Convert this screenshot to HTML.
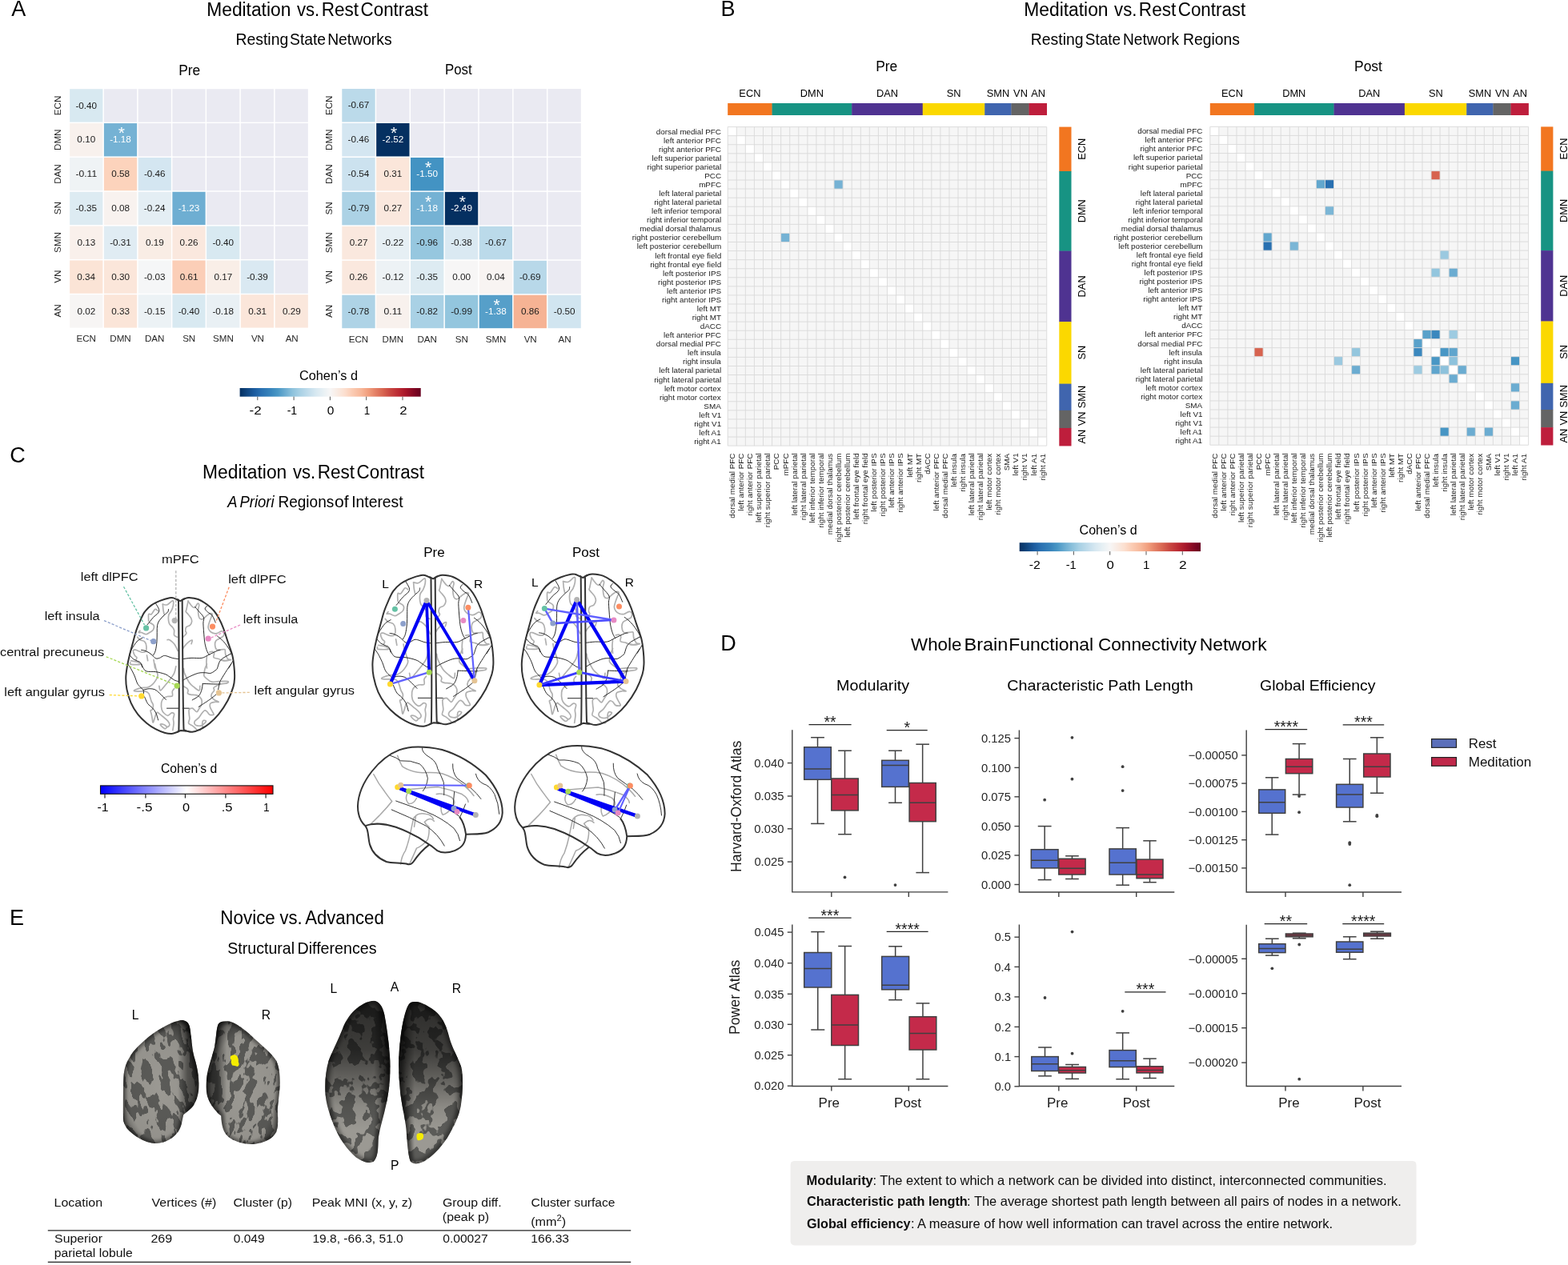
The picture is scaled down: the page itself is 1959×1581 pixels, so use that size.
<!DOCTYPE html>
<html><head><meta charset="utf-8"><title>Figure</title>
<style>html,body{margin:0;padding:0;background:#fff;overflow:hidden;}svg{display:block;}</style>
</head><body>
<svg width="1959" height="1581" viewBox="0 0 1959 1581" font-family="'Liberation Sans', Arial, Helvetica, sans-serif">
<text x="14.25" y="20.3" font-size="27">A</text>
<text x="258.27" y="19.9" font-size="23.5" textLength="105.05" lengthAdjust="spacingAndGlyphs">Meditation</text>
<text x="370.92" y="19.9" font-size="23.5" textLength="28.23" lengthAdjust="spacingAndGlyphs">vs.</text>
<text x="401.67" y="19.9" font-size="23.5" textLength="46.4" lengthAdjust="spacingAndGlyphs">Rest</text>
<text x="450.61" y="19.9" font-size="23.5" textLength="84.37" lengthAdjust="spacingAndGlyphs">Contrast</text>
<text x="294.38" y="55.9" font-size="19.8" textLength="65.9" lengthAdjust="spacingAndGlyphs">Resting</text>
<text x="362.1" y="55.9" font-size="19.8" textLength="44.98" lengthAdjust="spacingAndGlyphs">State</text>
<text x="409.18" y="55.9" font-size="19.8" textLength="80.44" lengthAdjust="spacingAndGlyphs">Networks</text>
<text x="223.16" y="93.9" font-size="17.5" textLength="27.11" lengthAdjust="spacingAndGlyphs">Pre</text>
<text x="556.06" y="93.2" font-size="17.5" textLength="33.56" lengthAdjust="spacingAndGlyphs">Post</text>
<rect x="87.15" y="111.25" width="41.24" height="41.34" fill="#d8e9f1"/>
<text x="94.41" y="135.52" font-size="11.7" textLength="26.67" lengthAdjust="spacingAndGlyphs" fill="#1a1a1a">-0.40</text>
<rect x="129.89" y="111.25" width="41.24" height="41.34" fill="#eaeaf2"/>
<rect x="172.64" y="111.25" width="41.24" height="41.34" fill="#eaeaf2"/>
<rect x="215.38" y="111.25" width="41.24" height="41.34" fill="#eaeaf2"/>
<rect x="258.12" y="111.25" width="41.24" height="41.34" fill="#eaeaf2"/>
<rect x="300.86" y="111.25" width="41.24" height="41.34" fill="#eaeaf2"/>
<rect x="343.61" y="111.25" width="41.24" height="41.34" fill="#eaeaf2"/>
<rect x="87.15" y="154.09" width="41.24" height="41.34" fill="#f8f1ed"/>
<text x="96.39" y="178.35" font-size="11.7" textLength="22.77" lengthAdjust="spacingAndGlyphs" fill="#1a1a1a">0.10</text>
<rect x="129.89" y="154.09" width="41.24" height="41.34" fill="#75b2d4"/>
<text x="137.17" y="178.35" font-size="11.7" textLength="26.67" lengthAdjust="spacingAndGlyphs" fill="#ffffff">-1.18</text>
<text x="147.72" y="173.32" font-size="21" fill="#ffffff">*</text>
<rect x="172.64" y="154.09" width="41.24" height="41.34" fill="#eaeaf2"/>
<rect x="215.38" y="154.09" width="41.24" height="41.34" fill="#eaeaf2"/>
<rect x="258.12" y="154.09" width="41.24" height="41.34" fill="#eaeaf2"/>
<rect x="300.86" y="154.09" width="41.24" height="41.34" fill="#eaeaf2"/>
<rect x="343.61" y="154.09" width="41.24" height="41.34" fill="#eaeaf2"/>
<rect x="87.15" y="196.92" width="41.24" height="41.34" fill="#eff3f5"/>
<text x="94.46" y="221.19" font-size="11.7" textLength="26.67" lengthAdjust="spacingAndGlyphs" fill="#1a1a1a">-0.11</text>
<rect x="129.89" y="196.92" width="41.24" height="41.34" fill="#fcd3bc"/>
<text x="139.15" y="221.19" font-size="11.7" textLength="22.77" lengthAdjust="spacingAndGlyphs" fill="#1a1a1a">0.58</text>
<rect x="172.64" y="196.92" width="41.24" height="41.34" fill="#d4e6f1"/>
<text x="179.92" y="221.19" font-size="11.7" textLength="26.67" lengthAdjust="spacingAndGlyphs" fill="#1a1a1a">-0.46</text>
<rect x="215.38" y="196.92" width="41.24" height="41.34" fill="#eaeaf2"/>
<rect x="258.12" y="196.92" width="41.24" height="41.34" fill="#eaeaf2"/>
<rect x="300.86" y="196.92" width="41.24" height="41.34" fill="#eaeaf2"/>
<rect x="343.61" y="196.92" width="41.24" height="41.34" fill="#eaeaf2"/>
<rect x="87.15" y="239.76" width="41.24" height="41.34" fill="#ddebf2"/>
<text x="94.42" y="264.03" font-size="11.7" textLength="26.67" lengthAdjust="spacingAndGlyphs" fill="#1a1a1a">-0.35</text>
<rect x="129.89" y="239.76" width="41.24" height="41.34" fill="#f8f2ef"/>
<text x="139.15" y="264.03" font-size="11.7" textLength="22.77" lengthAdjust="spacingAndGlyphs" fill="#1a1a1a">0.08</text>
<rect x="172.64" y="239.76" width="41.24" height="41.34" fill="#e4eef4"/>
<text x="179.83" y="264.03" font-size="11.7" textLength="26.67" lengthAdjust="spacingAndGlyphs" fill="#1a1a1a">-0.24</text>
<rect x="215.38" y="239.76" width="41.24" height="41.34" fill="#6eaed2"/>
<text x="222.66" y="264.03" font-size="11.7" textLength="26.67" lengthAdjust="spacingAndGlyphs" fill="#ffffff">-1.23</text>
<rect x="258.12" y="239.76" width="41.24" height="41.34" fill="#eaeaf2"/>
<rect x="300.86" y="239.76" width="41.24" height="41.34" fill="#eaeaf2"/>
<rect x="343.61" y="239.76" width="41.24" height="41.34" fill="#eaeaf2"/>
<rect x="87.15" y="282.59" width="41.24" height="41.34" fill="#f9f0eb"/>
<text x="96.41" y="306.86" font-size="11.7" textLength="22.77" lengthAdjust="spacingAndGlyphs" fill="#1a1a1a">0.13</text>
<rect x="129.89" y="282.59" width="41.24" height="41.34" fill="#e0ecf3"/>
<text x="137.21" y="306.86" font-size="11.7" textLength="26.67" lengthAdjust="spacingAndGlyphs" fill="#1a1a1a">-0.31</text>
<rect x="172.64" y="282.59" width="41.24" height="41.34" fill="#f9ede5"/>
<text x="181.92" y="306.86" font-size="11.7" textLength="22.77" lengthAdjust="spacingAndGlyphs" fill="#1a1a1a">0.19</text>
<rect x="215.38" y="282.59" width="41.24" height="41.34" fill="#fae8de"/>
<text x="224.64" y="306.86" font-size="11.7" textLength="22.77" lengthAdjust="spacingAndGlyphs" fill="#1a1a1a">0.26</text>
<rect x="258.12" y="282.59" width="41.24" height="41.34" fill="#d8e9f1"/>
<text x="265.38" y="306.86" font-size="11.7" textLength="26.67" lengthAdjust="spacingAndGlyphs" fill="#1a1a1a">-0.40</text>
<rect x="300.86" y="282.59" width="41.24" height="41.34" fill="#eaeaf2"/>
<rect x="343.61" y="282.59" width="41.24" height="41.34" fill="#eaeaf2"/>
<rect x="87.15" y="325.43" width="41.24" height="41.34" fill="#fbe4d6"/>
<text x="96.33" y="349.7" font-size="11.7" textLength="22.77" lengthAdjust="spacingAndGlyphs" fill="#1a1a1a">0.34</text>
<rect x="129.89" y="325.43" width="41.24" height="41.34" fill="#fbe6da"/>
<text x="139.13" y="349.7" font-size="11.7" textLength="22.77" lengthAdjust="spacingAndGlyphs" fill="#1a1a1a">0.30</text>
<rect x="172.64" y="325.43" width="41.24" height="41.34" fill="#f5f6f7"/>
<text x="179.92" y="349.7" font-size="11.7" textLength="26.67" lengthAdjust="spacingAndGlyphs" fill="#1a1a1a">-0.03</text>
<rect x="215.38" y="325.43" width="41.24" height="41.34" fill="#fbceb7"/>
<text x="224.67" y="349.7" font-size="11.7" textLength="22.77" lengthAdjust="spacingAndGlyphs" fill="#1a1a1a">0.61</text>
<rect x="258.12" y="325.43" width="41.24" height="41.34" fill="#f9eee7"/>
<text x="267.42" y="349.7" font-size="11.7" textLength="22.77" lengthAdjust="spacingAndGlyphs" fill="#1a1a1a">0.17</text>
<rect x="300.86" y="325.43" width="41.24" height="41.34" fill="#dae9f2"/>
<text x="308.17" y="349.7" font-size="11.7" textLength="26.67" lengthAdjust="spacingAndGlyphs" fill="#1a1a1a">-0.39</text>
<rect x="343.61" y="325.43" width="41.24" height="41.34" fill="#eaeaf2"/>
<rect x="87.15" y="368.26" width="41.24" height="41.34" fill="#f7f5f4"/>
<text x="96.45" y="392.53" font-size="11.7" textLength="22.77" lengthAdjust="spacingAndGlyphs" fill="#1a1a1a">0.02</text>
<rect x="129.89" y="368.26" width="41.24" height="41.34" fill="#fbe5d8"/>
<text x="139.16" y="392.53" font-size="11.7" textLength="22.77" lengthAdjust="spacingAndGlyphs" fill="#1a1a1a">0.33</text>
<rect x="172.64" y="368.26" width="41.24" height="41.34" fill="#ecf2f5"/>
<text x="179.91" y="392.53" font-size="11.7" textLength="26.67" lengthAdjust="spacingAndGlyphs" fill="#1a1a1a">-0.15</text>
<rect x="215.38" y="368.26" width="41.24" height="41.34" fill="#d8e9f1"/>
<text x="222.63" y="392.53" font-size="11.7" textLength="26.67" lengthAdjust="spacingAndGlyphs" fill="#1a1a1a">-0.40</text>
<rect x="258.12" y="368.26" width="41.24" height="41.34" fill="#e9f0f4"/>
<text x="265.4" y="392.53" font-size="11.7" textLength="26.67" lengthAdjust="spacingAndGlyphs" fill="#1a1a1a">-0.18</text>
<rect x="300.86" y="368.26" width="41.24" height="41.34" fill="#fbe6da"/>
<text x="310.16" y="392.53" font-size="11.7" textLength="22.77" lengthAdjust="spacingAndGlyphs" fill="#1a1a1a">0.31</text>
<rect x="343.61" y="368.26" width="41.24" height="41.34" fill="#fae7dc"/>
<text x="352.89" y="392.53" font-size="11.7" textLength="22.77" lengthAdjust="spacingAndGlyphs" fill="#1a1a1a">0.29</text>
<text x="95.52" y="426.8" font-size="11.6" textLength="24.49" lengthAdjust="spacingAndGlyphs" fill="#262626">ECN</text>
<g transform="translate(72.2 131.92) rotate(-90)"><text x="-12.25" y="3.99" font-size="11.6" textLength="24.49" lengthAdjust="spacingAndGlyphs" fill="#262626">ECN</text></g>
<text x="137.3" y="426.8" font-size="11.6" textLength="26.42" lengthAdjust="spacingAndGlyphs" fill="#262626">DMN</text>
<g transform="translate(72.2 174.75) rotate(-90)"><text x="-13.21" y="3.99" font-size="11.6" textLength="26.42" lengthAdjust="spacingAndGlyphs" fill="#262626">DMN</text></g>
<text x="181.01" y="426.8" font-size="11.6" textLength="24.49" lengthAdjust="spacingAndGlyphs" fill="#262626">DAN</text>
<g transform="translate(72.2 217.59) rotate(-90)"><text x="-12.25" y="3.99" font-size="11.6" textLength="24.49" lengthAdjust="spacingAndGlyphs" fill="#262626">DAN</text></g>
<text x="228.15" y="426.8" font-size="11.6" textLength="16.11" lengthAdjust="spacingAndGlyphs" fill="#262626">SN</text>
<g transform="translate(72.2 260.43) rotate(-90)"><text x="-7.85" y="3.99" font-size="11.6" textLength="16.11" lengthAdjust="spacingAndGlyphs" fill="#262626">SN</text></g>
<text x="266.06" y="426.8" font-size="11.6" textLength="25.78" lengthAdjust="spacingAndGlyphs" fill="#262626">SMN</text>
<g transform="translate(72.2 303.26) rotate(-90)"><text x="-12.68" y="3.99" font-size="11.6" textLength="25.78" lengthAdjust="spacingAndGlyphs" fill="#262626">SMN</text></g>
<text x="313.88" y="426.8" font-size="11.6" textLength="16.11" lengthAdjust="spacingAndGlyphs" fill="#262626">VN</text>
<g transform="translate(72.2 346.1) rotate(-90)"><text x="-7.61" y="3.99" font-size="11.6" textLength="16.11" lengthAdjust="spacingAndGlyphs" fill="#262626">VN</text></g>
<text x="356.63" y="426.8" font-size="11.6" textLength="16.11" lengthAdjust="spacingAndGlyphs" fill="#262626">AN</text>
<g transform="translate(72.2 388.93) rotate(-90)"><text x="-7.6" y="3.99" font-size="11.6" textLength="16.11" lengthAdjust="spacingAndGlyphs" fill="#262626">AN</text></g>
<rect x="427.3" y="111.05" width="41.36" height="41.45" fill="#bbdaea"/>
<text x="434.68" y="135.38" font-size="11.7" textLength="26.67" lengthAdjust="spacingAndGlyphs" fill="#1a1a1a">-0.67</text>
<rect x="470.16" y="111.05" width="41.36" height="41.45" fill="#eaeaf2"/>
<rect x="513.01" y="111.05" width="41.36" height="41.45" fill="#eaeaf2"/>
<rect x="555.87" y="111.05" width="41.36" height="41.45" fill="#eaeaf2"/>
<rect x="598.73" y="111.05" width="41.36" height="41.45" fill="#eaeaf2"/>
<rect x="641.59" y="111.05" width="41.36" height="41.45" fill="#eaeaf2"/>
<rect x="684.44" y="111.05" width="41.36" height="41.45" fill="#eaeaf2"/>
<rect x="427.3" y="154" width="41.36" height="41.45" fill="#d4e6f1"/>
<text x="434.64" y="178.32" font-size="11.7" textLength="26.67" lengthAdjust="spacingAndGlyphs" fill="#1a1a1a">-0.46</text>
<rect x="470.16" y="154" width="41.36" height="41.45" fill="#053061"/>
<text x="477.54" y="178.32" font-size="11.7" textLength="26.67" lengthAdjust="spacingAndGlyphs" fill="#ffffff">-2.52</text>
<text x="488.04" y="173.29" font-size="21" fill="#ffffff">*</text>
<rect x="513.01" y="154" width="41.36" height="41.45" fill="#eaeaf2"/>
<rect x="555.87" y="154" width="41.36" height="41.45" fill="#eaeaf2"/>
<rect x="598.73" y="154" width="41.36" height="41.45" fill="#eaeaf2"/>
<rect x="641.59" y="154" width="41.36" height="41.45" fill="#eaeaf2"/>
<rect x="684.44" y="154" width="41.36" height="41.45" fill="#eaeaf2"/>
<rect x="427.3" y="196.95" width="41.36" height="41.45" fill="#cce2ef"/>
<text x="434.56" y="221.27" font-size="11.7" textLength="26.67" lengthAdjust="spacingAndGlyphs" fill="#1a1a1a">-0.54</text>
<rect x="470.16" y="196.95" width="41.36" height="41.45" fill="#fbe6da"/>
<text x="479.51" y="221.27" font-size="11.7" textLength="22.77" lengthAdjust="spacingAndGlyphs" fill="#1a1a1a">0.31</text>
<rect x="513.01" y="196.95" width="41.36" height="41.45" fill="#4393c3"/>
<text x="520.33" y="221.27" font-size="11.7" textLength="26.67" lengthAdjust="spacingAndGlyphs" fill="#ffffff">-1.50</text>
<text x="530.9" y="216.24" font-size="21" fill="#ffffff">*</text>
<rect x="555.87" y="196.95" width="41.36" height="41.45" fill="#eaeaf2"/>
<rect x="598.73" y="196.95" width="41.36" height="41.45" fill="#eaeaf2"/>
<rect x="641.59" y="196.95" width="41.36" height="41.45" fill="#eaeaf2"/>
<rect x="684.44" y="196.95" width="41.36" height="41.45" fill="#eaeaf2"/>
<rect x="427.3" y="239.9" width="41.36" height="41.45" fill="#acd2e5"/>
<text x="434.66" y="264.23" font-size="11.7" textLength="26.67" lengthAdjust="spacingAndGlyphs" fill="#1a1a1a">-0.79</text>
<rect x="470.16" y="239.9" width="41.36" height="41.45" fill="#fae8de"/>
<text x="479.52" y="264.23" font-size="11.7" textLength="22.77" lengthAdjust="spacingAndGlyphs" fill="#1a1a1a">0.27</text>
<rect x="513.01" y="239.9" width="41.36" height="41.45" fill="#75b2d4"/>
<text x="520.35" y="264.23" font-size="11.7" textLength="26.67" lengthAdjust="spacingAndGlyphs" fill="#ffffff">-1.18</text>
<text x="530.9" y="259.19" font-size="21" fill="#ffffff">*</text>
<rect x="555.87" y="239.9" width="41.36" height="41.45" fill="#053061"/>
<text x="563.23" y="264.23" font-size="11.7" textLength="26.67" lengthAdjust="spacingAndGlyphs" fill="#ffffff">-2.49</text>
<text x="573.75" y="259.19" font-size="21" fill="#ffffff">*</text>
<rect x="598.73" y="239.9" width="41.36" height="41.45" fill="#eaeaf2"/>
<rect x="641.59" y="239.9" width="41.36" height="41.45" fill="#eaeaf2"/>
<rect x="684.44" y="239.9" width="41.36" height="41.45" fill="#eaeaf2"/>
<rect x="427.3" y="282.85" width="41.36" height="41.45" fill="#fae8de"/>
<text x="436.66" y="307.18" font-size="11.7" textLength="22.77" lengthAdjust="spacingAndGlyphs" fill="#1a1a1a">0.27</text>
<rect x="470.16" y="282.85" width="41.36" height="41.45" fill="#e6eff4"/>
<text x="477.54" y="307.18" font-size="11.7" textLength="26.67" lengthAdjust="spacingAndGlyphs" fill="#1a1a1a">-0.22</text>
<rect x="513.01" y="282.85" width="41.36" height="41.45" fill="#96c7df"/>
<text x="520.36" y="307.18" font-size="11.7" textLength="26.67" lengthAdjust="spacingAndGlyphs" fill="#1a1a1a">-0.96</text>
<rect x="555.87" y="282.85" width="41.36" height="41.45" fill="#dae9f2"/>
<text x="563.21" y="307.18" font-size="11.7" textLength="26.67" lengthAdjust="spacingAndGlyphs" fill="#1a1a1a">-0.38</text>
<rect x="598.73" y="282.85" width="41.36" height="41.45" fill="#bbdaea"/>
<text x="606.11" y="307.18" font-size="11.7" textLength="26.67" lengthAdjust="spacingAndGlyphs" fill="#1a1a1a">-0.67</text>
<rect x="641.59" y="282.85" width="41.36" height="41.45" fill="#eaeaf2"/>
<rect x="684.44" y="282.85" width="41.36" height="41.45" fill="#eaeaf2"/>
<rect x="427.3" y="325.8" width="41.36" height="41.45" fill="#fae8de"/>
<text x="436.62" y="350.12" font-size="11.7" textLength="22.77" lengthAdjust="spacingAndGlyphs" fill="#1a1a1a">0.26</text>
<rect x="470.16" y="325.8" width="41.36" height="41.45" fill="#edf2f5"/>
<text x="477.54" y="350.12" font-size="11.7" textLength="26.67" lengthAdjust="spacingAndGlyphs" fill="#1a1a1a">-0.12</text>
<rect x="513.01" y="325.8" width="41.36" height="41.45" fill="#ddebf2"/>
<text x="520.34" y="350.12" font-size="11.7" textLength="26.67" lengthAdjust="spacingAndGlyphs" fill="#1a1a1a">-0.35</text>
<rect x="555.87" y="325.8" width="41.36" height="41.45" fill="#f7f6f6"/>
<text x="565.16" y="350.12" font-size="11.7" textLength="22.77" lengthAdjust="spacingAndGlyphs" fill="#1a1a1a">0.00</text>
<rect x="598.73" y="325.8" width="41.36" height="41.45" fill="#f8f4f2"/>
<text x="607.96" y="350.12" font-size="11.7" textLength="22.77" lengthAdjust="spacingAndGlyphs" fill="#1a1a1a">0.04</text>
<rect x="641.59" y="325.8" width="41.36" height="41.45" fill="#b8d8e9"/>
<text x="648.95" y="350.12" font-size="11.7" textLength="26.67" lengthAdjust="spacingAndGlyphs" fill="#1a1a1a">-0.69</text>
<rect x="684.44" y="325.8" width="41.36" height="41.45" fill="#eaeaf2"/>
<rect x="427.3" y="368.75" width="41.36" height="41.45" fill="#aed3e6"/>
<text x="434.64" y="393.08" font-size="11.7" textLength="26.67" lengthAdjust="spacingAndGlyphs" fill="#1a1a1a">-0.78</text>
<rect x="470.16" y="368.75" width="41.36" height="41.45" fill="#f8f1ed"/>
<text x="479.51" y="393.08" font-size="11.7" textLength="22.77" lengthAdjust="spacingAndGlyphs" fill="#1a1a1a">0.11</text>
<rect x="513.01" y="368.75" width="41.36" height="41.45" fill="#a9d1e5"/>
<text x="520.39" y="393.08" font-size="11.7" textLength="26.67" lengthAdjust="spacingAndGlyphs" fill="#1a1a1a">-0.82</text>
<rect x="555.87" y="368.75" width="41.36" height="41.45" fill="#93c6de"/>
<text x="563.23" y="393.08" font-size="11.7" textLength="26.67" lengthAdjust="spacingAndGlyphs" fill="#1a1a1a">-0.99</text>
<rect x="598.73" y="368.75" width="41.36" height="41.45" fill="#569fc9"/>
<text x="606.07" y="393.08" font-size="11.7" textLength="26.67" lengthAdjust="spacingAndGlyphs" fill="#ffffff">-1.38</text>
<text x="616.61" y="388.04" font-size="21" fill="#ffffff">*</text>
<rect x="641.59" y="368.75" width="41.36" height="41.45" fill="#f6b394"/>
<text x="650.91" y="393.08" font-size="11.7" textLength="22.77" lengthAdjust="spacingAndGlyphs" fill="#1a1a1a">0.86</text>
<rect x="684.44" y="368.75" width="41.36" height="41.45" fill="#d1e5f0"/>
<text x="691.76" y="393.08" font-size="11.7" textLength="26.67" lengthAdjust="spacingAndGlyphs" fill="#1a1a1a">-0.50</text>
<text x="435.73" y="427.6" font-size="11.6" textLength="24.49" lengthAdjust="spacingAndGlyphs" fill="#262626">ECN</text>
<g transform="translate(411 131.78) rotate(-90)"><text x="-12.25" y="3.99" font-size="11.6" textLength="24.49" lengthAdjust="spacingAndGlyphs" fill="#262626">ECN</text></g>
<text x="477.62" y="427.6" font-size="11.6" textLength="26.42" lengthAdjust="spacingAndGlyphs" fill="#262626">DMN</text>
<g transform="translate(411 174.72) rotate(-90)"><text x="-13.21" y="3.99" font-size="11.6" textLength="26.42" lengthAdjust="spacingAndGlyphs" fill="#262626">DMN</text></g>
<text x="521.44" y="427.6" font-size="11.6" textLength="24.49" lengthAdjust="spacingAndGlyphs" fill="#262626">DAN</text>
<g transform="translate(411 217.67) rotate(-90)"><text x="-12.25" y="3.99" font-size="11.6" textLength="24.49" lengthAdjust="spacingAndGlyphs" fill="#262626">DAN</text></g>
<text x="568.7" y="427.6" font-size="11.6" textLength="16.11" lengthAdjust="spacingAndGlyphs" fill="#262626">SN</text>
<g transform="translate(411 260.62) rotate(-90)"><text x="-7.85" y="3.99" font-size="11.6" textLength="16.11" lengthAdjust="spacingAndGlyphs" fill="#262626">SN</text></g>
<text x="606.73" y="427.6" font-size="11.6" textLength="25.78" lengthAdjust="spacingAndGlyphs" fill="#262626">SMN</text>
<g transform="translate(411 303.57) rotate(-90)"><text x="-12.68" y="3.99" font-size="11.6" textLength="25.78" lengthAdjust="spacingAndGlyphs" fill="#262626">SMN</text></g>
<text x="654.65" y="427.6" font-size="11.6" textLength="16.11" lengthAdjust="spacingAndGlyphs" fill="#262626">VN</text>
<g transform="translate(411 346.52) rotate(-90)"><text x="-7.61" y="3.99" font-size="11.6" textLength="16.11" lengthAdjust="spacingAndGlyphs" fill="#262626">VN</text></g>
<text x="697.53" y="427.6" font-size="11.6" textLength="16.11" lengthAdjust="spacingAndGlyphs" fill="#262626">AN</text>
<g transform="translate(411 389.47) rotate(-90)"><text x="-7.6" y="3.99" font-size="11.6" textLength="16.11" lengthAdjust="spacingAndGlyphs" fill="#262626">AN</text></g>
<defs><linearGradient id="cbgA" x1="0" x2="1" y1="0" y2="0"><stop offset="0" stop-color="#053061"/><stop offset="0.04" stop-color="#114781"/><stop offset="0.08" stop-color="#1c5c9f"/><stop offset="0.12" stop-color="#2a71b2"/><stop offset="0.17" stop-color="#3885bc"/><stop offset="0.21" stop-color="#4997c5"/><stop offset="0.25" stop-color="#6bacd1"/><stop offset="0.29" stop-color="#8dc2dc"/><stop offset="0.33" stop-color="#a7d0e4"/><stop offset="0.38" stop-color="#c2ddec"/><stop offset="0.42" stop-color="#d7e8f1"/><stop offset="0.46" stop-color="#e7f0f4"/><stop offset="0.5" stop-color="#f7f6f6"/><stop offset="0.54" stop-color="#f9ebe3"/><stop offset="0.58" stop-color="#fcdfcf"/><stop offset="0.62" stop-color="#fbccb4"/><stop offset="0.67" stop-color="#f7b799"/><stop offset="0.71" stop-color="#f19e7d"/><stop offset="0.75" stop-color="#e48066"/><stop offset="0.79" stop-color="#d86551"/><stop offset="0.83" stop-color="#c94741"/><stop offset="0.88" stop-color="#ba2832"/><stop offset="0.92" stop-color="#a51429"/><stop offset="0.96" stop-color="#840924"/><stop offset="1" stop-color="#67001f"/></linearGradient></defs>
<rect x="299.6" y="485" width="226.1" height="10.7" fill="url(#cbgA)"/>
<line x1="321.8" y1="495.7" x2="321.8" y2="500.2" stroke="#555" stroke-width="1"/>
<text x="311.56" y="517.9" font-size="14.5" textLength="15.17" lengthAdjust="spacingAndGlyphs">-2</text>
<line x1="367.1" y1="495.7" x2="367.1" y2="500.2" stroke="#555" stroke-width="1"/>
<text x="358.66" y="517.9" font-size="14.5" textLength="12.55" lengthAdjust="spacingAndGlyphs">-1</text>
<line x1="412.4" y1="495.7" x2="412.4" y2="500.2" stroke="#555" stroke-width="1"/>
<text x="408.83" y="517.9" font-size="14.5" textLength="8.63" lengthAdjust="spacingAndGlyphs">0</text>
<line x1="457.7" y1="495.7" x2="457.7" y2="500.2" stroke="#555" stroke-width="1"/>
<text x="454.7" y="517.9" font-size="14.5" textLength="7.51" lengthAdjust="spacingAndGlyphs">1</text>
<line x1="503" y1="495.7" x2="503" y2="500.2" stroke="#555" stroke-width="1"/>
<text x="499.37" y="517.9" font-size="14.5" textLength="9.36" lengthAdjust="spacingAndGlyphs">2</text>
<text x="374.04" y="475" font-size="16.2" textLength="72.95" lengthAdjust="spacingAndGlyphs">Cohen’s d</text>
<text x="900.39" y="20.3" font-size="27">B</text>
<text x="1279.27" y="19.9" font-size="23.5" textLength="105.25" lengthAdjust="spacingAndGlyphs">Meditation</text>
<text x="1392.12" y="19.9" font-size="23.5" textLength="28.23" lengthAdjust="spacingAndGlyphs">vs.</text>
<text x="1422.87" y="19.9" font-size="23.5" textLength="46.4" lengthAdjust="spacingAndGlyphs">Rest</text>
<text x="1471.81" y="19.9" font-size="23.5" textLength="84.37" lengthAdjust="spacingAndGlyphs">Contrast</text>
<text x="1287.78" y="55.9" font-size="19.8" textLength="65.8" lengthAdjust="spacingAndGlyphs">Resting</text>
<text x="1355.8" y="55.9" font-size="19.8" textLength="44.28" lengthAdjust="spacingAndGlyphs">State</text>
<text x="1402.98" y="55.9" font-size="19.8" textLength="70.2" lengthAdjust="spacingAndGlyphs">Network</text>
<text x="1478.08" y="55.9" font-size="19.8" textLength="70.94" lengthAdjust="spacingAndGlyphs">Regions</text>
<rect x="909.2" y="158.6" width="398.52" height="398.52" fill="#f6f6f6"/>
<rect x="909.2" y="158.6" width="11.07" height="11.07" fill="#ffffff"/>
<rect x="920.27" y="169.67" width="11.07" height="11.07" fill="#ffffff"/>
<rect x="931.34" y="180.74" width="11.07" height="11.07" fill="#ffffff"/>
<rect x="942.41" y="191.81" width="11.07" height="11.07" fill="#ffffff"/>
<rect x="953.48" y="202.88" width="11.07" height="11.07" fill="#ffffff"/>
<rect x="964.55" y="213.95" width="11.07" height="11.07" fill="#ffffff"/>
<rect x="975.62" y="225.02" width="11.07" height="11.07" fill="#ffffff"/>
<rect x="986.69" y="236.09" width="11.07" height="11.07" fill="#ffffff"/>
<rect x="997.76" y="247.16" width="11.07" height="11.07" fill="#ffffff"/>
<rect x="1008.83" y="258.23" width="11.07" height="11.07" fill="#ffffff"/>
<rect x="1019.9" y="269.3" width="11.07" height="11.07" fill="#ffffff"/>
<rect x="1030.97" y="280.37" width="11.07" height="11.07" fill="#ffffff"/>
<rect x="1042.04" y="291.44" width="11.07" height="11.07" fill="#ffffff"/>
<rect x="1053.11" y="302.51" width="11.07" height="11.07" fill="#ffffff"/>
<rect x="1064.18" y="313.58" width="11.07" height="11.07" fill="#ffffff"/>
<rect x="1075.25" y="324.65" width="11.07" height="11.07" fill="#ffffff"/>
<rect x="1086.32" y="335.72" width="11.07" height="11.07" fill="#ffffff"/>
<rect x="1097.39" y="346.79" width="11.07" height="11.07" fill="#ffffff"/>
<rect x="1108.46" y="357.86" width="11.07" height="11.07" fill="#ffffff"/>
<rect x="1119.53" y="368.93" width="11.07" height="11.07" fill="#ffffff"/>
<rect x="1130.6" y="380" width="11.07" height="11.07" fill="#ffffff"/>
<rect x="1141.67" y="391.07" width="11.07" height="11.07" fill="#ffffff"/>
<rect x="1152.74" y="402.14" width="11.07" height="11.07" fill="#ffffff"/>
<rect x="1163.81" y="413.21" width="11.07" height="11.07" fill="#ffffff"/>
<rect x="1174.88" y="424.28" width="11.07" height="11.07" fill="#ffffff"/>
<rect x="1185.95" y="435.35" width="11.07" height="11.07" fill="#ffffff"/>
<rect x="1197.02" y="446.42" width="11.07" height="11.07" fill="#ffffff"/>
<rect x="1208.09" y="457.49" width="11.07" height="11.07" fill="#ffffff"/>
<rect x="1219.16" y="468.56" width="11.07" height="11.07" fill="#ffffff"/>
<rect x="1230.23" y="479.63" width="11.07" height="11.07" fill="#ffffff"/>
<rect x="1241.3" y="490.7" width="11.07" height="11.07" fill="#ffffff"/>
<rect x="1252.37" y="501.77" width="11.07" height="11.07" fill="#ffffff"/>
<rect x="1263.44" y="512.84" width="11.07" height="11.07" fill="#ffffff"/>
<rect x="1274.51" y="523.91" width="11.07" height="11.07" fill="#ffffff"/>
<rect x="1285.58" y="534.98" width="11.07" height="11.07" fill="#ffffff"/>
<rect x="1296.65" y="546.05" width="11.07" height="11.07" fill="#ffffff"/>
<rect x="1042.04" y="225.02" width="11.07" height="11.07" fill="#75b2d4"/>
<rect x="975.62" y="291.44" width="11.07" height="11.07" fill="#75b2d4"/>
<path d="M909.2 158.6V557.12M909.2 158.6H1307.72M920.27 158.6V557.12M909.2 169.67H1307.72M931.34 158.6V557.12M909.2 180.74H1307.72M942.41 158.6V557.12M909.2 191.81H1307.72M953.48 158.6V557.12M909.2 202.88H1307.72M964.55 158.6V557.12M909.2 213.95H1307.72M975.62 158.6V557.12M909.2 225.02H1307.72M986.69 158.6V557.12M909.2 236.09H1307.72M997.76 158.6V557.12M909.2 247.16H1307.72M1008.83 158.6V557.12M909.2 258.23H1307.72M1019.9 158.6V557.12M909.2 269.3H1307.72M1030.97 158.6V557.12M909.2 280.37H1307.72M1042.04 158.6V557.12M909.2 291.44H1307.72M1053.11 158.6V557.12M909.2 302.51H1307.72M1064.18 158.6V557.12M909.2 313.58H1307.72M1075.25 158.6V557.12M909.2 324.65H1307.72M1086.32 158.6V557.12M909.2 335.72H1307.72M1097.39 158.6V557.12M909.2 346.79H1307.72M1108.46 158.6V557.12M909.2 357.86H1307.72M1119.53 158.6V557.12M909.2 368.93H1307.72M1130.6 158.6V557.12M909.2 380H1307.72M1141.67 158.6V557.12M909.2 391.07H1307.72M1152.74 158.6V557.12M909.2 402.14H1307.72M1163.81 158.6V557.12M909.2 413.21H1307.72M1174.88 158.6V557.12M909.2 424.28H1307.72M1185.95 158.6V557.12M909.2 435.35H1307.72M1197.02 158.6V557.12M909.2 446.42H1307.72M1208.09 158.6V557.12M909.2 457.49H1307.72M1219.16 158.6V557.12M909.2 468.56H1307.72M1230.23 158.6V557.12M909.2 479.63H1307.72M1241.3 158.6V557.12M909.2 490.7H1307.72M1252.37 158.6V557.12M909.2 501.77H1307.72M1263.44 158.6V557.12M909.2 512.84H1307.72M1274.51 158.6V557.12M909.2 523.91H1307.72M1285.58 158.6V557.12M909.2 534.98H1307.72M1296.65 158.6V557.12M909.2 546.05H1307.72M1307.72 158.6V557.12M909.2 557.12H1307.72" stroke="#d9d9d9" stroke-width="1" fill="none" stroke-opacity="0.9"/>
<text x="819.75" y="167.53" font-size="9.9" fill="#1a1a1a">dorsal medial PFC</text>
<text x="829.1" y="178.6" font-size="9.9" fill="#1a1a1a">left anterior PFC</text>
<text x="823.05" y="189.68" font-size="9.9" fill="#1a1a1a">right anterior PFC</text>
<text x="814.52" y="200.75" font-size="9.9" fill="#1a1a1a">left superior parietal</text>
<text x="808.47" y="211.81" font-size="9.9" fill="#1a1a1a">right superior parietal</text>
<text x="880.27" y="222.89" font-size="9.9" fill="#1a1a1a">PCC</text>
<text x="873.13" y="233.96" font-size="9.9" fill="#1a1a1a">mPFC</text>
<text x="823.32" y="245.03" font-size="9.9" fill="#1a1a1a">left lateral parietal</text>
<text x="817.27" y="256.09" font-size="9.9" fill="#1a1a1a">right lateral parietal</text>
<text x="813.98" y="267.16" font-size="9.9" fill="#1a1a1a">left inferior temporal</text>
<text x="807.92" y="278.23" font-size="9.9" fill="#1a1a1a">right inferior temporal</text>
<text x="799.36" y="289.3" font-size="9.9" fill="#1a1a1a">medial dorsal thalamus</text>
<text x="789.75" y="300.38" font-size="9.9" fill="#1a1a1a">right posterior cerebellum</text>
<text x="795.81" y="311.44" font-size="9.9" fill="#1a1a1a">left posterior cerebellum</text>
<text x="818.34" y="322.51" font-size="9.9" fill="#1a1a1a">left frontal eye field</text>
<text x="812.29" y="333.58" font-size="9.9" fill="#1a1a1a">right frontal eye field</text>
<text x="828.07" y="344.65" font-size="9.9" fill="#1a1a1a">left posterior IPS</text>
<text x="822.02" y="355.72" font-size="9.9" fill="#1a1a1a">right posterior IPS</text>
<text x="833.02" y="366.79" font-size="9.9" fill="#1a1a1a">left anterior IPS</text>
<text x="826.97" y="377.87" font-size="9.9" fill="#1a1a1a">right anterior IPS</text>
<text x="870.78" y="388.93" font-size="9.9" fill="#1a1a1a">left MT</text>
<text x="864.72" y="400" font-size="9.9" fill="#1a1a1a">right MT</text>
<text x="874.77" y="411.07" font-size="9.9" fill="#1a1a1a">dACC</text>
<text x="829.1" y="422.14" font-size="9.9" fill="#1a1a1a">left anterior PFC</text>
<text x="819.75" y="433.22" font-size="9.9" fill="#1a1a1a">dorsal medial PFC</text>
<text x="858.98" y="444.28" font-size="9.9" fill="#1a1a1a">left insula</text>
<text x="852.92" y="455.36" font-size="9.9" fill="#1a1a1a">right insula</text>
<text x="823.32" y="466.42" font-size="9.9" fill="#1a1a1a">left lateral parietal</text>
<text x="817.27" y="477.5" font-size="9.9" fill="#1a1a1a">right lateral parietal</text>
<text x="829.93" y="488.56" font-size="9.9" fill="#1a1a1a">left motor cortex</text>
<text x="823.88" y="499.63" font-size="9.9" fill="#1a1a1a">right motor cortex</text>
<text x="879.37" y="510.7" font-size="9.9" fill="#1a1a1a">SMA</text>
<text x="873.22" y="521.77" font-size="9.9" fill="#1a1a1a">left V1</text>
<text x="867.17" y="532.85" font-size="9.9" fill="#1a1a1a">right V1</text>
<text x="873.22" y="543.91" font-size="9.9" fill="#1a1a1a">left A1</text>
<text x="867.17" y="554.99" font-size="9.9" fill="#1a1a1a">right A1</text>
<g transform="translate(914.74 566.8) rotate(-90)"><text x="-81.05" y="3.4" font-size="9.9" fill="#1a1a1a">dorsal medial PFC</text></g>
<g transform="translate(925.81 566.8) rotate(-90)"><text x="-71.7" y="3.4" font-size="9.9" fill="#1a1a1a">left anterior PFC</text></g>
<g transform="translate(936.88 566.8) rotate(-90)"><text x="-77.75" y="3.4" font-size="9.9" fill="#1a1a1a">right anterior PFC</text></g>
<g transform="translate(947.95 566.8) rotate(-90)"><text x="-86.28" y="3.4" font-size="9.9" fill="#1a1a1a">left superior parietal</text></g>
<g transform="translate(959.02 566.8) rotate(-90)"><text x="-92.33" y="3.4" font-size="9.9" fill="#1a1a1a">right superior parietal</text></g>
<g transform="translate(970.09 566.8) rotate(-90)"><text x="-20.53" y="3.4" font-size="9.9" fill="#1a1a1a">PCC</text></g>
<g transform="translate(981.16 566.8) rotate(-90)"><text x="-27.67" y="3.4" font-size="9.9" fill="#1a1a1a">mPFC</text></g>
<g transform="translate(992.23 566.8) rotate(-90)"><text x="-77.48" y="3.4" font-size="9.9" fill="#1a1a1a">left lateral parietal</text></g>
<g transform="translate(1003.3 566.8) rotate(-90)"><text x="-83.53" y="3.4" font-size="9.9" fill="#1a1a1a">right lateral parietal</text></g>
<g transform="translate(1014.37 566.8) rotate(-90)"><text x="-86.82" y="3.4" font-size="9.9" fill="#1a1a1a">left inferior temporal</text></g>
<g transform="translate(1025.43 566.8) rotate(-90)"><text x="-92.88" y="3.4" font-size="9.9" fill="#1a1a1a">right inferior temporal</text></g>
<g transform="translate(1036.51 566.8) rotate(-90)"><text x="-101.44" y="3.4" font-size="9.9" fill="#1a1a1a">medial dorsal thalamus</text></g>
<g transform="translate(1047.58 566.8) rotate(-90)"><text x="-111.05" y="3.4" font-size="9.9" fill="#1a1a1a">right posterior cerebellum</text></g>
<g transform="translate(1058.64 566.8) rotate(-90)"><text x="-104.99" y="3.4" font-size="9.9" fill="#1a1a1a">left posterior cerebellum</text></g>
<g transform="translate(1069.72 566.8) rotate(-90)"><text x="-82.46" y="3.4" font-size="9.9" fill="#1a1a1a">left frontal eye field</text></g>
<g transform="translate(1080.79 566.8) rotate(-90)"><text x="-88.51" y="3.4" font-size="9.9" fill="#1a1a1a">right frontal eye field</text></g>
<g transform="translate(1091.86 566.8) rotate(-90)"><text x="-72.73" y="3.4" font-size="9.9" fill="#1a1a1a">left posterior IPS</text></g>
<g transform="translate(1102.92 566.8) rotate(-90)"><text x="-78.78" y="3.4" font-size="9.9" fill="#1a1a1a">right posterior IPS</text></g>
<g transform="translate(1114 566.8) rotate(-90)"><text x="-67.78" y="3.4" font-size="9.9" fill="#1a1a1a">left anterior IPS</text></g>
<g transform="translate(1125.07 566.8) rotate(-90)"><text x="-73.83" y="3.4" font-size="9.9" fill="#1a1a1a">right anterior IPS</text></g>
<g transform="translate(1136.13 566.8) rotate(-90)"><text x="-30.02" y="3.4" font-size="9.9" fill="#1a1a1a">left MT</text></g>
<g transform="translate(1147.2 566.8) rotate(-90)"><text x="-36.08" y="3.4" font-size="9.9" fill="#1a1a1a">right MT</text></g>
<g transform="translate(1158.28 566.8) rotate(-90)"><text x="-26.03" y="3.4" font-size="9.9" fill="#1a1a1a">dACC</text></g>
<g transform="translate(1169.35 566.8) rotate(-90)"><text x="-71.7" y="3.4" font-size="9.9" fill="#1a1a1a">left anterior PFC</text></g>
<g transform="translate(1180.41 566.8) rotate(-90)"><text x="-81.05" y="3.4" font-size="9.9" fill="#1a1a1a">dorsal medial PFC</text></g>
<g transform="translate(1191.49 566.8) rotate(-90)"><text x="-41.82" y="3.4" font-size="9.9" fill="#1a1a1a">left insula</text></g>
<g transform="translate(1202.56 566.8) rotate(-90)"><text x="-47.88" y="3.4" font-size="9.9" fill="#1a1a1a">right insula</text></g>
<g transform="translate(1213.62 566.8) rotate(-90)"><text x="-77.48" y="3.4" font-size="9.9" fill="#1a1a1a">left lateral parietal</text></g>
<g transform="translate(1224.7 566.8) rotate(-90)"><text x="-83.53" y="3.4" font-size="9.9" fill="#1a1a1a">right lateral parietal</text></g>
<g transform="translate(1235.77 566.8) rotate(-90)"><text x="-70.87" y="3.4" font-size="9.9" fill="#1a1a1a">left motor cortex</text></g>
<g transform="translate(1246.84 566.8) rotate(-90)"><text x="-76.92" y="3.4" font-size="9.9" fill="#1a1a1a">right motor cortex</text></g>
<g transform="translate(1257.9 566.8) rotate(-90)"><text x="-21.43" y="3.4" font-size="9.9" fill="#1a1a1a">SMA</text></g>
<g transform="translate(1268.98 566.8) rotate(-90)"><text x="-27.58" y="3.4" font-size="9.9" fill="#1a1a1a">left V1</text></g>
<g transform="translate(1280.05 566.8) rotate(-90)"><text x="-33.63" y="3.4" font-size="9.9" fill="#1a1a1a">right V1</text></g>
<g transform="translate(1291.12 566.8) rotate(-90)"><text x="-27.58" y="3.4" font-size="9.9" fill="#1a1a1a">left A1</text></g>
<g transform="translate(1302.18 566.8) rotate(-90)"><text x="-33.63" y="3.4" font-size="9.9" fill="#1a1a1a">right A1</text></g>
<rect x="909.2" y="129" width="55.65" height="15" fill="#f27620"/>
<text x="923.36" y="121.1" font-size="12.8" textLength="27.02" lengthAdjust="spacingAndGlyphs">ECN</text>
<rect x="964.55" y="129" width="99.93" height="15" fill="#179383"/>
<text x="999.79" y="121.1" font-size="12.8" textLength="29.15" lengthAdjust="spacingAndGlyphs">DMN</text>
<rect x="1064.18" y="129" width="88.86" height="15" fill="#4f3391"/>
<text x="1094.94" y="121.1" font-size="12.8" textLength="27.03" lengthAdjust="spacingAndGlyphs">DAN</text>
<rect x="1152.74" y="129" width="77.79" height="15" fill="#fbd800"/>
<text x="1182.83" y="121.1" font-size="12.8" textLength="17.78" lengthAdjust="spacingAndGlyphs">SN</text>
<rect x="1230.23" y="129" width="33.51" height="15" fill="#4065ae"/>
<text x="1232.84" y="121.1" font-size="12.8" textLength="28.44" lengthAdjust="spacingAndGlyphs">SMN</text>
<rect x="1263.44" y="129" width="22.44" height="15" fill="#646464"/>
<text x="1266.11" y="121.1" font-size="12.8" textLength="17.78" lengthAdjust="spacingAndGlyphs">VN</text>
<rect x="1285.58" y="129" width="22.44" height="15" fill="#be1e3c"/>
<text x="1288.27" y="121.1" font-size="12.8" textLength="17.78" lengthAdjust="spacingAndGlyphs">AN</text>
<rect x="1323.3" y="158.6" width="15.2" height="55.65" fill="#f27620"/>
<g transform="translate(1351.3 186.28) rotate(-90)"><text x="-13.52" y="4.4" font-size="12.8" textLength="27.03" lengthAdjust="spacingAndGlyphs">ECN</text></g>
<rect x="1323.3" y="213.95" width="15.2" height="99.93" fill="#179383"/>
<g transform="translate(1351.3 263.76) rotate(-90)"><text x="-14.58" y="4.4" font-size="12.8" textLength="29.15" lengthAdjust="spacingAndGlyphs">DMN</text></g>
<rect x="1323.3" y="313.58" width="15.2" height="88.86" fill="#4f3391"/>
<g transform="translate(1351.3 357.86) rotate(-90)"><text x="-13.52" y="4.4" font-size="12.8" textLength="27.03" lengthAdjust="spacingAndGlyphs">DAN</text></g>
<rect x="1323.3" y="402.14" width="15.2" height="77.79" fill="#fbd800"/>
<g transform="translate(1351.3 440.88) rotate(-90)"><text x="-8.66" y="4.4" font-size="12.8" textLength="17.78" lengthAdjust="spacingAndGlyphs">SN</text></g>
<rect x="1323.3" y="479.63" width="15.2" height="33.51" fill="#4065ae"/>
<g transform="translate(1351.3 496.24) rotate(-90)"><text x="-13.99" y="4.4" font-size="12.8" textLength="28.44" lengthAdjust="spacingAndGlyphs">SMN</text></g>
<rect x="1323.3" y="512.84" width="15.2" height="22.44" fill="#646464"/>
<g transform="translate(1351.3 523.91) rotate(-90)"><text x="-8.4" y="4.4" font-size="12.8" textLength="17.78" lengthAdjust="spacingAndGlyphs">VN</text></g>
<rect x="1323.3" y="534.98" width="15.2" height="22.44" fill="#be1e3c"/>
<g transform="translate(1351.3 546.05) rotate(-90)"><text x="-8.38" y="4.4" font-size="12.8" textLength="17.78" lengthAdjust="spacingAndGlyphs">AN</text></g>
<text x="1094.16" y="88.8" font-size="17.5" textLength="27.11" lengthAdjust="spacingAndGlyphs">Pre</text>
<rect x="1511.8" y="158.4" width="397.8" height="397.8" fill="#f6f6f6"/>
<rect x="1511.8" y="158.4" width="11.05" height="11.05" fill="#ffffff"/>
<rect x="1522.85" y="169.45" width="11.05" height="11.05" fill="#ffffff"/>
<rect x="1533.9" y="180.5" width="11.05" height="11.05" fill="#ffffff"/>
<rect x="1544.95" y="191.55" width="11.05" height="11.05" fill="#ffffff"/>
<rect x="1556" y="202.6" width="11.05" height="11.05" fill="#ffffff"/>
<rect x="1567.05" y="213.65" width="11.05" height="11.05" fill="#ffffff"/>
<rect x="1578.1" y="224.7" width="11.05" height="11.05" fill="#ffffff"/>
<rect x="1589.15" y="235.75" width="11.05" height="11.05" fill="#ffffff"/>
<rect x="1600.2" y="246.8" width="11.05" height="11.05" fill="#ffffff"/>
<rect x="1611.25" y="257.85" width="11.05" height="11.05" fill="#ffffff"/>
<rect x="1622.3" y="268.9" width="11.05" height="11.05" fill="#ffffff"/>
<rect x="1633.35" y="279.95" width="11.05" height="11.05" fill="#ffffff"/>
<rect x="1644.4" y="291" width="11.05" height="11.05" fill="#ffffff"/>
<rect x="1655.45" y="302.05" width="11.05" height="11.05" fill="#ffffff"/>
<rect x="1666.5" y="313.1" width="11.05" height="11.05" fill="#ffffff"/>
<rect x="1677.55" y="324.15" width="11.05" height="11.05" fill="#ffffff"/>
<rect x="1688.6" y="335.2" width="11.05" height="11.05" fill="#ffffff"/>
<rect x="1699.65" y="346.25" width="11.05" height="11.05" fill="#ffffff"/>
<rect x="1710.7" y="357.3" width="11.05" height="11.05" fill="#ffffff"/>
<rect x="1721.75" y="368.35" width="11.05" height="11.05" fill="#ffffff"/>
<rect x="1732.8" y="379.4" width="11.05" height="11.05" fill="#ffffff"/>
<rect x="1743.85" y="390.45" width="11.05" height="11.05" fill="#ffffff"/>
<rect x="1754.9" y="401.5" width="11.05" height="11.05" fill="#ffffff"/>
<rect x="1765.95" y="412.55" width="11.05" height="11.05" fill="#ffffff"/>
<rect x="1777" y="423.6" width="11.05" height="11.05" fill="#ffffff"/>
<rect x="1788.05" y="434.65" width="11.05" height="11.05" fill="#ffffff"/>
<rect x="1799.1" y="445.7" width="11.05" height="11.05" fill="#ffffff"/>
<rect x="1810.15" y="456.75" width="11.05" height="11.05" fill="#ffffff"/>
<rect x="1821.2" y="467.8" width="11.05" height="11.05" fill="#ffffff"/>
<rect x="1832.25" y="478.85" width="11.05" height="11.05" fill="#ffffff"/>
<rect x="1843.3" y="489.9" width="11.05" height="11.05" fill="#ffffff"/>
<rect x="1854.35" y="500.95" width="11.05" height="11.05" fill="#ffffff"/>
<rect x="1865.4" y="512" width="11.05" height="11.05" fill="#ffffff"/>
<rect x="1876.45" y="523.05" width="11.05" height="11.05" fill="#ffffff"/>
<rect x="1887.5" y="534.1" width="11.05" height="11.05" fill="#ffffff"/>
<rect x="1898.55" y="545.15" width="11.05" height="11.05" fill="#ffffff"/>
<rect x="1788.05" y="213.65" width="11.05" height="11.05" fill="#d7634f"/>
<rect x="1567.05" y="434.65" width="11.05" height="11.05" fill="#d7634f"/>
<rect x="1644.4" y="224.7" width="11.05" height="11.05" fill="#62a7ce"/>
<rect x="1578.1" y="291" width="11.05" height="11.05" fill="#62a7ce"/>
<rect x="1655.45" y="224.7" width="11.05" height="11.05" fill="#2870b1"/>
<rect x="1578.1" y="302.05" width="11.05" height="11.05" fill="#2870b1"/>
<rect x="1655.45" y="257.85" width="11.05" height="11.05" fill="#7bb6d6"/>
<rect x="1611.25" y="302.05" width="11.05" height="11.05" fill="#7bb6d6"/>
<rect x="1799.1" y="313.1" width="11.05" height="11.05" fill="#9bc9e0"/>
<rect x="1666.5" y="445.7" width="11.05" height="11.05" fill="#9bc9e0"/>
<rect x="1788.05" y="335.2" width="11.05" height="11.05" fill="#93c6de"/>
<rect x="1688.6" y="434.65" width="11.05" height="11.05" fill="#93c6de"/>
<rect x="1810.15" y="335.2" width="11.05" height="11.05" fill="#6bacd1"/>
<rect x="1688.6" y="456.75" width="11.05" height="11.05" fill="#6bacd1"/>
<rect x="1777" y="412.55" width="11.05" height="11.05" fill="#59a1ca"/>
<rect x="1765.95" y="423.6" width="11.05" height="11.05" fill="#59a1ca"/>
<rect x="1788.05" y="412.55" width="11.05" height="11.05" fill="#3b88be"/>
<rect x="1765.95" y="434.65" width="11.05" height="11.05" fill="#3b88be"/>
<rect x="1810.15" y="412.55" width="11.05" height="11.05" fill="#9dcbe1"/>
<rect x="1765.95" y="456.75" width="11.05" height="11.05" fill="#9dcbe1"/>
<rect x="1799.1" y="434.65" width="11.05" height="11.05" fill="#4997c5"/>
<rect x="1788.05" y="445.7" width="11.05" height="11.05" fill="#4997c5"/>
<rect x="1810.15" y="434.65" width="11.05" height="11.05" fill="#5fa5cd"/>
<rect x="1788.05" y="456.75" width="11.05" height="11.05" fill="#5fa5cd"/>
<rect x="1810.15" y="445.7" width="11.05" height="11.05" fill="#8dc2dc"/>
<rect x="1799.1" y="456.75" width="11.05" height="11.05" fill="#8dc2dc"/>
<rect x="1887.5" y="445.7" width="11.05" height="11.05" fill="#4695c4"/>
<rect x="1799.1" y="534.1" width="11.05" height="11.05" fill="#4695c4"/>
<rect x="1821.2" y="456.75" width="11.05" height="11.05" fill="#6bacd1"/>
<rect x="1810.15" y="467.8" width="11.05" height="11.05" fill="#6bacd1"/>
<rect x="1887.5" y="478.85" width="11.05" height="11.05" fill="#6bacd1"/>
<rect x="1832.25" y="534.1" width="11.05" height="11.05" fill="#6bacd1"/>
<rect x="1887.5" y="500.95" width="11.05" height="11.05" fill="#6bacd1"/>
<rect x="1854.35" y="534.1" width="11.05" height="11.05" fill="#6bacd1"/>
<path d="M1511.8 158.4V556.2M1511.8 158.4H1909.6M1522.85 158.4V556.2M1511.8 169.45H1909.6M1533.9 158.4V556.2M1511.8 180.5H1909.6M1544.95 158.4V556.2M1511.8 191.55H1909.6M1556 158.4V556.2M1511.8 202.6H1909.6M1567.05 158.4V556.2M1511.8 213.65H1909.6M1578.1 158.4V556.2M1511.8 224.7H1909.6M1589.15 158.4V556.2M1511.8 235.75H1909.6M1600.2 158.4V556.2M1511.8 246.8H1909.6M1611.25 158.4V556.2M1511.8 257.85H1909.6M1622.3 158.4V556.2M1511.8 268.9H1909.6M1633.35 158.4V556.2M1511.8 279.95H1909.6M1644.4 158.4V556.2M1511.8 291H1909.6M1655.45 158.4V556.2M1511.8 302.05H1909.6M1666.5 158.4V556.2M1511.8 313.1H1909.6M1677.55 158.4V556.2M1511.8 324.15H1909.6M1688.6 158.4V556.2M1511.8 335.2H1909.6M1699.65 158.4V556.2M1511.8 346.25H1909.6M1710.7 158.4V556.2M1511.8 357.3H1909.6M1721.75 158.4V556.2M1511.8 368.35H1909.6M1732.8 158.4V556.2M1511.8 379.4H1909.6M1743.85 158.4V556.2M1511.8 390.45H1909.6M1754.9 158.4V556.2M1511.8 401.5H1909.6M1765.95 158.4V556.2M1511.8 412.55H1909.6M1777 158.4V556.2M1511.8 423.6H1909.6M1788.05 158.4V556.2M1511.8 434.65H1909.6M1799.1 158.4V556.2M1511.8 445.7H1909.6M1810.15 158.4V556.2M1511.8 456.75H1909.6M1821.2 158.4V556.2M1511.8 467.8H1909.6M1832.25 158.4V556.2M1511.8 478.85H1909.6M1843.3 158.4V556.2M1511.8 489.9H1909.6M1854.35 158.4V556.2M1511.8 500.95H1909.6M1865.4 158.4V556.2M1511.8 512H1909.6M1876.45 158.4V556.2M1511.8 523.05H1909.6M1887.5 158.4V556.2M1511.8 534.1H1909.6M1898.55 158.4V556.2M1511.8 545.15H1909.6M1909.6 158.4V556.2M1511.8 556.2H1909.6" stroke="#d9d9d9" stroke-width="1" fill="none" stroke-opacity="0.9"/>
<text x="1421.15" y="167.33" font-size="9.9" fill="#1a1a1a">dorsal medial PFC</text>
<text x="1430.5" y="178.38" font-size="9.9" fill="#1a1a1a">left anterior PFC</text>
<text x="1424.45" y="189.43" font-size="9.9" fill="#1a1a1a">right anterior PFC</text>
<text x="1415.92" y="200.48" font-size="9.9" fill="#1a1a1a">left superior parietal</text>
<text x="1409.87" y="211.53" font-size="9.9" fill="#1a1a1a">right superior parietal</text>
<text x="1481.67" y="222.58" font-size="9.9" fill="#1a1a1a">PCC</text>
<text x="1474.53" y="233.63" font-size="9.9" fill="#1a1a1a">mPFC</text>
<text x="1424.72" y="244.68" font-size="9.9" fill="#1a1a1a">left lateral parietal</text>
<text x="1418.67" y="255.73" font-size="9.9" fill="#1a1a1a">right lateral parietal</text>
<text x="1415.38" y="266.77" font-size="9.9" fill="#1a1a1a">left inferior temporal</text>
<text x="1409.32" y="277.82" font-size="9.9" fill="#1a1a1a">right inferior temporal</text>
<text x="1400.76" y="288.88" font-size="9.9" fill="#1a1a1a">medial dorsal thalamus</text>
<text x="1391.15" y="299.92" font-size="9.9" fill="#1a1a1a">right posterior cerebellum</text>
<text x="1397.21" y="310.98" font-size="9.9" fill="#1a1a1a">left posterior cerebellum</text>
<text x="1419.74" y="322.02" font-size="9.9" fill="#1a1a1a">left frontal eye field</text>
<text x="1413.69" y="333.07" font-size="9.9" fill="#1a1a1a">right frontal eye field</text>
<text x="1429.47" y="344.12" font-size="9.9" fill="#1a1a1a">left posterior IPS</text>
<text x="1423.42" y="355.17" font-size="9.9" fill="#1a1a1a">right posterior IPS</text>
<text x="1434.42" y="366.23" font-size="9.9" fill="#1a1a1a">left anterior IPS</text>
<text x="1428.37" y="377.27" font-size="9.9" fill="#1a1a1a">right anterior IPS</text>
<text x="1472.18" y="388.32" font-size="9.9" fill="#1a1a1a">left MT</text>
<text x="1466.12" y="399.38" font-size="9.9" fill="#1a1a1a">right MT</text>
<text x="1476.17" y="410.43" font-size="9.9" fill="#1a1a1a">dACC</text>
<text x="1430.5" y="421.48" font-size="9.9" fill="#1a1a1a">left anterior PFC</text>
<text x="1421.15" y="432.52" font-size="9.9" fill="#1a1a1a">dorsal medial PFC</text>
<text x="1460.38" y="443.58" font-size="9.9" fill="#1a1a1a">left insula</text>
<text x="1454.32" y="454.62" font-size="9.9" fill="#1a1a1a">right insula</text>
<text x="1424.72" y="465.67" font-size="9.9" fill="#1a1a1a">left lateral parietal</text>
<text x="1418.67" y="476.73" font-size="9.9" fill="#1a1a1a">right lateral parietal</text>
<text x="1431.33" y="487.77" font-size="9.9" fill="#1a1a1a">left motor cortex</text>
<text x="1425.28" y="498.83" font-size="9.9" fill="#1a1a1a">right motor cortex</text>
<text x="1480.77" y="509.88" font-size="9.9" fill="#1a1a1a">SMA</text>
<text x="1474.62" y="520.92" font-size="9.9" fill="#1a1a1a">left V1</text>
<text x="1468.57" y="531.98" font-size="9.9" fill="#1a1a1a">right V1</text>
<text x="1474.62" y="543.02" font-size="9.9" fill="#1a1a1a">left A1</text>
<text x="1468.57" y="554.08" font-size="9.9" fill="#1a1a1a">right A1</text>
<g transform="translate(1517.33 566.8) rotate(-90)"><text x="-81.05" y="3.4" font-size="9.9" fill="#1a1a1a">dorsal medial PFC</text></g>
<g transform="translate(1528.38 566.8) rotate(-90)"><text x="-71.7" y="3.4" font-size="9.9" fill="#1a1a1a">left anterior PFC</text></g>
<g transform="translate(1539.42 566.8) rotate(-90)"><text x="-77.75" y="3.4" font-size="9.9" fill="#1a1a1a">right anterior PFC</text></g>
<g transform="translate(1550.47 566.8) rotate(-90)"><text x="-86.28" y="3.4" font-size="9.9" fill="#1a1a1a">left superior parietal</text></g>
<g transform="translate(1561.52 566.8) rotate(-90)"><text x="-92.33" y="3.4" font-size="9.9" fill="#1a1a1a">right superior parietal</text></g>
<g transform="translate(1572.58 566.8) rotate(-90)"><text x="-20.53" y="3.4" font-size="9.9" fill="#1a1a1a">PCC</text></g>
<g transform="translate(1583.62 566.8) rotate(-90)"><text x="-27.67" y="3.4" font-size="9.9" fill="#1a1a1a">mPFC</text></g>
<g transform="translate(1594.67 566.8) rotate(-90)"><text x="-77.48" y="3.4" font-size="9.9" fill="#1a1a1a">left lateral parietal</text></g>
<g transform="translate(1605.72 566.8) rotate(-90)"><text x="-83.53" y="3.4" font-size="9.9" fill="#1a1a1a">right lateral parietal</text></g>
<g transform="translate(1616.77 566.8) rotate(-90)"><text x="-86.82" y="3.4" font-size="9.9" fill="#1a1a1a">left inferior temporal</text></g>
<g transform="translate(1627.83 566.8) rotate(-90)"><text x="-92.88" y="3.4" font-size="9.9" fill="#1a1a1a">right inferior temporal</text></g>
<g transform="translate(1638.88 566.8) rotate(-90)"><text x="-101.44" y="3.4" font-size="9.9" fill="#1a1a1a">medial dorsal thalamus</text></g>
<g transform="translate(1649.92 566.8) rotate(-90)"><text x="-111.05" y="3.4" font-size="9.9" fill="#1a1a1a">right posterior cerebellum</text></g>
<g transform="translate(1660.97 566.8) rotate(-90)"><text x="-104.99" y="3.4" font-size="9.9" fill="#1a1a1a">left posterior cerebellum</text></g>
<g transform="translate(1672.03 566.8) rotate(-90)"><text x="-82.46" y="3.4" font-size="9.9" fill="#1a1a1a">left frontal eye field</text></g>
<g transform="translate(1683.08 566.8) rotate(-90)"><text x="-88.51" y="3.4" font-size="9.9" fill="#1a1a1a">right frontal eye field</text></g>
<g transform="translate(1694.12 566.8) rotate(-90)"><text x="-72.73" y="3.4" font-size="9.9" fill="#1a1a1a">left posterior IPS</text></g>
<g transform="translate(1705.17 566.8) rotate(-90)"><text x="-78.78" y="3.4" font-size="9.9" fill="#1a1a1a">right posterior IPS</text></g>
<g transform="translate(1716.22 566.8) rotate(-90)"><text x="-67.78" y="3.4" font-size="9.9" fill="#1a1a1a">left anterior IPS</text></g>
<g transform="translate(1727.28 566.8) rotate(-90)"><text x="-73.83" y="3.4" font-size="9.9" fill="#1a1a1a">right anterior IPS</text></g>
<g transform="translate(1738.33 566.8) rotate(-90)"><text x="-30.02" y="3.4" font-size="9.9" fill="#1a1a1a">left MT</text></g>
<g transform="translate(1749.38 566.8) rotate(-90)"><text x="-36.08" y="3.4" font-size="9.9" fill="#1a1a1a">right MT</text></g>
<g transform="translate(1760.42 566.8) rotate(-90)"><text x="-26.03" y="3.4" font-size="9.9" fill="#1a1a1a">dACC</text></g>
<g transform="translate(1771.47 566.8) rotate(-90)"><text x="-71.7" y="3.4" font-size="9.9" fill="#1a1a1a">left anterior PFC</text></g>
<g transform="translate(1782.53 566.8) rotate(-90)"><text x="-81.05" y="3.4" font-size="9.9" fill="#1a1a1a">dorsal medial PFC</text></g>
<g transform="translate(1793.58 566.8) rotate(-90)"><text x="-41.82" y="3.4" font-size="9.9" fill="#1a1a1a">left insula</text></g>
<g transform="translate(1804.62 566.8) rotate(-90)"><text x="-47.88" y="3.4" font-size="9.9" fill="#1a1a1a">right insula</text></g>
<g transform="translate(1815.67 566.8) rotate(-90)"><text x="-77.48" y="3.4" font-size="9.9" fill="#1a1a1a">left lateral parietal</text></g>
<g transform="translate(1826.72 566.8) rotate(-90)"><text x="-83.53" y="3.4" font-size="9.9" fill="#1a1a1a">right lateral parietal</text></g>
<g transform="translate(1837.78 566.8) rotate(-90)"><text x="-70.87" y="3.4" font-size="9.9" fill="#1a1a1a">left motor cortex</text></g>
<g transform="translate(1848.83 566.8) rotate(-90)"><text x="-76.92" y="3.4" font-size="9.9" fill="#1a1a1a">right motor cortex</text></g>
<g transform="translate(1859.88 566.8) rotate(-90)"><text x="-21.43" y="3.4" font-size="9.9" fill="#1a1a1a">SMA</text></g>
<g transform="translate(1870.92 566.8) rotate(-90)"><text x="-27.58" y="3.4" font-size="9.9" fill="#1a1a1a">left V1</text></g>
<g transform="translate(1881.97 566.8) rotate(-90)"><text x="-33.63" y="3.4" font-size="9.9" fill="#1a1a1a">right V1</text></g>
<g transform="translate(1893.03 566.8) rotate(-90)"><text x="-27.58" y="3.4" font-size="9.9" fill="#1a1a1a">left A1</text></g>
<g transform="translate(1904.08 566.8) rotate(-90)"><text x="-33.63" y="3.4" font-size="9.9" fill="#1a1a1a">right A1</text></g>
<rect x="1511.8" y="129" width="55.55" height="15" fill="#f27620"/>
<text x="1525.91" y="121.1" font-size="12.8" textLength="27.03" lengthAdjust="spacingAndGlyphs">ECN</text>
<rect x="1567.05" y="129" width="99.75" height="15" fill="#179383"/>
<text x="1602.2" y="121.1" font-size="12.8" textLength="29.15" lengthAdjust="spacingAndGlyphs">DMN</text>
<rect x="1666.5" y="129" width="88.7" height="15" fill="#4f3391"/>
<text x="1697.18" y="121.1" font-size="12.8" textLength="27.03" lengthAdjust="spacingAndGlyphs">DAN</text>
<rect x="1754.9" y="129" width="77.65" height="15" fill="#fbd800"/>
<text x="1784.92" y="121.1" font-size="12.8" textLength="17.78" lengthAdjust="spacingAndGlyphs">SN</text>
<rect x="1832.25" y="129" width="33.45" height="15" fill="#4065ae"/>
<text x="1834.83" y="121.1" font-size="12.8" textLength="28.44" lengthAdjust="spacingAndGlyphs">SMN</text>
<rect x="1865.4" y="129" width="22.4" height="15" fill="#646464"/>
<text x="1868.05" y="121.1" font-size="12.8" textLength="17.78" lengthAdjust="spacingAndGlyphs">VN</text>
<rect x="1887.5" y="129" width="22.4" height="15" fill="#be1e3c"/>
<text x="1890.17" y="121.1" font-size="12.8" textLength="17.78" lengthAdjust="spacingAndGlyphs">AN</text>
<rect x="1925.2" y="158.4" width="15.2" height="55.55" fill="#f27620"/>
<g transform="translate(1953.2 186.03) rotate(-90)"><text x="-13.52" y="4.4" font-size="12.8" textLength="27.03" lengthAdjust="spacingAndGlyphs">ECN</text></g>
<rect x="1925.2" y="213.65" width="15.2" height="99.75" fill="#179383"/>
<g transform="translate(1953.2 263.38) rotate(-90)"><text x="-14.58" y="4.4" font-size="12.8" textLength="29.15" lengthAdjust="spacingAndGlyphs">DMN</text></g>
<rect x="1925.2" y="313.1" width="15.2" height="88.7" fill="#4f3391"/>
<g transform="translate(1953.2 357.3) rotate(-90)"><text x="-13.52" y="4.4" font-size="12.8" textLength="27.03" lengthAdjust="spacingAndGlyphs">DAN</text></g>
<rect x="1925.2" y="401.5" width="15.2" height="77.65" fill="#fbd800"/>
<g transform="translate(1953.2 440.18) rotate(-90)"><text x="-8.66" y="4.4" font-size="12.8" textLength="17.78" lengthAdjust="spacingAndGlyphs">SN</text></g>
<rect x="1925.2" y="478.85" width="15.2" height="33.45" fill="#4065ae"/>
<g transform="translate(1953.2 495.43) rotate(-90)"><text x="-13.99" y="4.4" font-size="12.8" textLength="28.44" lengthAdjust="spacingAndGlyphs">SMN</text></g>
<rect x="1925.2" y="512" width="15.2" height="22.4" fill="#646464"/>
<g transform="translate(1953.2 523.05) rotate(-90)"><text x="-8.4" y="4.4" font-size="12.8" textLength="17.78" lengthAdjust="spacingAndGlyphs">VN</text></g>
<rect x="1925.2" y="534.1" width="15.2" height="22.4" fill="#be1e3c"/>
<g transform="translate(1953.2 545.15) rotate(-90)"><text x="-8.38" y="4.4" font-size="12.8" textLength="17.78" lengthAdjust="spacingAndGlyphs">AN</text></g>
<text x="1692.06" y="88.8" font-size="17.5" textLength="34.86" lengthAdjust="spacingAndGlyphs">Post</text>
<defs><linearGradient id="cbgB" x1="0" x2="1" y1="0" y2="0"><stop offset="0" stop-color="#053061"/><stop offset="0.04" stop-color="#10457e"/><stop offset="0.08" stop-color="#1c5c9f"/><stop offset="0.12" stop-color="#2a71b2"/><stop offset="0.17" stop-color="#3783bb"/><stop offset="0.21" stop-color="#4997c5"/><stop offset="0.25" stop-color="#6bacd1"/><stop offset="0.29" stop-color="#8ac0db"/><stop offset="0.33" stop-color="#a7d0e4"/><stop offset="0.38" stop-color="#c2ddec"/><stop offset="0.42" stop-color="#d7e8f1"/><stop offset="0.46" stop-color="#e7f0f4"/><stop offset="0.5" stop-color="#f7f6f6"/><stop offset="0.54" stop-color="#f9ebe3"/><stop offset="0.58" stop-color="#fcdfcf"/><stop offset="0.62" stop-color="#fbccb4"/><stop offset="0.67" stop-color="#f7b799"/><stop offset="0.71" stop-color="#f19e7d"/><stop offset="0.75" stop-color="#e48066"/><stop offset="0.79" stop-color="#d86551"/><stop offset="0.83" stop-color="#c94741"/><stop offset="0.88" stop-color="#ba2832"/><stop offset="0.92" stop-color="#a51429"/><stop offset="0.96" stop-color="#840924"/><stop offset="1" stop-color="#67001f"/></linearGradient></defs>
<rect x="1273.7" y="678.2" width="226.3" height="10.9" fill="url(#cbgB)"/>
<line x1="1296.1" y1="689.1" x2="1296.1" y2="693.6" stroke="#555" stroke-width="1"/>
<text x="1285.86" y="710.8" font-size="14.5" textLength="14.07" lengthAdjust="spacingAndGlyphs">-2</text>
<line x1="1341.4" y1="689.1" x2="1341.4" y2="693.6" stroke="#555" stroke-width="1"/>
<text x="1331.66" y="710.8" font-size="14.5" textLength="12.95" lengthAdjust="spacingAndGlyphs">-1</text>
<line x1="1386.7" y1="689.1" x2="1386.7" y2="693.6" stroke="#555" stroke-width="1"/>
<text x="1382.63" y="710.8" font-size="14.5" textLength="9.33" lengthAdjust="spacingAndGlyphs">0</text>
<line x1="1432" y1="689.1" x2="1432" y2="693.6" stroke="#555" stroke-width="1"/>
<text x="1428.1" y="710.8" font-size="14.5" textLength="8.41" lengthAdjust="spacingAndGlyphs">1</text>
<line x1="1477.3" y1="689.1" x2="1477.3" y2="693.6" stroke="#555" stroke-width="1"/>
<text x="1472.97" y="710.8" font-size="14.5" textLength="9.66" lengthAdjust="spacingAndGlyphs">2</text>
<text x="1348.59" y="667.9" font-size="16" textLength="72.05" lengthAdjust="spacingAndGlyphs">Cohen’s d</text>
<text x="12.13" y="577.9" font-size="27">C</text>
<text x="253.07" y="598.3" font-size="23.5" textLength="105.25" lengthAdjust="spacingAndGlyphs">Meditation</text>
<text x="365.92" y="598.3" font-size="23.5" textLength="28.23" lengthAdjust="spacingAndGlyphs">vs.</text>
<text x="396.67" y="598.3" font-size="23.5" textLength="46.4" lengthAdjust="spacingAndGlyphs">Rest</text>
<text x="445.61" y="598.3" font-size="23.5" textLength="84.37" lengthAdjust="spacingAndGlyphs">Contrast</text>
<text x="284.28" y="633.7" font-size="19.8" textLength="12.29" lengthAdjust="spacingAndGlyphs" font-style="italic">A</text>
<text x="299.49" y="633.7" font-size="19.8" textLength="43.06" lengthAdjust="spacingAndGlyphs" font-style="italic">Priori</text>
<text x="347.48" y="633.7" font-size="19.8" textLength="69.74" lengthAdjust="spacingAndGlyphs">Regions</text>
<text x="417.97" y="633.7" font-size="19.8" textLength="17.7" lengthAdjust="spacingAndGlyphs">of</text>
<text x="439.17" y="633.7" font-size="19.8" textLength="64.47" lengthAdjust="spacingAndGlyphs">Interest</text>
<g transform="translate(150 740) scale(0.11700)">
<path d="M622.0 82.0C619.5 81.5 615.7 82.2 607.0 79.0C598.3 75.8 583.0 65.8 570.0 63.0C557.0 60.2 552.0 57.3 529.0 62.0C506.0 66.7 464.3 78.0 432.0 91.0C399.7 104.0 363.3 119.7 335.0 140.0C306.7 160.3 282.3 184.7 262.0 213.0C241.7 241.3 227.7 277.7 213.0 310.0C198.3 342.3 186.2 370.5 174.0 407.0C161.8 443.5 152.2 484.3 140.0 529.0C127.8 573.7 111.8 629.8 101.0 675.0C90.2 720.2 81.5 760.0 75.0 800.0C68.5 840.0 62.5 875.5 62.0 915.0C61.5 954.5 63.0 992.3 72.0 1037.0C81.0 1081.7 96.5 1138.5 116.0 1183.0C135.5 1227.5 160.7 1267.7 189.0 1304.0C217.3 1340.3 253.7 1374.2 286.0 1401.0C318.3 1427.8 350.7 1447.8 383.0 1465.0C415.3 1482.2 451.7 1496.0 480.0 1504.0C508.3 1512.0 532.2 1514.2 553.0 1513.0C573.8 1511.8 592.7 1501.8 605.0 1497.0C617.3 1492.2 623.3 1486.2 627.0 1484.0C632 1300 630 700 624 90Z" fill="#fff" stroke="none"/>
<path d="M662.0 84.0C666.7 81.7 677.5 74.0 690.0 70.0C702.5 66.0 713.0 58.8 737.0 60.0C761.0 61.2 801.5 64.5 834.0 77.0C866.5 89.5 903.5 114.0 932.0 135.0C960.5 156.0 984.8 179.5 1005.0 203.0C1025.2 226.5 1036.8 246.0 1053.0 276.0C1069.2 306.0 1085.8 340.8 1102.0 383.0C1118.2 425.2 1133.8 480.3 1150.0 529.0C1166.2 577.7 1187.7 629.8 1199.0 675.0C1210.3 720.2 1214.0 760.0 1218.0 800.0C1222.0 840.0 1224.5 879.7 1223.0 915.0C1221.5 950.3 1221.2 971.5 1209.0 1012.0C1196.8 1052.5 1176.0 1109.3 1150.0 1158.0C1124.0 1206.7 1085.3 1263.5 1053.0 1304.0C1020.7 1344.5 988.3 1374.2 956.0 1401.0C923.7 1427.8 889.8 1449.5 859.0 1465.0C828.2 1480.5 795.3 1490.8 771.0 1494.0C746.7 1497.2 728.2 1487.7 713.0 1484.0C697.8 1480.3 685.5 1474.0 680.0 1472.0C672 1300 668 700 664 90Z" fill="#fff" stroke="none"/>
<g fill="none" stroke="#b0b0b0" stroke-width="14.530" stroke-linecap="round" stroke-linejoin="round"><path d="M305.0 310.0C305.0 297.8 300.2 249.2 305.0 237.0C309.8 224.8 322.7 245.8 334.0 237.0C345.3 228.2 361.7 190.5 373.0 184.0C384.3 177.5 397.2 195.7 402.0 198.0"/><path d="M456.0 130.0C464.2 130.8 487.2 141.5 505.0 135.0C522.8 128.5 552.5 90.2 563.0 91.0C573.5 91.8 570.3 122.2 568.0 140.0C565.7 157.8 557.2 180.2 549.0 198.0C540.8 215.8 523.2 224.3 519.0 247.0C514.8 269.7 517.5 313.0 524.0 334.0C530.5 355.0 549.0 360.7 558.0 373.0C567.0 385.3 574.7 393.3 578.0 408.0C581.3 422.7 572.3 448.8 578.0 461.0C583.7 473.2 606.3 477.7 612.0 481.0"/><path d="M315.0 325.0C322.3 329.8 352.5 341.0 359.0 354.0C365.5 367.0 361.3 390.0 354.0 403.0C346.7 416.0 328.0 424.0 315.0 432.0C302.0 440.0 290.5 451.0 276.0 451.0C261.5 451.0 241.0 435.2 228.0 432.0C215.0 428.8 200.5 435.3 198.0 432.0C195.5 428.7 210.5 415.3 213.0 412.0"/><path d="M456.0 130.0C456.8 139.8 458.5 171.2 461.0 189.0C463.5 206.8 469.3 229.0 471.0 237.0"/><path d="M184.0 480.0C188.8 485.0 200.0 501.8 213.0 510.0C226.0 518.2 250.7 517.7 262.0 529.0C273.3 540.3 279.5 560.2 281.0 578.0C282.5 595.8 279.8 625.5 271.0 636.0C262.2 646.5 245.8 644.2 228.0 641.0C210.2 637.8 178.7 619.5 164.0 617.0C149.3 614.5 141.5 616.3 140.0 626.0C138.5 635.7 148.5 662.8 155.0 675.0C161.5 687.2 176.7 690.8 179.0 699.0C181.3 707.2 170.7 719.8 169.0 724.0"/><path d="M116.0 733.0C128.2 735.5 172.8 741.5 189.0 748.0C205.2 754.5 225.2 768.0 213.0 772.0C200.8 776.0 133.2 775.7 116.0 772.0C98.8 768.3 111.0 753.7 110.0 750.0"/><path d="M505.0 510.0C509.0 510.0 516.8 502.8 529.0 510.0C541.2 517.2 563.3 533.7 578.0 553.0C592.7 572.3 610.5 613.8 617.0 626.0"/><path d="M286 675L296 733"/><path d="M359 724L373 811"/><path d="M373.0 769.0C374.7 777.2 378.0 797.7 383.0 818.0C388.0 838.3 403.0 870.8 403.0 891.0C403.0 911.2 392.8 922.8 383.0 939.0C373.2 955.2 358.5 975.0 344.0 988.0C329.5 1001.0 315.3 1011.3 296.0 1017.0C276.7 1022.7 250.0 1017.8 228.0 1022.0C206.0 1026.2 177.0 1036.3 164.0 1042.0C151.0 1047.7 145.8 1052.8 150.0 1056.0C154.2 1059.2 168.8 1060.2 189.0 1061.0C209.2 1061.8 251.7 1057.7 271.0 1061.0C290.3 1064.3 296.8 1071.3 305.0 1081.0C313.2 1090.7 315.0 1104.5 320.0 1119.0C325.0 1133.5 329.3 1153.3 335.0 1168.0C340.7 1182.7 352.5 1192.3 354.0 1207.0C355.5 1221.7 348.8 1246.3 344.0 1256.0C339.2 1265.7 326.5 1257.0 325.0 1265.0C323.5 1273.0 331.8 1289.3 335.0 1304.0C338.2 1318.7 340.8 1338.3 344.0 1353.0C347.2 1367.7 347.5 1400.2 354.0 1392.0C360.5 1383.8 375.7 1321.8 383.0 1304.0C390.3 1286.2 395.5 1288.2 398.0 1285.0"/><path d="M597.0 793.0C593.8 805.2 589.3 841.7 578.0 866.0C566.7 890.3 545.3 917.0 529.0 939.0C512.7 961.0 496.2 979.3 480.0 998.0C463.8 1016.7 442.5 1050.2 432.0 1051.0C421.5 1051.8 419.5 1011.0 417.0 1003.0"/><path d="M578.0 1032.0C574.7 1036.8 561.3 1048.0 558.0 1061.0C554.7 1074.0 566.8 1101.0 558.0 1110.0C549.2 1119.0 521.2 1110.2 505.0 1115.0C488.8 1119.8 471.7 1127.7 461.0 1139.0C450.3 1150.3 443.5 1163.5 441.0 1183.0C438.5 1202.5 441.0 1237.3 446.0 1256.0C451.0 1274.7 460.3 1284.5 471.0 1295.0C481.7 1305.5 496.3 1319.8 510.0 1319.0C523.7 1318.2 541.7 1292.5 553.0 1290.0C564.3 1287.5 575.5 1293.5 578.0 1304.0C580.5 1314.5 568.8 1336.8 568.0 1353.0C567.2 1369.2 573.8 1380.7 573.0 1401.0C572.2 1421.3 564.7 1462.7 563.0 1475.0"/><path d="M403.0 1285.0C411.8 1292.3 438.2 1313.7 456.0 1329.0C473.8 1344.3 497.8 1362.5 510.0 1377.0C522.2 1391.5 529.8 1405.5 529.0 1416.0C528.2 1426.5 514.7 1440.0 505.0 1440.0C495.3 1440.0 483.2 1420.8 471.0 1416.0C458.8 1411.2 437.0 1408.5 432.0 1411.0C427.0 1413.5 433.0 1422.8 441.0 1431.0C449.0 1439.2 469.3 1458.5 480.0 1460.0C490.7 1461.5 500.8 1443.3 505.0 1440.0"/><path d="M727.0 96.0C730.3 100.8 738.8 114.5 747.0 125.0C755.2 135.5 767.2 152.5 776.0 159.0C784.8 165.5 791.2 170.3 800.0 164.0C808.8 157.7 821.7 125.0 829.0 121.0C836.3 117.0 843.2 128.7 844.0 140.0C844.8 151.3 834.0 167.2 834.0 189.0C834.0 210.8 837.5 254.0 844.0 271.0C850.5 288.0 864.0 290.2 873.0 291.0C882.0 291.8 888.2 283.3 898.0 276.0C907.8 268.7 920.7 255.0 932.0 247.0C943.3 239.0 957.2 229.7 966.0 228.0C974.8 226.3 983.5 230.7 985.0 237.0C986.5 243.3 979.8 253.0 975.0 266.0C970.2 279.0 961.7 297.2 956.0 315.0C950.3 332.8 941.0 356.8 941.0 373.0C941.0 389.2 947.8 401.3 956.0 412.0C964.2 422.7 977.0 432.2 990.0 437.0C1003.0 441.8 1018.7 444.3 1034.0 441.0C1049.3 437.7 1069.8 418.5 1082.0 417.0C1094.2 415.5 1103.7 423.0 1107.0 432.0C1110.3 441.0 1109.3 460.5 1102.0 471.0C1094.7 481.5 1076.0 487.0 1063.0 495.0C1050.0 503.0 1032.2 506.8 1024.0 519.0C1015.8 531.2 1012.3 551.8 1014.0 568.0C1015.7 584.2 1019.3 608.7 1034.0 616.0C1048.7 623.3 1087.5 612.0 1102.0 612.0C1116.5 612.0 1117.0 607.2 1121.0 616.0C1125.0 624.8 1121.2 648.7 1126.0 665.0C1130.8 681.3 1141.8 704.3 1150.0 714.0C1158.2 723.7 1179.0 719.8 1175.0 723.0C1171.0 726.2 1141.5 733.0 1126.0 733.0C1110.5 733.0 1089.3 724.7 1082.0 723.0"/><path d="M727.0 96.0C723.8 111.5 712.0 170.3 708.0 189.0C704.0 207.7 699.8 200.0 703.0 208.0C706.2 216.0 718.0 225.7 727.0 237.0C736.0 248.3 750.5 263.0 757.0 276.0C763.5 289.0 767.7 302.0 766.0 315.0C764.3 328.0 756.7 344.3 747.0 354.0C737.3 363.7 716.2 363.3 708.0 373.0C699.8 382.7 698.0 400.7 698.0 412.0C698.0 423.3 712.0 429.7 708.0 441.0C704.0 452.3 679.7 473.5 674.0 480.0"/><path d="M761.0 553.0C762.7 546.5 775.0 518.0 771.0 514.0C767.0 510.0 750.8 518.3 737.0 529.0C723.2 539.7 698.5 565.8 688.0 578.0C677.5 590.2 676.3 598.0 674.0 602.0"/><path d="M956.0 641.0C960.8 640.2 976.8 633.7 985.0 636.0C993.2 638.3 1002.5 644.5 1005.0 655.0C1007.5 665.5 992.0 689.2 1000.0 699.0C1008.0 708.8 1036.0 708.3 1053.0 714.0C1070.0 719.7 1080.2 731.5 1102.0 733.0C1123.8 734.5 1170.3 724.7 1184.0 723.0"/><path d="M927.0 685.0C926.2 695.5 922.0 726.8 922.0 748.0C922.0 769.2 926.2 801.3 927.0 812.0"/><path d="M927.0 769.0C923.7 777.2 911.8 801.8 907.0 818.0C902.2 834.2 899.5 853.0 898.0 866.0C896.5 879.0 892.3 885.3 898.0 896.0C903.7 906.7 918.3 919.5 932.0 930.0C945.7 940.5 959.8 955.0 980.0 959.0C1000.2 963.0 1024.7 954.8 1053.0 954.0C1081.3 953.2 1135.3 950.8 1150.0 954.0C1164.7 957.2 1153.2 968.2 1141.0 973.0C1128.8 977.8 1095.7 978.0 1077.0 983.0C1058.3 988.0 1041.8 996.5 1029.0 1003.0C1016.2 1009.5 1004.0 1014.0 1000.0 1022.0C996.0 1030.0 1008.3 1040.5 1005.0 1051.0C1001.7 1061.5 985.0 1073.7 980.0 1085.0C975.0 1096.3 970.8 1108.3 975.0 1119.0C979.2 1129.7 992.0 1140.0 1005.0 1149.0C1018.0 1158.0 1051.5 1169.0 1053.0 1173.0C1054.5 1177.0 1028.5 1170.5 1014.0 1173.0C999.5 1175.5 974.8 1179.2 966.0 1188.0C957.2 1196.8 957.8 1211.5 961.0 1226.0C964.2 1240.5 978.5 1261.2 985.0 1275.0C991.5 1288.8 1004.8 1303.3 1000.0 1309.0C995.2 1314.7 968.2 1314.7 956.0 1309.0C943.8 1303.3 936.0 1282.3 927.0 1275.0C918.0 1267.7 911.0 1261.7 902.0 1265.0C893.0 1268.3 883.5 1282.0 873.0 1295.0C862.5 1308.0 851.2 1329.3 839.0 1343.0C826.8 1356.7 807.3 1366.5 800.0 1377.0C792.7 1387.5 791.7 1397.8 795.0 1406.0C798.3 1414.2 807.8 1422.7 820.0 1426.0C832.2 1429.3 853.5 1430.8 868.0 1426.0C882.5 1421.2 898.8 1405.2 907.0 1397.0C915.2 1388.8 920.2 1381.2 917.0 1377.0C913.8 1372.8 894.5 1367.8 888.0 1372.0C881.5 1376.2 878.8 1389.0 878.0 1402.0C877.2 1415.0 882.2 1442.0 883.0 1450.0"/><path d="M679.0 818.0C680.5 826.0 678.3 841.7 688.0 866.0C697.7 890.3 720.7 939.7 737.0 964.0C753.3 988.3 768.2 997.5 786.0 1012.0C803.8 1026.5 832.7 1052.5 844.0 1051.0C855.3 1049.5 852.3 1011.0 854.0 1003.0"/><path d="M674.0 1003.0C680.5 1007.0 704.2 1019.0 713.0 1027.0C721.8 1035.0 725.5 1042.0 727.0 1051.0C728.5 1060.0 717.8 1073.7 722.0 1081.0C726.2 1088.3 737.3 1091.8 752.0 1095.0C766.7 1098.2 793.8 1096.0 810.0 1100.0C826.2 1104.0 838.5 1109.3 849.0 1119.0C859.5 1128.7 869.8 1143.3 873.0 1158.0C876.2 1172.7 872.8 1192.3 868.0 1207.0C863.2 1221.7 852.0 1233.8 844.0 1246.0C836.0 1258.2 828.8 1278.3 820.0 1280.0C811.2 1281.7 799.2 1262.5 791.0 1256.0C782.8 1249.5 780.0 1241.0 771.0 1241.0C762.0 1241.0 742.7 1245.5 737.0 1256.0C731.3 1266.5 736.2 1287.8 737.0 1304.0C737.8 1320.2 742.8 1336.8 742.0 1353.0C741.2 1369.2 727.2 1388.8 732.0 1401.0C736.8 1413.2 759.7 1417.8 771.0 1426.0C782.3 1434.2 791.0 1441.8 800.0 1450.0C809.0 1458.2 815.2 1470.8 825.0 1475.0C834.8 1479.2 853.3 1475.0 859.0 1475.0"/></g>
<g fill="none" stroke="#1e1e1e" stroke-width="8.120" stroke-linecap="round"><path d="M383.0 125.0C388.3 134.8 411.0 167.7 415.0 184.0C419.0 200.3 417.2 208.5 407.0 223.0C396.8 237.5 373.3 250.0 354.0 271.0C334.7 292.0 301.5 336.0 291.0 349.0"/><path d="M517.0 184.0C515.8 188.8 517.7 202.5 510.0 213.0C502.3 223.5 485.7 232.5 471.0 247.0C456.3 261.5 434.2 282.2 422.0 300.0C409.8 317.8 402.5 332.0 398.0 354.0C393.5 376.0 395.8 402.8 395.0 432.0C394.2 461.2 395.8 496.7 393.0 529.0C390.2 561.3 384.5 601.7 378.0 626.0C371.5 650.3 358.0 666.8 354.0 675.0"/><path d="M228.0 619.0C234.3 620.2 251.5 620.7 266.0 626.0C280.5 631.3 301.2 642.0 315.0 651.0C328.8 660.0 337.7 670.3 349.0 680.0C360.3 689.7 370.8 705.0 383.0 709.0C395.2 713.0 408.2 708.8 422.0 704.0C435.8 699.2 452.2 683.2 466.0 680.0C479.8 676.8 489.7 681.0 505.0 685.0C520.3 689.0 538.8 699.2 558.0 704.0C577.2 708.8 609.7 712.3 620.0 714.0"/><path d="M237.0 490.0C229.0 494.8 203.5 506.0 189.0 519.0C174.5 532.0 162.2 550.2 150.0 568.0C137.8 585.8 124.2 609.0 116.0 626.0C107.8 643.0 103.5 662.7 101.0 670.0"/><path d="M101.0 670.0C107.5 677.3 125.3 702.7 140.0 714.0C154.7 725.3 176.0 731.5 189.0 738.0C202.0 744.5 210.0 742.5 218.0 753.0C226.0 763.5 233.8 793.0 237.0 801.0"/><path d="M228.0 769.0C232.0 777.2 242.3 805.0 252.0 818.0C261.7 831.0 264.2 841.3 286.0 847.0C307.8 852.7 350.7 847.2 383.0 852.0C415.3 856.8 455.7 867.2 480.0 876.0C504.3 884.8 512.7 894.5 529.0 905.0C545.3 915.5 562.8 930.8 578.0 939.0C593.2 947.2 613.0 951.5 620.0 954.0"/><path d="M82.0 769.0C87.7 777.2 103.8 796.8 116.0 818.0C128.2 839.2 143.7 870.0 155.0 896.0C166.3 922.0 174.3 954.7 184.0 974.0C193.7 993.3 202.5 1000.0 213.0 1012.0C223.5 1024.0 240.5 1033.8 247.0 1046.0C253.5 1058.2 251.2 1078.5 252.0 1085.0"/><path d="M247.0 1046.0C257.5 1043.7 289.0 1032.7 310.0 1032.0C331.0 1031.3 354.3 1033.8 373.0 1042.0C391.7 1050.2 402.5 1063.2 422.0 1081.0C441.5 1098.8 478.7 1137.7 490.0 1149.0"/><path d="M262.0 1119.0C267.7 1131.2 282.3 1172.5 296.0 1192.0C309.7 1211.5 329.5 1219.7 344.0 1236.0C358.5 1252.3 372.5 1268.2 383.0 1290.0C393.5 1311.8 403.0 1354.2 407.0 1367.0"/><path d="M500 1241L626 1241"/><path d="M800.0 157.0C806.5 164.7 823.5 184.0 839.0 203.0C854.5 222.0 884.8 249.2 893.0 271.0C901.2 292.8 887.2 299.2 888.0 334.0C888.8 368.8 894.8 443.5 898.0 480.0C901.2 516.5 902.2 528.7 907.0 553.0C911.8 577.3 919.7 606.5 927.0 626.0C934.3 645.5 947.0 662.7 951.0 670.0"/><path d="M927.0 150.0C923.7 154.8 905.5 168.5 907.0 179.0C908.5 189.5 923.0 200.8 936.0 213.0C949.0 225.2 971.2 233.3 985.0 252.0C998.8 270.7 1013.3 312.8 1019.0 325.0"/><path d="M1039.0 471.0C1046.2 476.7 1067.5 491.3 1082.0 505.0C1096.5 518.7 1110.5 532.8 1126.0 553.0C1141.5 573.2 1164.5 607.3 1175.0 626.0C1185.5 644.7 1186.7 658.5 1189.0 665.0"/><path d="M668.0 714.0C683.5 712.3 726.8 705.7 761.0 704.0C795.2 702.3 842.2 709.7 873.0 704.0C903.8 698.3 918.3 683.0 946.0 670.0C973.7 657.0 1018.7 634.2 1039.0 626.0C1059.3 617.8 1063.2 621.8 1068.0 621.0"/><path d="M1180.0 660.0C1167.0 667.3 1121.5 690.2 1102.0 704.0C1082.5 717.8 1073.5 725.0 1063.0 743.0C1052.5 761.0 1044.7 798.0 1039.0 812.0C1033.3 826.0 1040.5 818.0 1029.0 827.0C1017.5 836.0 990.3 860.3 970.0 866.0C949.7 871.7 929.7 861.0 907.0 861.0C884.3 861.0 862.3 858.7 834.0 866.0C805.7 873.3 764.7 892.0 737.0 905.0C709.3 918.0 679.5 937.5 668.0 944.0"/><path d="M1204 738L1160 812"/><path d="M1184.0 769.0C1174.3 783.7 1145.3 826.2 1126.0 857.0C1106.7 887.8 1079.3 931.3 1068.0 954.0C1056.7 976.7 1061.3 978.5 1058.0 993.0C1054.7 1007.5 1049.7 1033.0 1048.0 1041.0"/><path d="M883.0 978.0C882.2 983.7 880.5 999.0 878.0 1012.0C875.5 1025.0 874.5 1039.7 868.0 1056.0C861.5 1072.3 855.2 1093.8 839.0 1110.0C822.8 1126.2 782.3 1145.8 771.0 1153.0"/><path d="M883.0 978.0C911.3 978.8 1023.0 984.5 1053.0 983.0C1083.0 981.5 1061.3 971.3 1063.0 969.0"/><path d="M1024.0 1095.0C1012.7 1104.0 986.8 1127.2 956.0 1149.0C925.2 1170.8 858.5 1213.2 839.0 1226.0"/><path d="M668 1241L737 1241"/></g>
<path d="M622.0 82.0C619.5 81.5 615.7 82.2 607.0 79.0C598.3 75.8 583.0 65.8 570.0 63.0C557.0 60.2 552.0 57.3 529.0 62.0C506.0 66.7 464.3 78.0 432.0 91.0C399.7 104.0 363.3 119.7 335.0 140.0C306.7 160.3 282.3 184.7 262.0 213.0C241.7 241.3 227.7 277.7 213.0 310.0C198.3 342.3 186.2 370.5 174.0 407.0C161.8 443.5 152.2 484.3 140.0 529.0C127.8 573.7 111.8 629.8 101.0 675.0C90.2 720.2 81.5 760.0 75.0 800.0C68.5 840.0 62.5 875.5 62.0 915.0C61.5 954.5 63.0 992.3 72.0 1037.0C81.0 1081.7 96.5 1138.5 116.0 1183.0C135.5 1227.5 160.7 1267.7 189.0 1304.0C217.3 1340.3 253.7 1374.2 286.0 1401.0C318.3 1427.8 350.7 1447.8 383.0 1465.0C415.3 1482.2 451.7 1496.0 480.0 1504.0C508.3 1512.0 532.2 1514.2 553.0 1513.0C573.8 1511.8 592.7 1501.8 605.0 1497.0C617.3 1492.2 623.3 1486.2 627.0 1484.0C632 1300 630 700 624 90Z" fill="none" stroke="#333" stroke-width="17.094" stroke-linejoin="round"/>
<path d="M662.0 84.0C666.7 81.7 677.5 74.0 690.0 70.0C702.5 66.0 713.0 58.8 737.0 60.0C761.0 61.2 801.5 64.5 834.0 77.0C866.5 89.5 903.5 114.0 932.0 135.0C960.5 156.0 984.8 179.5 1005.0 203.0C1025.2 226.5 1036.8 246.0 1053.0 276.0C1069.2 306.0 1085.8 340.8 1102.0 383.0C1118.2 425.2 1133.8 480.3 1150.0 529.0C1166.2 577.7 1187.7 629.8 1199.0 675.0C1210.3 720.2 1214.0 760.0 1218.0 800.0C1222.0 840.0 1224.5 879.7 1223.0 915.0C1221.5 950.3 1221.2 971.5 1209.0 1012.0C1196.8 1052.5 1176.0 1109.3 1150.0 1158.0C1124.0 1206.7 1085.3 1263.5 1053.0 1304.0C1020.7 1344.5 988.3 1374.2 956.0 1401.0C923.7 1427.8 889.8 1449.5 859.0 1465.0C828.2 1480.5 795.3 1490.8 771.0 1494.0C746.7 1497.2 728.2 1487.7 713.0 1484.0C697.8 1480.3 685.5 1474.0 680.0 1472.0C672 1300 668 700 664 90Z" fill="none" stroke="#333" stroke-width="17.094" stroke-linejoin="round"/>
<path d="M607 79 C622 84 634 92 644 95 C655 92 668 80 690 70 M605 1497 C622 1492 636 1480 650 1478 C665 1478 680 1484 713 1484" fill="none" stroke="#333" stroke-width="17.094"/>
</g>
<line x1="219.8" y1="713.3" x2="219.8" y2="773" stroke="#b3b3b3" stroke-width="1.3" stroke-dasharray="3.2 2"/>
<line x1="154.5" y1="733.2" x2="180.5" y2="781" stroke="#66c2a5" stroke-width="1.3" stroke-dasharray="3.2 2"/>
<line x1="286.2" y1="733.7" x2="269.4" y2="778.3" stroke="#fc8d62" stroke-width="1.3" stroke-dasharray="3.2 2"/>
<line x1="130" y1="775.6" x2="189" y2="800.9" stroke="#8da0cb" stroke-width="1.3" stroke-dasharray="3.2 2"/>
<line x1="300" y1="781" x2="264.1" y2="796.9" stroke="#e78ac3" stroke-width="1.3" stroke-dasharray="3.2 2"/>
<line x1="132.7" y1="820.8" x2="217.7" y2="855.3" stroke="#a6d854" stroke-width="1.3" stroke-dasharray="3.2 2"/>
<line x1="136.7" y1="868.6" x2="173.9" y2="869.9" stroke="#ffd92f" stroke-width="1.3" stroke-dasharray="3.2 2"/>
<line x1="277.4" y1="865.9" x2="311.9" y2="865.4" stroke="#e5c494" stroke-width="1.3" stroke-dasharray="3.2 2"/>
<circle cx="218.2" cy="775.6" r="3.6" fill="#b3b3b3"/>
<circle cx="182.6" cy="784.9" r="3.6" fill="#66c2a5"/>
<circle cx="191.7" cy="801.7" r="3.6" fill="#8da0cb"/>
<circle cx="265.5" cy="783.1" r="3.6" fill="#fc8d62"/>
<circle cx="260.2" cy="798.2" r="3.6" fill="#e78ac3"/>
<circle cx="221.1" cy="857.1" r="3.6" fill="#a6d854"/>
<circle cx="176.8" cy="869.9" r="3.6" fill="#ffd92f"/>
<circle cx="273.4" cy="865.9" r="3.6" fill="#e5c494"/>
<text x="202.08" y="704.3" font-size="15.3" textLength="46.7" lengthAdjust="spacingAndGlyphs" fill="#111">mPFC</text>
<text x="100.77" y="725.8" font-size="15.3" textLength="71.81" lengthAdjust="spacingAndGlyphs" fill="#111">left dlPFC</text>
<text x="285.17" y="728.7" font-size="15.3" textLength="72.41" lengthAdjust="spacingAndGlyphs" fill="#111">left dlPFC</text>
<text x="55.67" y="774.6" font-size="15.3" textLength="68.93" lengthAdjust="spacingAndGlyphs" fill="#111">left insula</text>
<text x="303.77" y="778.6" font-size="15.3" textLength="68.63" lengthAdjust="spacingAndGlyphs" fill="#111">left insula</text>
<text x="-0.05" y="820.4" font-size="15.3" textLength="130.2" lengthAdjust="spacingAndGlyphs" fill="#111">central precuneus</text>
<text x="5.27" y="870.4" font-size="15.3" textLength="125.58" lengthAdjust="spacingAndGlyphs" fill="#111">left angular gyrus</text>
<text x="317.57" y="868.4" font-size="15.3" textLength="125.48" lengthAdjust="spacingAndGlyphs" fill="#111">left angular gyrus</text>
<defs><linearGradient id="cbgC" x1="0" x2="1" y1="0" y2="0"><stop offset="0" stop-color="#0000ff"/><stop offset="0.05" stop-color="#1818ff"/><stop offset="0.1" stop-color="#3232ff"/><stop offset="0.15" stop-color="#4c4cff"/><stop offset="0.2" stop-color="#6666ff"/><stop offset="0.25" stop-color="#8080ff"/><stop offset="0.3" stop-color="#9898ff"/><stop offset="0.35" stop-color="#b2b2ff"/><stop offset="0.4" stop-color="#ccccff"/><stop offset="0.45" stop-color="#e6e6ff"/><stop offset="0.5" stop-color="#fffefe"/><stop offset="0.55" stop-color="#ffe6e6"/><stop offset="0.6" stop-color="#ffcccc"/><stop offset="0.65" stop-color="#ffb2b2"/><stop offset="0.7" stop-color="#ff9898"/><stop offset="0.75" stop-color="#ff7e7e"/><stop offset="0.8" stop-color="#ff6666"/><stop offset="0.85" stop-color="#ff4c4c"/><stop offset="0.9" stop-color="#ff3232"/><stop offset="0.95" stop-color="#ff1818"/><stop offset="1" stop-color="#ff0000"/></linearGradient></defs>
<rect x="125.5" y="981.9" width="215.5" height="10.4" fill="url(#cbgC)" stroke="#111" stroke-width="1.1"/>
<line x1="131" y1="992.3" x2="131" y2="997.6" stroke="#111" stroke-width="1.1"/>
<text x="121.54" y="1014.3" font-size="14.8" textLength="14.18" lengthAdjust="spacingAndGlyphs">-1</text>
<line x1="181.9" y1="992.3" x2="181.9" y2="997.6" stroke="#111" stroke-width="1.1"/>
<text x="170.54" y="1014.3" font-size="14.8" textLength="19.88" lengthAdjust="spacingAndGlyphs">-.5</text>
<line x1="231.4" y1="992.3" x2="231.4" y2="997.6" stroke="#111" stroke-width="1.1"/>
<text x="228.02" y="1014.3" font-size="14.8" textLength="9.06" lengthAdjust="spacingAndGlyphs">0</text>
<line x1="281.9" y1="992.3" x2="281.9" y2="997.6" stroke="#111" stroke-width="1.1"/>
<text x="276.65" y="1014.3" font-size="14.8" textLength="13.77" lengthAdjust="spacingAndGlyphs">.5</text>
<line x1="332.1" y1="992.3" x2="332.1" y2="997.6" stroke="#111" stroke-width="1.1"/>
<text x="328.97" y="1014.3" font-size="14.8" textLength="7.65" lengthAdjust="spacingAndGlyphs">1</text>
<text x="200.98" y="966.4" font-size="15.6" textLength="70.25" lengthAdjust="spacingAndGlyphs">Cohen’s d</text>
<g transform="translate(457.35 711) scale(0.13000)">
<path d="M622.0 82.0C619.5 81.5 615.7 82.2 607.0 79.0C598.3 75.8 583.0 65.8 570.0 63.0C557.0 60.2 552.0 57.3 529.0 62.0C506.0 66.7 464.3 78.0 432.0 91.0C399.7 104.0 363.3 119.7 335.0 140.0C306.7 160.3 282.3 184.7 262.0 213.0C241.7 241.3 227.7 277.7 213.0 310.0C198.3 342.3 186.2 370.5 174.0 407.0C161.8 443.5 152.2 484.3 140.0 529.0C127.8 573.7 111.8 629.8 101.0 675.0C90.2 720.2 81.5 760.0 75.0 800.0C68.5 840.0 62.5 875.5 62.0 915.0C61.5 954.5 63.0 992.3 72.0 1037.0C81.0 1081.7 96.5 1138.5 116.0 1183.0C135.5 1227.5 160.7 1267.7 189.0 1304.0C217.3 1340.3 253.7 1374.2 286.0 1401.0C318.3 1427.8 350.7 1447.8 383.0 1465.0C415.3 1482.2 451.7 1496.0 480.0 1504.0C508.3 1512.0 532.2 1514.2 553.0 1513.0C573.8 1511.8 592.7 1501.8 605.0 1497.0C617.3 1492.2 623.3 1486.2 627.0 1484.0C632 1300 630 700 624 90Z" fill="#fff" stroke="none"/>
<path d="M662.0 84.0C666.7 81.7 677.5 74.0 690.0 70.0C702.5 66.0 713.0 58.8 737.0 60.0C761.0 61.2 801.5 64.5 834.0 77.0C866.5 89.5 903.5 114.0 932.0 135.0C960.5 156.0 984.8 179.5 1005.0 203.0C1025.2 226.5 1036.8 246.0 1053.0 276.0C1069.2 306.0 1085.8 340.8 1102.0 383.0C1118.2 425.2 1133.8 480.3 1150.0 529.0C1166.2 577.7 1187.7 629.8 1199.0 675.0C1210.3 720.2 1214.0 760.0 1218.0 800.0C1222.0 840.0 1224.5 879.7 1223.0 915.0C1221.5 950.3 1221.2 971.5 1209.0 1012.0C1196.8 1052.5 1176.0 1109.3 1150.0 1158.0C1124.0 1206.7 1085.3 1263.5 1053.0 1304.0C1020.7 1344.5 988.3 1374.2 956.0 1401.0C923.7 1427.8 889.8 1449.5 859.0 1465.0C828.2 1480.5 795.3 1490.8 771.0 1494.0C746.7 1497.2 728.2 1487.7 713.0 1484.0C697.8 1480.3 685.5 1474.0 680.0 1472.0C672 1300 668 700 664 90Z" fill="#fff" stroke="none"/>
<g fill="none" stroke="#b0b0b0" stroke-width="13.077" stroke-linecap="round" stroke-linejoin="round"><path d="M305.0 310.0C305.0 297.8 300.2 249.2 305.0 237.0C309.8 224.8 322.7 245.8 334.0 237.0C345.3 228.2 361.7 190.5 373.0 184.0C384.3 177.5 397.2 195.7 402.0 198.0"/><path d="M456.0 130.0C464.2 130.8 487.2 141.5 505.0 135.0C522.8 128.5 552.5 90.2 563.0 91.0C573.5 91.8 570.3 122.2 568.0 140.0C565.7 157.8 557.2 180.2 549.0 198.0C540.8 215.8 523.2 224.3 519.0 247.0C514.8 269.7 517.5 313.0 524.0 334.0C530.5 355.0 549.0 360.7 558.0 373.0C567.0 385.3 574.7 393.3 578.0 408.0C581.3 422.7 572.3 448.8 578.0 461.0C583.7 473.2 606.3 477.7 612.0 481.0"/><path d="M315.0 325.0C322.3 329.8 352.5 341.0 359.0 354.0C365.5 367.0 361.3 390.0 354.0 403.0C346.7 416.0 328.0 424.0 315.0 432.0C302.0 440.0 290.5 451.0 276.0 451.0C261.5 451.0 241.0 435.2 228.0 432.0C215.0 428.8 200.5 435.3 198.0 432.0C195.5 428.7 210.5 415.3 213.0 412.0"/><path d="M456.0 130.0C456.8 139.8 458.5 171.2 461.0 189.0C463.5 206.8 469.3 229.0 471.0 237.0"/><path d="M184.0 480.0C188.8 485.0 200.0 501.8 213.0 510.0C226.0 518.2 250.7 517.7 262.0 529.0C273.3 540.3 279.5 560.2 281.0 578.0C282.5 595.8 279.8 625.5 271.0 636.0C262.2 646.5 245.8 644.2 228.0 641.0C210.2 637.8 178.7 619.5 164.0 617.0C149.3 614.5 141.5 616.3 140.0 626.0C138.5 635.7 148.5 662.8 155.0 675.0C161.5 687.2 176.7 690.8 179.0 699.0C181.3 707.2 170.7 719.8 169.0 724.0"/><path d="M116.0 733.0C128.2 735.5 172.8 741.5 189.0 748.0C205.2 754.5 225.2 768.0 213.0 772.0C200.8 776.0 133.2 775.7 116.0 772.0C98.8 768.3 111.0 753.7 110.0 750.0"/><path d="M505.0 510.0C509.0 510.0 516.8 502.8 529.0 510.0C541.2 517.2 563.3 533.7 578.0 553.0C592.7 572.3 610.5 613.8 617.0 626.0"/><path d="M286 675L296 733"/><path d="M359 724L373 811"/><path d="M373.0 769.0C374.7 777.2 378.0 797.7 383.0 818.0C388.0 838.3 403.0 870.8 403.0 891.0C403.0 911.2 392.8 922.8 383.0 939.0C373.2 955.2 358.5 975.0 344.0 988.0C329.5 1001.0 315.3 1011.3 296.0 1017.0C276.7 1022.7 250.0 1017.8 228.0 1022.0C206.0 1026.2 177.0 1036.3 164.0 1042.0C151.0 1047.7 145.8 1052.8 150.0 1056.0C154.2 1059.2 168.8 1060.2 189.0 1061.0C209.2 1061.8 251.7 1057.7 271.0 1061.0C290.3 1064.3 296.8 1071.3 305.0 1081.0C313.2 1090.7 315.0 1104.5 320.0 1119.0C325.0 1133.5 329.3 1153.3 335.0 1168.0C340.7 1182.7 352.5 1192.3 354.0 1207.0C355.5 1221.7 348.8 1246.3 344.0 1256.0C339.2 1265.7 326.5 1257.0 325.0 1265.0C323.5 1273.0 331.8 1289.3 335.0 1304.0C338.2 1318.7 340.8 1338.3 344.0 1353.0C347.2 1367.7 347.5 1400.2 354.0 1392.0C360.5 1383.8 375.7 1321.8 383.0 1304.0C390.3 1286.2 395.5 1288.2 398.0 1285.0"/><path d="M597.0 793.0C593.8 805.2 589.3 841.7 578.0 866.0C566.7 890.3 545.3 917.0 529.0 939.0C512.7 961.0 496.2 979.3 480.0 998.0C463.8 1016.7 442.5 1050.2 432.0 1051.0C421.5 1051.8 419.5 1011.0 417.0 1003.0"/><path d="M578.0 1032.0C574.7 1036.8 561.3 1048.0 558.0 1061.0C554.7 1074.0 566.8 1101.0 558.0 1110.0C549.2 1119.0 521.2 1110.2 505.0 1115.0C488.8 1119.8 471.7 1127.7 461.0 1139.0C450.3 1150.3 443.5 1163.5 441.0 1183.0C438.5 1202.5 441.0 1237.3 446.0 1256.0C451.0 1274.7 460.3 1284.5 471.0 1295.0C481.7 1305.5 496.3 1319.8 510.0 1319.0C523.7 1318.2 541.7 1292.5 553.0 1290.0C564.3 1287.5 575.5 1293.5 578.0 1304.0C580.5 1314.5 568.8 1336.8 568.0 1353.0C567.2 1369.2 573.8 1380.7 573.0 1401.0C572.2 1421.3 564.7 1462.7 563.0 1475.0"/><path d="M403.0 1285.0C411.8 1292.3 438.2 1313.7 456.0 1329.0C473.8 1344.3 497.8 1362.5 510.0 1377.0C522.2 1391.5 529.8 1405.5 529.0 1416.0C528.2 1426.5 514.7 1440.0 505.0 1440.0C495.3 1440.0 483.2 1420.8 471.0 1416.0C458.8 1411.2 437.0 1408.5 432.0 1411.0C427.0 1413.5 433.0 1422.8 441.0 1431.0C449.0 1439.2 469.3 1458.5 480.0 1460.0C490.7 1461.5 500.8 1443.3 505.0 1440.0"/><path d="M727.0 96.0C730.3 100.8 738.8 114.5 747.0 125.0C755.2 135.5 767.2 152.5 776.0 159.0C784.8 165.5 791.2 170.3 800.0 164.0C808.8 157.7 821.7 125.0 829.0 121.0C836.3 117.0 843.2 128.7 844.0 140.0C844.8 151.3 834.0 167.2 834.0 189.0C834.0 210.8 837.5 254.0 844.0 271.0C850.5 288.0 864.0 290.2 873.0 291.0C882.0 291.8 888.2 283.3 898.0 276.0C907.8 268.7 920.7 255.0 932.0 247.0C943.3 239.0 957.2 229.7 966.0 228.0C974.8 226.3 983.5 230.7 985.0 237.0C986.5 243.3 979.8 253.0 975.0 266.0C970.2 279.0 961.7 297.2 956.0 315.0C950.3 332.8 941.0 356.8 941.0 373.0C941.0 389.2 947.8 401.3 956.0 412.0C964.2 422.7 977.0 432.2 990.0 437.0C1003.0 441.8 1018.7 444.3 1034.0 441.0C1049.3 437.7 1069.8 418.5 1082.0 417.0C1094.2 415.5 1103.7 423.0 1107.0 432.0C1110.3 441.0 1109.3 460.5 1102.0 471.0C1094.7 481.5 1076.0 487.0 1063.0 495.0C1050.0 503.0 1032.2 506.8 1024.0 519.0C1015.8 531.2 1012.3 551.8 1014.0 568.0C1015.7 584.2 1019.3 608.7 1034.0 616.0C1048.7 623.3 1087.5 612.0 1102.0 612.0C1116.5 612.0 1117.0 607.2 1121.0 616.0C1125.0 624.8 1121.2 648.7 1126.0 665.0C1130.8 681.3 1141.8 704.3 1150.0 714.0C1158.2 723.7 1179.0 719.8 1175.0 723.0C1171.0 726.2 1141.5 733.0 1126.0 733.0C1110.5 733.0 1089.3 724.7 1082.0 723.0"/><path d="M727.0 96.0C723.8 111.5 712.0 170.3 708.0 189.0C704.0 207.7 699.8 200.0 703.0 208.0C706.2 216.0 718.0 225.7 727.0 237.0C736.0 248.3 750.5 263.0 757.0 276.0C763.5 289.0 767.7 302.0 766.0 315.0C764.3 328.0 756.7 344.3 747.0 354.0C737.3 363.7 716.2 363.3 708.0 373.0C699.8 382.7 698.0 400.7 698.0 412.0C698.0 423.3 712.0 429.7 708.0 441.0C704.0 452.3 679.7 473.5 674.0 480.0"/><path d="M761.0 553.0C762.7 546.5 775.0 518.0 771.0 514.0C767.0 510.0 750.8 518.3 737.0 529.0C723.2 539.7 698.5 565.8 688.0 578.0C677.5 590.2 676.3 598.0 674.0 602.0"/><path d="M956.0 641.0C960.8 640.2 976.8 633.7 985.0 636.0C993.2 638.3 1002.5 644.5 1005.0 655.0C1007.5 665.5 992.0 689.2 1000.0 699.0C1008.0 708.8 1036.0 708.3 1053.0 714.0C1070.0 719.7 1080.2 731.5 1102.0 733.0C1123.8 734.5 1170.3 724.7 1184.0 723.0"/><path d="M927.0 685.0C926.2 695.5 922.0 726.8 922.0 748.0C922.0 769.2 926.2 801.3 927.0 812.0"/><path d="M927.0 769.0C923.7 777.2 911.8 801.8 907.0 818.0C902.2 834.2 899.5 853.0 898.0 866.0C896.5 879.0 892.3 885.3 898.0 896.0C903.7 906.7 918.3 919.5 932.0 930.0C945.7 940.5 959.8 955.0 980.0 959.0C1000.2 963.0 1024.7 954.8 1053.0 954.0C1081.3 953.2 1135.3 950.8 1150.0 954.0C1164.7 957.2 1153.2 968.2 1141.0 973.0C1128.8 977.8 1095.7 978.0 1077.0 983.0C1058.3 988.0 1041.8 996.5 1029.0 1003.0C1016.2 1009.5 1004.0 1014.0 1000.0 1022.0C996.0 1030.0 1008.3 1040.5 1005.0 1051.0C1001.7 1061.5 985.0 1073.7 980.0 1085.0C975.0 1096.3 970.8 1108.3 975.0 1119.0C979.2 1129.7 992.0 1140.0 1005.0 1149.0C1018.0 1158.0 1051.5 1169.0 1053.0 1173.0C1054.5 1177.0 1028.5 1170.5 1014.0 1173.0C999.5 1175.5 974.8 1179.2 966.0 1188.0C957.2 1196.8 957.8 1211.5 961.0 1226.0C964.2 1240.5 978.5 1261.2 985.0 1275.0C991.5 1288.8 1004.8 1303.3 1000.0 1309.0C995.2 1314.7 968.2 1314.7 956.0 1309.0C943.8 1303.3 936.0 1282.3 927.0 1275.0C918.0 1267.7 911.0 1261.7 902.0 1265.0C893.0 1268.3 883.5 1282.0 873.0 1295.0C862.5 1308.0 851.2 1329.3 839.0 1343.0C826.8 1356.7 807.3 1366.5 800.0 1377.0C792.7 1387.5 791.7 1397.8 795.0 1406.0C798.3 1414.2 807.8 1422.7 820.0 1426.0C832.2 1429.3 853.5 1430.8 868.0 1426.0C882.5 1421.2 898.8 1405.2 907.0 1397.0C915.2 1388.8 920.2 1381.2 917.0 1377.0C913.8 1372.8 894.5 1367.8 888.0 1372.0C881.5 1376.2 878.8 1389.0 878.0 1402.0C877.2 1415.0 882.2 1442.0 883.0 1450.0"/><path d="M679.0 818.0C680.5 826.0 678.3 841.7 688.0 866.0C697.7 890.3 720.7 939.7 737.0 964.0C753.3 988.3 768.2 997.5 786.0 1012.0C803.8 1026.5 832.7 1052.5 844.0 1051.0C855.3 1049.5 852.3 1011.0 854.0 1003.0"/><path d="M674.0 1003.0C680.5 1007.0 704.2 1019.0 713.0 1027.0C721.8 1035.0 725.5 1042.0 727.0 1051.0C728.5 1060.0 717.8 1073.7 722.0 1081.0C726.2 1088.3 737.3 1091.8 752.0 1095.0C766.7 1098.2 793.8 1096.0 810.0 1100.0C826.2 1104.0 838.5 1109.3 849.0 1119.0C859.5 1128.7 869.8 1143.3 873.0 1158.0C876.2 1172.7 872.8 1192.3 868.0 1207.0C863.2 1221.7 852.0 1233.8 844.0 1246.0C836.0 1258.2 828.8 1278.3 820.0 1280.0C811.2 1281.7 799.2 1262.5 791.0 1256.0C782.8 1249.5 780.0 1241.0 771.0 1241.0C762.0 1241.0 742.7 1245.5 737.0 1256.0C731.3 1266.5 736.2 1287.8 737.0 1304.0C737.8 1320.2 742.8 1336.8 742.0 1353.0C741.2 1369.2 727.2 1388.8 732.0 1401.0C736.8 1413.2 759.7 1417.8 771.0 1426.0C782.3 1434.2 791.0 1441.8 800.0 1450.0C809.0 1458.2 815.2 1470.8 825.0 1475.0C834.8 1479.2 853.3 1475.0 859.0 1475.0"/></g>
<g fill="none" stroke="#1e1e1e" stroke-width="7.308" stroke-linecap="round"><path d="M383.0 125.0C388.3 134.8 411.0 167.7 415.0 184.0C419.0 200.3 417.2 208.5 407.0 223.0C396.8 237.5 373.3 250.0 354.0 271.0C334.7 292.0 301.5 336.0 291.0 349.0"/><path d="M517.0 184.0C515.8 188.8 517.7 202.5 510.0 213.0C502.3 223.5 485.7 232.5 471.0 247.0C456.3 261.5 434.2 282.2 422.0 300.0C409.8 317.8 402.5 332.0 398.0 354.0C393.5 376.0 395.8 402.8 395.0 432.0C394.2 461.2 395.8 496.7 393.0 529.0C390.2 561.3 384.5 601.7 378.0 626.0C371.5 650.3 358.0 666.8 354.0 675.0"/><path d="M228.0 619.0C234.3 620.2 251.5 620.7 266.0 626.0C280.5 631.3 301.2 642.0 315.0 651.0C328.8 660.0 337.7 670.3 349.0 680.0C360.3 689.7 370.8 705.0 383.0 709.0C395.2 713.0 408.2 708.8 422.0 704.0C435.8 699.2 452.2 683.2 466.0 680.0C479.8 676.8 489.7 681.0 505.0 685.0C520.3 689.0 538.8 699.2 558.0 704.0C577.2 708.8 609.7 712.3 620.0 714.0"/><path d="M237.0 490.0C229.0 494.8 203.5 506.0 189.0 519.0C174.5 532.0 162.2 550.2 150.0 568.0C137.8 585.8 124.2 609.0 116.0 626.0C107.8 643.0 103.5 662.7 101.0 670.0"/><path d="M101.0 670.0C107.5 677.3 125.3 702.7 140.0 714.0C154.7 725.3 176.0 731.5 189.0 738.0C202.0 744.5 210.0 742.5 218.0 753.0C226.0 763.5 233.8 793.0 237.0 801.0"/><path d="M228.0 769.0C232.0 777.2 242.3 805.0 252.0 818.0C261.7 831.0 264.2 841.3 286.0 847.0C307.8 852.7 350.7 847.2 383.0 852.0C415.3 856.8 455.7 867.2 480.0 876.0C504.3 884.8 512.7 894.5 529.0 905.0C545.3 915.5 562.8 930.8 578.0 939.0C593.2 947.2 613.0 951.5 620.0 954.0"/><path d="M82.0 769.0C87.7 777.2 103.8 796.8 116.0 818.0C128.2 839.2 143.7 870.0 155.0 896.0C166.3 922.0 174.3 954.7 184.0 974.0C193.7 993.3 202.5 1000.0 213.0 1012.0C223.5 1024.0 240.5 1033.8 247.0 1046.0C253.5 1058.2 251.2 1078.5 252.0 1085.0"/><path d="M247.0 1046.0C257.5 1043.7 289.0 1032.7 310.0 1032.0C331.0 1031.3 354.3 1033.8 373.0 1042.0C391.7 1050.2 402.5 1063.2 422.0 1081.0C441.5 1098.8 478.7 1137.7 490.0 1149.0"/><path d="M262.0 1119.0C267.7 1131.2 282.3 1172.5 296.0 1192.0C309.7 1211.5 329.5 1219.7 344.0 1236.0C358.5 1252.3 372.5 1268.2 383.0 1290.0C393.5 1311.8 403.0 1354.2 407.0 1367.0"/><path d="M500 1241L626 1241"/><path d="M800.0 157.0C806.5 164.7 823.5 184.0 839.0 203.0C854.5 222.0 884.8 249.2 893.0 271.0C901.2 292.8 887.2 299.2 888.0 334.0C888.8 368.8 894.8 443.5 898.0 480.0C901.2 516.5 902.2 528.7 907.0 553.0C911.8 577.3 919.7 606.5 927.0 626.0C934.3 645.5 947.0 662.7 951.0 670.0"/><path d="M927.0 150.0C923.7 154.8 905.5 168.5 907.0 179.0C908.5 189.5 923.0 200.8 936.0 213.0C949.0 225.2 971.2 233.3 985.0 252.0C998.8 270.7 1013.3 312.8 1019.0 325.0"/><path d="M1039.0 471.0C1046.2 476.7 1067.5 491.3 1082.0 505.0C1096.5 518.7 1110.5 532.8 1126.0 553.0C1141.5 573.2 1164.5 607.3 1175.0 626.0C1185.5 644.7 1186.7 658.5 1189.0 665.0"/><path d="M668.0 714.0C683.5 712.3 726.8 705.7 761.0 704.0C795.2 702.3 842.2 709.7 873.0 704.0C903.8 698.3 918.3 683.0 946.0 670.0C973.7 657.0 1018.7 634.2 1039.0 626.0C1059.3 617.8 1063.2 621.8 1068.0 621.0"/><path d="M1180.0 660.0C1167.0 667.3 1121.5 690.2 1102.0 704.0C1082.5 717.8 1073.5 725.0 1063.0 743.0C1052.5 761.0 1044.7 798.0 1039.0 812.0C1033.3 826.0 1040.5 818.0 1029.0 827.0C1017.5 836.0 990.3 860.3 970.0 866.0C949.7 871.7 929.7 861.0 907.0 861.0C884.3 861.0 862.3 858.7 834.0 866.0C805.7 873.3 764.7 892.0 737.0 905.0C709.3 918.0 679.5 937.5 668.0 944.0"/><path d="M1204 738L1160 812"/><path d="M1184.0 769.0C1174.3 783.7 1145.3 826.2 1126.0 857.0C1106.7 887.8 1079.3 931.3 1068.0 954.0C1056.7 976.7 1061.3 978.5 1058.0 993.0C1054.7 1007.5 1049.7 1033.0 1048.0 1041.0"/><path d="M883.0 978.0C882.2 983.7 880.5 999.0 878.0 1012.0C875.5 1025.0 874.5 1039.7 868.0 1056.0C861.5 1072.3 855.2 1093.8 839.0 1110.0C822.8 1126.2 782.3 1145.8 771.0 1153.0"/><path d="M883.0 978.0C911.3 978.8 1023.0 984.5 1053.0 983.0C1083.0 981.5 1061.3 971.3 1063.0 969.0"/><path d="M1024.0 1095.0C1012.7 1104.0 986.8 1127.2 956.0 1149.0C925.2 1170.8 858.5 1213.2 839.0 1226.0"/><path d="M668 1241L737 1241"/></g>
<path d="M622.0 82.0C619.5 81.5 615.7 82.2 607.0 79.0C598.3 75.8 583.0 65.8 570.0 63.0C557.0 60.2 552.0 57.3 529.0 62.0C506.0 66.7 464.3 78.0 432.0 91.0C399.7 104.0 363.3 119.7 335.0 140.0C306.7 160.3 282.3 184.7 262.0 213.0C241.7 241.3 227.7 277.7 213.0 310.0C198.3 342.3 186.2 370.5 174.0 407.0C161.8 443.5 152.2 484.3 140.0 529.0C127.8 573.7 111.8 629.8 101.0 675.0C90.2 720.2 81.5 760.0 75.0 800.0C68.5 840.0 62.5 875.5 62.0 915.0C61.5 954.5 63.0 992.3 72.0 1037.0C81.0 1081.7 96.5 1138.5 116.0 1183.0C135.5 1227.5 160.7 1267.7 189.0 1304.0C217.3 1340.3 253.7 1374.2 286.0 1401.0C318.3 1427.8 350.7 1447.8 383.0 1465.0C415.3 1482.2 451.7 1496.0 480.0 1504.0C508.3 1512.0 532.2 1514.2 553.0 1513.0C573.8 1511.8 592.7 1501.8 605.0 1497.0C617.3 1492.2 623.3 1486.2 627.0 1484.0C632 1300 630 700 624 90Z" fill="none" stroke="#333" stroke-width="15.385" stroke-linejoin="round"/>
<path d="M662.0 84.0C666.7 81.7 677.5 74.0 690.0 70.0C702.5 66.0 713.0 58.8 737.0 60.0C761.0 61.2 801.5 64.5 834.0 77.0C866.5 89.5 903.5 114.0 932.0 135.0C960.5 156.0 984.8 179.5 1005.0 203.0C1025.2 226.5 1036.8 246.0 1053.0 276.0C1069.2 306.0 1085.8 340.8 1102.0 383.0C1118.2 425.2 1133.8 480.3 1150.0 529.0C1166.2 577.7 1187.7 629.8 1199.0 675.0C1210.3 720.2 1214.0 760.0 1218.0 800.0C1222.0 840.0 1224.5 879.7 1223.0 915.0C1221.5 950.3 1221.2 971.5 1209.0 1012.0C1196.8 1052.5 1176.0 1109.3 1150.0 1158.0C1124.0 1206.7 1085.3 1263.5 1053.0 1304.0C1020.7 1344.5 988.3 1374.2 956.0 1401.0C923.7 1427.8 889.8 1449.5 859.0 1465.0C828.2 1480.5 795.3 1490.8 771.0 1494.0C746.7 1497.2 728.2 1487.7 713.0 1484.0C697.8 1480.3 685.5 1474.0 680.0 1472.0C672 1300 668 700 664 90Z" fill="none" stroke="#333" stroke-width="15.385" stroke-linejoin="round"/>
<path d="M607 79 C622 84 634 92 644 95 C655 92 668 80 690 70 M605 1497 C622 1492 636 1480 650 1478 C665 1478 680 1484 713 1484" fill="none" stroke="#333" stroke-width="15.385"/>
</g>
<g transform="translate(643.65 709.5) scale(0.13150)">
<path d="M622.0 82.0C619.5 81.5 615.7 82.2 607.0 79.0C598.3 75.8 583.0 65.8 570.0 63.0C557.0 60.2 552.0 57.3 529.0 62.0C506.0 66.7 464.3 78.0 432.0 91.0C399.7 104.0 363.3 119.7 335.0 140.0C306.7 160.3 282.3 184.7 262.0 213.0C241.7 241.3 227.7 277.7 213.0 310.0C198.3 342.3 186.2 370.5 174.0 407.0C161.8 443.5 152.2 484.3 140.0 529.0C127.8 573.7 111.8 629.8 101.0 675.0C90.2 720.2 81.5 760.0 75.0 800.0C68.5 840.0 62.5 875.5 62.0 915.0C61.5 954.5 63.0 992.3 72.0 1037.0C81.0 1081.7 96.5 1138.5 116.0 1183.0C135.5 1227.5 160.7 1267.7 189.0 1304.0C217.3 1340.3 253.7 1374.2 286.0 1401.0C318.3 1427.8 350.7 1447.8 383.0 1465.0C415.3 1482.2 451.7 1496.0 480.0 1504.0C508.3 1512.0 532.2 1514.2 553.0 1513.0C573.8 1511.8 592.7 1501.8 605.0 1497.0C617.3 1492.2 623.3 1486.2 627.0 1484.0C632 1300 630 700 624 90Z" fill="#fff" stroke="none"/>
<path d="M662.0 84.0C666.7 81.7 677.5 74.0 690.0 70.0C702.5 66.0 713.0 58.8 737.0 60.0C761.0 61.2 801.5 64.5 834.0 77.0C866.5 89.5 903.5 114.0 932.0 135.0C960.5 156.0 984.8 179.5 1005.0 203.0C1025.2 226.5 1036.8 246.0 1053.0 276.0C1069.2 306.0 1085.8 340.8 1102.0 383.0C1118.2 425.2 1133.8 480.3 1150.0 529.0C1166.2 577.7 1187.7 629.8 1199.0 675.0C1210.3 720.2 1214.0 760.0 1218.0 800.0C1222.0 840.0 1224.5 879.7 1223.0 915.0C1221.5 950.3 1221.2 971.5 1209.0 1012.0C1196.8 1052.5 1176.0 1109.3 1150.0 1158.0C1124.0 1206.7 1085.3 1263.5 1053.0 1304.0C1020.7 1344.5 988.3 1374.2 956.0 1401.0C923.7 1427.8 889.8 1449.5 859.0 1465.0C828.2 1480.5 795.3 1490.8 771.0 1494.0C746.7 1497.2 728.2 1487.7 713.0 1484.0C697.8 1480.3 685.5 1474.0 680.0 1472.0C672 1300 668 700 664 90Z" fill="#fff" stroke="none"/>
<g fill="none" stroke="#b0b0b0" stroke-width="12.928" stroke-linecap="round" stroke-linejoin="round"><path d="M305.0 310.0C305.0 297.8 300.2 249.2 305.0 237.0C309.8 224.8 322.7 245.8 334.0 237.0C345.3 228.2 361.7 190.5 373.0 184.0C384.3 177.5 397.2 195.7 402.0 198.0"/><path d="M456.0 130.0C464.2 130.8 487.2 141.5 505.0 135.0C522.8 128.5 552.5 90.2 563.0 91.0C573.5 91.8 570.3 122.2 568.0 140.0C565.7 157.8 557.2 180.2 549.0 198.0C540.8 215.8 523.2 224.3 519.0 247.0C514.8 269.7 517.5 313.0 524.0 334.0C530.5 355.0 549.0 360.7 558.0 373.0C567.0 385.3 574.7 393.3 578.0 408.0C581.3 422.7 572.3 448.8 578.0 461.0C583.7 473.2 606.3 477.7 612.0 481.0"/><path d="M315.0 325.0C322.3 329.8 352.5 341.0 359.0 354.0C365.5 367.0 361.3 390.0 354.0 403.0C346.7 416.0 328.0 424.0 315.0 432.0C302.0 440.0 290.5 451.0 276.0 451.0C261.5 451.0 241.0 435.2 228.0 432.0C215.0 428.8 200.5 435.3 198.0 432.0C195.5 428.7 210.5 415.3 213.0 412.0"/><path d="M456.0 130.0C456.8 139.8 458.5 171.2 461.0 189.0C463.5 206.8 469.3 229.0 471.0 237.0"/><path d="M184.0 480.0C188.8 485.0 200.0 501.8 213.0 510.0C226.0 518.2 250.7 517.7 262.0 529.0C273.3 540.3 279.5 560.2 281.0 578.0C282.5 595.8 279.8 625.5 271.0 636.0C262.2 646.5 245.8 644.2 228.0 641.0C210.2 637.8 178.7 619.5 164.0 617.0C149.3 614.5 141.5 616.3 140.0 626.0C138.5 635.7 148.5 662.8 155.0 675.0C161.5 687.2 176.7 690.8 179.0 699.0C181.3 707.2 170.7 719.8 169.0 724.0"/><path d="M116.0 733.0C128.2 735.5 172.8 741.5 189.0 748.0C205.2 754.5 225.2 768.0 213.0 772.0C200.8 776.0 133.2 775.7 116.0 772.0C98.8 768.3 111.0 753.7 110.0 750.0"/><path d="M505.0 510.0C509.0 510.0 516.8 502.8 529.0 510.0C541.2 517.2 563.3 533.7 578.0 553.0C592.7 572.3 610.5 613.8 617.0 626.0"/><path d="M286 675L296 733"/><path d="M359 724L373 811"/><path d="M373.0 769.0C374.7 777.2 378.0 797.7 383.0 818.0C388.0 838.3 403.0 870.8 403.0 891.0C403.0 911.2 392.8 922.8 383.0 939.0C373.2 955.2 358.5 975.0 344.0 988.0C329.5 1001.0 315.3 1011.3 296.0 1017.0C276.7 1022.7 250.0 1017.8 228.0 1022.0C206.0 1026.2 177.0 1036.3 164.0 1042.0C151.0 1047.7 145.8 1052.8 150.0 1056.0C154.2 1059.2 168.8 1060.2 189.0 1061.0C209.2 1061.8 251.7 1057.7 271.0 1061.0C290.3 1064.3 296.8 1071.3 305.0 1081.0C313.2 1090.7 315.0 1104.5 320.0 1119.0C325.0 1133.5 329.3 1153.3 335.0 1168.0C340.7 1182.7 352.5 1192.3 354.0 1207.0C355.5 1221.7 348.8 1246.3 344.0 1256.0C339.2 1265.7 326.5 1257.0 325.0 1265.0C323.5 1273.0 331.8 1289.3 335.0 1304.0C338.2 1318.7 340.8 1338.3 344.0 1353.0C347.2 1367.7 347.5 1400.2 354.0 1392.0C360.5 1383.8 375.7 1321.8 383.0 1304.0C390.3 1286.2 395.5 1288.2 398.0 1285.0"/><path d="M597.0 793.0C593.8 805.2 589.3 841.7 578.0 866.0C566.7 890.3 545.3 917.0 529.0 939.0C512.7 961.0 496.2 979.3 480.0 998.0C463.8 1016.7 442.5 1050.2 432.0 1051.0C421.5 1051.8 419.5 1011.0 417.0 1003.0"/><path d="M578.0 1032.0C574.7 1036.8 561.3 1048.0 558.0 1061.0C554.7 1074.0 566.8 1101.0 558.0 1110.0C549.2 1119.0 521.2 1110.2 505.0 1115.0C488.8 1119.8 471.7 1127.7 461.0 1139.0C450.3 1150.3 443.5 1163.5 441.0 1183.0C438.5 1202.5 441.0 1237.3 446.0 1256.0C451.0 1274.7 460.3 1284.5 471.0 1295.0C481.7 1305.5 496.3 1319.8 510.0 1319.0C523.7 1318.2 541.7 1292.5 553.0 1290.0C564.3 1287.5 575.5 1293.5 578.0 1304.0C580.5 1314.5 568.8 1336.8 568.0 1353.0C567.2 1369.2 573.8 1380.7 573.0 1401.0C572.2 1421.3 564.7 1462.7 563.0 1475.0"/><path d="M403.0 1285.0C411.8 1292.3 438.2 1313.7 456.0 1329.0C473.8 1344.3 497.8 1362.5 510.0 1377.0C522.2 1391.5 529.8 1405.5 529.0 1416.0C528.2 1426.5 514.7 1440.0 505.0 1440.0C495.3 1440.0 483.2 1420.8 471.0 1416.0C458.8 1411.2 437.0 1408.5 432.0 1411.0C427.0 1413.5 433.0 1422.8 441.0 1431.0C449.0 1439.2 469.3 1458.5 480.0 1460.0C490.7 1461.5 500.8 1443.3 505.0 1440.0"/><path d="M727.0 96.0C730.3 100.8 738.8 114.5 747.0 125.0C755.2 135.5 767.2 152.5 776.0 159.0C784.8 165.5 791.2 170.3 800.0 164.0C808.8 157.7 821.7 125.0 829.0 121.0C836.3 117.0 843.2 128.7 844.0 140.0C844.8 151.3 834.0 167.2 834.0 189.0C834.0 210.8 837.5 254.0 844.0 271.0C850.5 288.0 864.0 290.2 873.0 291.0C882.0 291.8 888.2 283.3 898.0 276.0C907.8 268.7 920.7 255.0 932.0 247.0C943.3 239.0 957.2 229.7 966.0 228.0C974.8 226.3 983.5 230.7 985.0 237.0C986.5 243.3 979.8 253.0 975.0 266.0C970.2 279.0 961.7 297.2 956.0 315.0C950.3 332.8 941.0 356.8 941.0 373.0C941.0 389.2 947.8 401.3 956.0 412.0C964.2 422.7 977.0 432.2 990.0 437.0C1003.0 441.8 1018.7 444.3 1034.0 441.0C1049.3 437.7 1069.8 418.5 1082.0 417.0C1094.2 415.5 1103.7 423.0 1107.0 432.0C1110.3 441.0 1109.3 460.5 1102.0 471.0C1094.7 481.5 1076.0 487.0 1063.0 495.0C1050.0 503.0 1032.2 506.8 1024.0 519.0C1015.8 531.2 1012.3 551.8 1014.0 568.0C1015.7 584.2 1019.3 608.7 1034.0 616.0C1048.7 623.3 1087.5 612.0 1102.0 612.0C1116.5 612.0 1117.0 607.2 1121.0 616.0C1125.0 624.8 1121.2 648.7 1126.0 665.0C1130.8 681.3 1141.8 704.3 1150.0 714.0C1158.2 723.7 1179.0 719.8 1175.0 723.0C1171.0 726.2 1141.5 733.0 1126.0 733.0C1110.5 733.0 1089.3 724.7 1082.0 723.0"/><path d="M727.0 96.0C723.8 111.5 712.0 170.3 708.0 189.0C704.0 207.7 699.8 200.0 703.0 208.0C706.2 216.0 718.0 225.7 727.0 237.0C736.0 248.3 750.5 263.0 757.0 276.0C763.5 289.0 767.7 302.0 766.0 315.0C764.3 328.0 756.7 344.3 747.0 354.0C737.3 363.7 716.2 363.3 708.0 373.0C699.8 382.7 698.0 400.7 698.0 412.0C698.0 423.3 712.0 429.7 708.0 441.0C704.0 452.3 679.7 473.5 674.0 480.0"/><path d="M761.0 553.0C762.7 546.5 775.0 518.0 771.0 514.0C767.0 510.0 750.8 518.3 737.0 529.0C723.2 539.7 698.5 565.8 688.0 578.0C677.5 590.2 676.3 598.0 674.0 602.0"/><path d="M956.0 641.0C960.8 640.2 976.8 633.7 985.0 636.0C993.2 638.3 1002.5 644.5 1005.0 655.0C1007.5 665.5 992.0 689.2 1000.0 699.0C1008.0 708.8 1036.0 708.3 1053.0 714.0C1070.0 719.7 1080.2 731.5 1102.0 733.0C1123.8 734.5 1170.3 724.7 1184.0 723.0"/><path d="M927.0 685.0C926.2 695.5 922.0 726.8 922.0 748.0C922.0 769.2 926.2 801.3 927.0 812.0"/><path d="M927.0 769.0C923.7 777.2 911.8 801.8 907.0 818.0C902.2 834.2 899.5 853.0 898.0 866.0C896.5 879.0 892.3 885.3 898.0 896.0C903.7 906.7 918.3 919.5 932.0 930.0C945.7 940.5 959.8 955.0 980.0 959.0C1000.2 963.0 1024.7 954.8 1053.0 954.0C1081.3 953.2 1135.3 950.8 1150.0 954.0C1164.7 957.2 1153.2 968.2 1141.0 973.0C1128.8 977.8 1095.7 978.0 1077.0 983.0C1058.3 988.0 1041.8 996.5 1029.0 1003.0C1016.2 1009.5 1004.0 1014.0 1000.0 1022.0C996.0 1030.0 1008.3 1040.5 1005.0 1051.0C1001.7 1061.5 985.0 1073.7 980.0 1085.0C975.0 1096.3 970.8 1108.3 975.0 1119.0C979.2 1129.7 992.0 1140.0 1005.0 1149.0C1018.0 1158.0 1051.5 1169.0 1053.0 1173.0C1054.5 1177.0 1028.5 1170.5 1014.0 1173.0C999.5 1175.5 974.8 1179.2 966.0 1188.0C957.2 1196.8 957.8 1211.5 961.0 1226.0C964.2 1240.5 978.5 1261.2 985.0 1275.0C991.5 1288.8 1004.8 1303.3 1000.0 1309.0C995.2 1314.7 968.2 1314.7 956.0 1309.0C943.8 1303.3 936.0 1282.3 927.0 1275.0C918.0 1267.7 911.0 1261.7 902.0 1265.0C893.0 1268.3 883.5 1282.0 873.0 1295.0C862.5 1308.0 851.2 1329.3 839.0 1343.0C826.8 1356.7 807.3 1366.5 800.0 1377.0C792.7 1387.5 791.7 1397.8 795.0 1406.0C798.3 1414.2 807.8 1422.7 820.0 1426.0C832.2 1429.3 853.5 1430.8 868.0 1426.0C882.5 1421.2 898.8 1405.2 907.0 1397.0C915.2 1388.8 920.2 1381.2 917.0 1377.0C913.8 1372.8 894.5 1367.8 888.0 1372.0C881.5 1376.2 878.8 1389.0 878.0 1402.0C877.2 1415.0 882.2 1442.0 883.0 1450.0"/><path d="M679.0 818.0C680.5 826.0 678.3 841.7 688.0 866.0C697.7 890.3 720.7 939.7 737.0 964.0C753.3 988.3 768.2 997.5 786.0 1012.0C803.8 1026.5 832.7 1052.5 844.0 1051.0C855.3 1049.5 852.3 1011.0 854.0 1003.0"/><path d="M674.0 1003.0C680.5 1007.0 704.2 1019.0 713.0 1027.0C721.8 1035.0 725.5 1042.0 727.0 1051.0C728.5 1060.0 717.8 1073.7 722.0 1081.0C726.2 1088.3 737.3 1091.8 752.0 1095.0C766.7 1098.2 793.8 1096.0 810.0 1100.0C826.2 1104.0 838.5 1109.3 849.0 1119.0C859.5 1128.7 869.8 1143.3 873.0 1158.0C876.2 1172.7 872.8 1192.3 868.0 1207.0C863.2 1221.7 852.0 1233.8 844.0 1246.0C836.0 1258.2 828.8 1278.3 820.0 1280.0C811.2 1281.7 799.2 1262.5 791.0 1256.0C782.8 1249.5 780.0 1241.0 771.0 1241.0C762.0 1241.0 742.7 1245.5 737.0 1256.0C731.3 1266.5 736.2 1287.8 737.0 1304.0C737.8 1320.2 742.8 1336.8 742.0 1353.0C741.2 1369.2 727.2 1388.8 732.0 1401.0C736.8 1413.2 759.7 1417.8 771.0 1426.0C782.3 1434.2 791.0 1441.8 800.0 1450.0C809.0 1458.2 815.2 1470.8 825.0 1475.0C834.8 1479.2 853.3 1475.0 859.0 1475.0"/></g>
<g fill="none" stroke="#1e1e1e" stroke-width="7.224" stroke-linecap="round"><path d="M383.0 125.0C388.3 134.8 411.0 167.7 415.0 184.0C419.0 200.3 417.2 208.5 407.0 223.0C396.8 237.5 373.3 250.0 354.0 271.0C334.7 292.0 301.5 336.0 291.0 349.0"/><path d="M517.0 184.0C515.8 188.8 517.7 202.5 510.0 213.0C502.3 223.5 485.7 232.5 471.0 247.0C456.3 261.5 434.2 282.2 422.0 300.0C409.8 317.8 402.5 332.0 398.0 354.0C393.5 376.0 395.8 402.8 395.0 432.0C394.2 461.2 395.8 496.7 393.0 529.0C390.2 561.3 384.5 601.7 378.0 626.0C371.5 650.3 358.0 666.8 354.0 675.0"/><path d="M228.0 619.0C234.3 620.2 251.5 620.7 266.0 626.0C280.5 631.3 301.2 642.0 315.0 651.0C328.8 660.0 337.7 670.3 349.0 680.0C360.3 689.7 370.8 705.0 383.0 709.0C395.2 713.0 408.2 708.8 422.0 704.0C435.8 699.2 452.2 683.2 466.0 680.0C479.8 676.8 489.7 681.0 505.0 685.0C520.3 689.0 538.8 699.2 558.0 704.0C577.2 708.8 609.7 712.3 620.0 714.0"/><path d="M237.0 490.0C229.0 494.8 203.5 506.0 189.0 519.0C174.5 532.0 162.2 550.2 150.0 568.0C137.8 585.8 124.2 609.0 116.0 626.0C107.8 643.0 103.5 662.7 101.0 670.0"/><path d="M101.0 670.0C107.5 677.3 125.3 702.7 140.0 714.0C154.7 725.3 176.0 731.5 189.0 738.0C202.0 744.5 210.0 742.5 218.0 753.0C226.0 763.5 233.8 793.0 237.0 801.0"/><path d="M228.0 769.0C232.0 777.2 242.3 805.0 252.0 818.0C261.7 831.0 264.2 841.3 286.0 847.0C307.8 852.7 350.7 847.2 383.0 852.0C415.3 856.8 455.7 867.2 480.0 876.0C504.3 884.8 512.7 894.5 529.0 905.0C545.3 915.5 562.8 930.8 578.0 939.0C593.2 947.2 613.0 951.5 620.0 954.0"/><path d="M82.0 769.0C87.7 777.2 103.8 796.8 116.0 818.0C128.2 839.2 143.7 870.0 155.0 896.0C166.3 922.0 174.3 954.7 184.0 974.0C193.7 993.3 202.5 1000.0 213.0 1012.0C223.5 1024.0 240.5 1033.8 247.0 1046.0C253.5 1058.2 251.2 1078.5 252.0 1085.0"/><path d="M247.0 1046.0C257.5 1043.7 289.0 1032.7 310.0 1032.0C331.0 1031.3 354.3 1033.8 373.0 1042.0C391.7 1050.2 402.5 1063.2 422.0 1081.0C441.5 1098.8 478.7 1137.7 490.0 1149.0"/><path d="M262.0 1119.0C267.7 1131.2 282.3 1172.5 296.0 1192.0C309.7 1211.5 329.5 1219.7 344.0 1236.0C358.5 1252.3 372.5 1268.2 383.0 1290.0C393.5 1311.8 403.0 1354.2 407.0 1367.0"/><path d="M500 1241L626 1241"/><path d="M800.0 157.0C806.5 164.7 823.5 184.0 839.0 203.0C854.5 222.0 884.8 249.2 893.0 271.0C901.2 292.8 887.2 299.2 888.0 334.0C888.8 368.8 894.8 443.5 898.0 480.0C901.2 516.5 902.2 528.7 907.0 553.0C911.8 577.3 919.7 606.5 927.0 626.0C934.3 645.5 947.0 662.7 951.0 670.0"/><path d="M927.0 150.0C923.7 154.8 905.5 168.5 907.0 179.0C908.5 189.5 923.0 200.8 936.0 213.0C949.0 225.2 971.2 233.3 985.0 252.0C998.8 270.7 1013.3 312.8 1019.0 325.0"/><path d="M1039.0 471.0C1046.2 476.7 1067.5 491.3 1082.0 505.0C1096.5 518.7 1110.5 532.8 1126.0 553.0C1141.5 573.2 1164.5 607.3 1175.0 626.0C1185.5 644.7 1186.7 658.5 1189.0 665.0"/><path d="M668.0 714.0C683.5 712.3 726.8 705.7 761.0 704.0C795.2 702.3 842.2 709.7 873.0 704.0C903.8 698.3 918.3 683.0 946.0 670.0C973.7 657.0 1018.7 634.2 1039.0 626.0C1059.3 617.8 1063.2 621.8 1068.0 621.0"/><path d="M1180.0 660.0C1167.0 667.3 1121.5 690.2 1102.0 704.0C1082.5 717.8 1073.5 725.0 1063.0 743.0C1052.5 761.0 1044.7 798.0 1039.0 812.0C1033.3 826.0 1040.5 818.0 1029.0 827.0C1017.5 836.0 990.3 860.3 970.0 866.0C949.7 871.7 929.7 861.0 907.0 861.0C884.3 861.0 862.3 858.7 834.0 866.0C805.7 873.3 764.7 892.0 737.0 905.0C709.3 918.0 679.5 937.5 668.0 944.0"/><path d="M1204 738L1160 812"/><path d="M1184.0 769.0C1174.3 783.7 1145.3 826.2 1126.0 857.0C1106.7 887.8 1079.3 931.3 1068.0 954.0C1056.7 976.7 1061.3 978.5 1058.0 993.0C1054.7 1007.5 1049.7 1033.0 1048.0 1041.0"/><path d="M883.0 978.0C882.2 983.7 880.5 999.0 878.0 1012.0C875.5 1025.0 874.5 1039.7 868.0 1056.0C861.5 1072.3 855.2 1093.8 839.0 1110.0C822.8 1126.2 782.3 1145.8 771.0 1153.0"/><path d="M883.0 978.0C911.3 978.8 1023.0 984.5 1053.0 983.0C1083.0 981.5 1061.3 971.3 1063.0 969.0"/><path d="M1024.0 1095.0C1012.7 1104.0 986.8 1127.2 956.0 1149.0C925.2 1170.8 858.5 1213.2 839.0 1226.0"/><path d="M668 1241L737 1241"/></g>
<path d="M622.0 82.0C619.5 81.5 615.7 82.2 607.0 79.0C598.3 75.8 583.0 65.8 570.0 63.0C557.0 60.2 552.0 57.3 529.0 62.0C506.0 66.7 464.3 78.0 432.0 91.0C399.7 104.0 363.3 119.7 335.0 140.0C306.7 160.3 282.3 184.7 262.0 213.0C241.7 241.3 227.7 277.7 213.0 310.0C198.3 342.3 186.2 370.5 174.0 407.0C161.8 443.5 152.2 484.3 140.0 529.0C127.8 573.7 111.8 629.8 101.0 675.0C90.2 720.2 81.5 760.0 75.0 800.0C68.5 840.0 62.5 875.5 62.0 915.0C61.5 954.5 63.0 992.3 72.0 1037.0C81.0 1081.7 96.5 1138.5 116.0 1183.0C135.5 1227.5 160.7 1267.7 189.0 1304.0C217.3 1340.3 253.7 1374.2 286.0 1401.0C318.3 1427.8 350.7 1447.8 383.0 1465.0C415.3 1482.2 451.7 1496.0 480.0 1504.0C508.3 1512.0 532.2 1514.2 553.0 1513.0C573.8 1511.8 592.7 1501.8 605.0 1497.0C617.3 1492.2 623.3 1486.2 627.0 1484.0C632 1300 630 700 624 90Z" fill="none" stroke="#333" stroke-width="15.209" stroke-linejoin="round"/>
<path d="M662.0 84.0C666.7 81.7 677.5 74.0 690.0 70.0C702.5 66.0 713.0 58.8 737.0 60.0C761.0 61.2 801.5 64.5 834.0 77.0C866.5 89.5 903.5 114.0 932.0 135.0C960.5 156.0 984.8 179.5 1005.0 203.0C1025.2 226.5 1036.8 246.0 1053.0 276.0C1069.2 306.0 1085.8 340.8 1102.0 383.0C1118.2 425.2 1133.8 480.3 1150.0 529.0C1166.2 577.7 1187.7 629.8 1199.0 675.0C1210.3 720.2 1214.0 760.0 1218.0 800.0C1222.0 840.0 1224.5 879.7 1223.0 915.0C1221.5 950.3 1221.2 971.5 1209.0 1012.0C1196.8 1052.5 1176.0 1109.3 1150.0 1158.0C1124.0 1206.7 1085.3 1263.5 1053.0 1304.0C1020.7 1344.5 988.3 1374.2 956.0 1401.0C923.7 1427.8 889.8 1449.5 859.0 1465.0C828.2 1480.5 795.3 1490.8 771.0 1494.0C746.7 1497.2 728.2 1487.7 713.0 1484.0C697.8 1480.3 685.5 1474.0 680.0 1472.0C672 1300 668 700 664 90Z" fill="none" stroke="#333" stroke-width="15.209" stroke-linejoin="round"/>
<path d="M607 79 C622 84 634 92 644 95 C655 92 668 80 690 70 M605 1497 C622 1492 636 1480 650 1478 C665 1478 680 1484 713 1484" fill="none" stroke="#333" stroke-width="15.209"/>
</g>
<text x="529.25" y="695.9" font-size="17" textLength="26.45" lengthAdjust="spacingAndGlyphs">Pre</text>
<text x="714.96" y="695.9" font-size="17" textLength="34.02" lengthAdjust="spacingAndGlyphs">Post</text>
<text x="477.31" y="734.7" font-size="15.5" textLength="8.62" lengthAdjust="spacingAndGlyphs">L</text>
<text x="591.88" y="734.7" font-size="15.5" textLength="11.19" lengthAdjust="spacingAndGlyphs">R</text>
<text x="664.11" y="733" font-size="15.5" textLength="8.62" lengthAdjust="spacingAndGlyphs">L</text>
<text x="780.83" y="733" font-size="15.5" textLength="11.19" lengthAdjust="spacingAndGlyphs">R</text>
<line x1="533" y1="750.6" x2="487.4" y2="855.1" stroke="#0000f5" stroke-width="4.2" stroke-linecap="round" stroke-opacity="1"/>
<line x1="533" y1="750.6" x2="536.2" y2="840.2" stroke="#0000f5" stroke-width="3.6" stroke-linecap="round" stroke-opacity="1"/>
<line x1="533" y1="750.6" x2="592.9" y2="850.8" stroke="#0000f5" stroke-width="3.8" stroke-linecap="round" stroke-opacity="1"/>
<line x1="584.9" y1="759.2" x2="592.9" y2="850.8" stroke="#6060ff" stroke-width="2.2" stroke-linecap="round" stroke-opacity="1"/>
<line x1="487.4" y1="855.1" x2="536.2" y2="840.2" stroke="#6060ff" stroke-width="2.4" stroke-linecap="round" stroke-opacity="1"/>
<circle cx="533" cy="750.6" r="3.5" fill="#b3b3b3"/>
<circle cx="493.4" cy="761.2" r="3.5" fill="#66c2a5"/>
<circle cx="503.7" cy="779.5" r="3.5" fill="#8da0cb"/>
<circle cx="584.9" cy="759.2" r="3.5" fill="#fc8d62"/>
<circle cx="578.8" cy="775.5" r="3.5" fill="#e78ac3"/>
<circle cx="536.2" cy="840.2" r="3.5" fill="#a6d854"/>
<circle cx="487.4" cy="855.1" r="3.5" fill="#ffd92f"/>
<circle cx="592.9" cy="850.8" r="3.5" fill="#e5c494"/>
<line x1="720.7" y1="749.6" x2="673.9" y2="856.1" stroke="#0000f5" stroke-width="4.2" stroke-linecap="round" stroke-opacity="1"/>
<line x1="720.7" y1="749.6" x2="782" y2="851.6" stroke="#0000f5" stroke-width="4.2" stroke-linecap="round" stroke-opacity="1"/>
<line x1="673.9" y1="856.1" x2="782" y2="851.6" stroke="#0000f5" stroke-width="4.2" stroke-linecap="round" stroke-opacity="1"/>
<line x1="720.7" y1="749.6" x2="723.7" y2="840.2" stroke="#6060ff" stroke-width="2.6" stroke-linecap="round" stroke-opacity="1"/>
<line x1="673.9" y1="856.1" x2="723.7" y2="840.2" stroke="#3a3aff" stroke-width="2.8" stroke-linecap="round" stroke-opacity="1"/>
<line x1="723.7" y1="840.2" x2="782" y2="851.6" stroke="#3a3aff" stroke-width="2.8" stroke-linecap="round" stroke-opacity="1"/>
<line x1="680.3" y1="760.6" x2="690.8" y2="779.1" stroke="#6060ff" stroke-width="2.4" stroke-linecap="round" stroke-opacity="1"/>
<line x1="680.3" y1="760.6" x2="766.9" y2="774.9" stroke="#6060ff" stroke-width="2.4" stroke-linecap="round" stroke-opacity="1"/>
<line x1="690.8" y1="779.1" x2="766.9" y2="774.9" stroke="#4a4aff" stroke-width="2.6" stroke-linecap="round" stroke-opacity="1"/>
<circle cx="720.7" cy="749.6" r="3.5" fill="#b3b3b3"/>
<circle cx="680.3" cy="760.6" r="3.5" fill="#66c2a5"/>
<circle cx="690.8" cy="779.1" r="3.5" fill="#8da0cb"/>
<circle cx="773.5" cy="758" r="3.5" fill="#fc8d62"/>
<circle cx="766.9" cy="774.9" r="3.5" fill="#e78ac3"/>
<circle cx="723.7" cy="840.2" r="3.5" fill="#a6d854"/>
<circle cx="673.9" cy="856.1" r="3.5" fill="#ffd92f"/>
<circle cx="782" cy="851.6" r="3.5" fill="#e5c494"/>
<g transform="translate(443 928) scale(0.09932)">
<g fill="none" stroke="#a9a9a9" stroke-width="15.102" stroke-linecap="round"><path d="M540 165 Q560 230 600 300 Q700 370 850 380 Q1000 370 1100 390 Q1250 440 1350 520 Q1450 600 1500 670"/><path d="M240 400 Q300 520 380 620 Q430 690 470 740 Q400 830 300 930 Q250 980 210 1020"/><path d="M700 590 Q850 575 1050 560 Q1200 590 1350 650 Q1430 700 1430 750"/><path d="M1030 650 Q1100 630 1220 690 Q1280 750 1240 790 M1090 800 Q1080 870 1110 910 Q1150 900 1200 850"/><path d="M660 650 Q630 720 680 770 Q740 780 780 700"/><path d="M580 1530 Q590 1430 640 1360 Q680 1250 700 1150 Q720 1050 740 960 Q760 920 770 930 Q760 1000 750 1060"/><path d="M690 1530 Q750 1400 780 1330 Q860 1300 920 1220 Q945 1130 935 1060 Q900 1040 880 1000 Q950 930 1000 990"/><path d="M770 920 Q820 880 900 900 Q960 900 990 960"/></g>
<g fill="none" stroke="#1e1e1e" stroke-width="9.061" stroke-linecap="round"><path d="M850 70 Q845 130 950 190 Q1030 240 1045 330 Q1090 420 1120 500 Q1130 580 1125 660"/><path d="M440 160 Q530 190 580 230 Q700 220 820 270 Q900 340 920 450 Q910 550 860 610"/><path d="M1235 270 Q1230 380 1290 450 Q1390 520 1470 580 Q1540 640 1590 710"/><path d="M1525 395 Q1540 480 1620 520 Q1700 540 1760 650 Q1810 760 1820 900"/><path d="M1255 620 Q1245 720 1240 800"/><path d="M1395 775 Q1370 850 1330 930"/><path d="M520 735 Q700 800 900 870 Q1100 950 1250 1080 Q1310 1150 1325 1235"/><path d="M465 845 Q700 940 900 1050 Q1050 1150 1130 1300"/><path d="M590 580 Q800 680 1000 760 Q1200 840 1320 930"/></g>
<path d="M135 1050 C70 990 40 900 40 800 C45 650 110 500 220 360 C300 260 420 150 560 95 C700 40 900 50 1100 90 C1300 150 1500 270 1650 410 C1780 560 1860 720 1860 880 C1855 990 1790 1080 1680 1130 C1600 1160 1480 1150 1400 1155 C1390 1080 1370 1000 1320 935 M1400 1155 C1395 1260 1360 1320 1260 1360 C1180 1390 1100 1395 1040 1360 C1000 1330 970 1300 940 1285 C850 1220 700 1130 520 1065 C380 1020 230 1010 135 1050 M940 1285 C880 1330 800 1410 740 1500 C720 1530 690 1540 650 1525 C560 1510 470 1520 400 1500 C300 1460 220 1380 190 1280 C170 1200 175 1120 150 1075 L135 1050" fill="none" stroke="#333" stroke-width="20.136" stroke-linejoin="round"/>
</g>
<g transform="translate(639.05 926.32) scale(0.10300)">
<g fill="none" stroke="#a9a9a9" stroke-width="14.563" stroke-linecap="round"><path d="M540 165 Q560 230 600 300 Q700 370 850 380 Q1000 370 1100 390 Q1250 440 1350 520 Q1450 600 1500 670"/><path d="M240 400 Q300 520 380 620 Q430 690 470 740 Q400 830 300 930 Q250 980 210 1020"/><path d="M700 590 Q850 575 1050 560 Q1200 590 1350 650 Q1430 700 1430 750"/><path d="M1030 650 Q1100 630 1220 690 Q1280 750 1240 790 M1090 800 Q1080 870 1110 910 Q1150 900 1200 850"/><path d="M660 650 Q630 720 680 770 Q740 780 780 700"/><path d="M580 1530 Q590 1430 640 1360 Q680 1250 700 1150 Q720 1050 740 960 Q760 920 770 930 Q760 1000 750 1060"/><path d="M690 1530 Q750 1400 780 1330 Q860 1300 920 1220 Q945 1130 935 1060 Q900 1040 880 1000 Q950 930 1000 990"/><path d="M770 920 Q820 880 900 900 Q960 900 990 960"/></g>
<g fill="none" stroke="#1e1e1e" stroke-width="8.738" stroke-linecap="round"><path d="M850 70 Q845 130 950 190 Q1030 240 1045 330 Q1090 420 1120 500 Q1130 580 1125 660"/><path d="M440 160 Q530 190 580 230 Q700 220 820 270 Q900 340 920 450 Q910 550 860 610"/><path d="M1235 270 Q1230 380 1290 450 Q1390 520 1470 580 Q1540 640 1590 710"/><path d="M1525 395 Q1540 480 1620 520 Q1700 540 1760 650 Q1810 760 1820 900"/><path d="M1255 620 Q1245 720 1240 800"/><path d="M1395 775 Q1370 850 1330 930"/><path d="M520 735 Q700 800 900 870 Q1100 950 1250 1080 Q1310 1150 1325 1235"/><path d="M465 845 Q700 940 900 1050 Q1050 1150 1130 1300"/><path d="M590 580 Q800 680 1000 760 Q1200 840 1320 930"/></g>
<path d="M135 1050 C70 990 40 900 40 800 C45 650 110 500 220 360 C300 260 420 150 560 95 C700 40 900 50 1100 90 C1300 150 1500 270 1650 410 C1780 560 1860 720 1860 880 C1855 990 1790 1080 1680 1130 C1600 1160 1480 1150 1400 1155 C1390 1080 1370 1000 1320 935 M1400 1155 C1395 1260 1360 1320 1260 1360 C1180 1390 1100 1395 1040 1360 C1000 1330 970 1300 940 1285 C850 1220 700 1130 520 1065 C380 1020 230 1010 135 1050 M940 1285 C880 1330 800 1410 740 1500 C720 1530 690 1540 650 1525 C560 1510 470 1520 400 1500 C300 1460 220 1380 190 1280 C170 1200 175 1120 150 1075 L135 1050" fill="none" stroke="#333" stroke-width="19.417" stroke-linejoin="round"/>
</g>
<line x1="500.7" y1="981.3" x2="586.3" y2="981.7" stroke="#6060ff" stroke-width="2" stroke-linecap="round" stroke-opacity="1"/>
<line x1="499" y1="985" x2="594.3" y2="1018.5" stroke="#0000f5" stroke-width="4.4" stroke-linecap="round" stroke-opacity="1"/>
<line x1="499" y1="985" x2="571" y2="1014.6" stroke="#0000f5" stroke-width="4" stroke-linecap="round" stroke-opacity="1"/>
<line x1="499" y1="985" x2="567" y2="1010.6" stroke="#0000f5" stroke-width="3" stroke-linecap="round" stroke-opacity="1"/>
<circle cx="496.7" cy="983.7" r="3.5" fill="#ffd92f"/>
<circle cx="500.7" cy="981.3" r="3.5" fill="#e5c494"/>
<circle cx="510.7" cy="988.7" r="3.5" fill="#a6d854"/>
<circle cx="585.5" cy="981.7" r="3.5" fill="#66c2a5"/>
<circle cx="586.3" cy="981.7" r="3.5" fill="#fc8d62"/>
<circle cx="567" cy="1010.6" r="3.5" fill="#8da0cb"/>
<circle cx="571" cy="1014.6" r="3.5" fill="#e78ac3"/>
<circle cx="594.3" cy="1018.5" r="3.5" fill="#b3b3b3"/>
<line x1="698" y1="986" x2="796.4" y2="1019.9" stroke="#0000f5" stroke-width="4.4" stroke-linecap="round" stroke-opacity="1"/>
<line x1="698" y1="986" x2="772.1" y2="1016" stroke="#0000f5" stroke-width="4.4" stroke-linecap="round" stroke-opacity="1"/>
<line x1="698" y1="986" x2="768.1" y2="1012" stroke="#0000f5" stroke-width="3" stroke-linecap="round" stroke-opacity="1"/>
<line x1="787.4" y1="982.1" x2="772.1" y2="1016" stroke="#6060ff" stroke-width="2" stroke-linecap="round" stroke-opacity="1"/>
<line x1="787.4" y1="982.1" x2="768.1" y2="1012" stroke="#6060ff" stroke-width="2" stroke-linecap="round" stroke-opacity="1"/>
<line x1="786.5" y1="982.1" x2="770" y2="1010" stroke="#6060ff" stroke-width="1.8" stroke-linecap="round" stroke-opacity="1"/>
<circle cx="695.4" cy="984.1" r="3.5" fill="#ffd92f"/>
<circle cx="699.8" cy="982.1" r="3.5" fill="#e5c494"/>
<circle cx="709.8" cy="989.3" r="3.5" fill="#a6d854"/>
<circle cx="786.5" cy="982.1" r="3.5" fill="#66c2a5"/>
<circle cx="787.4" cy="982.1" r="3.5" fill="#fc8d62"/>
<circle cx="768.1" cy="1012" r="3.5" fill="#8da0cb"/>
<circle cx="772.1" cy="1016" r="3.5" fill="#e78ac3"/>
<circle cx="796.4" cy="1019.9" r="3.5" fill="#b3b3b3"/>
<text x="900.19" y="812.5" font-size="27">D</text>
<text x="1138.11" y="813" font-size="21.5" textLength="63.25" lengthAdjust="spacingAndGlyphs">Whole</text>
<text x="1204.54" y="813" font-size="21.5" textLength="54.86" lengthAdjust="spacingAndGlyphs">Brain</text>
<text x="1260.24" y="813" font-size="21.5" textLength="106" lengthAdjust="spacingAndGlyphs">Functional</text>
<text x="1371.91" y="813" font-size="21.5" textLength="123.23" lengthAdjust="spacingAndGlyphs">Connectivity</text>
<text x="1498.74" y="813" font-size="21.5" textLength="83.93" lengthAdjust="spacingAndGlyphs">Network</text>
<text x="1045.08" y="862.9" font-size="18.5" textLength="91.05" lengthAdjust="spacingAndGlyphs">Modularity</text>
<text x="1258.36" y="862.9" font-size="18.5" textLength="232.24" lengthAdjust="spacingAndGlyphs">Characteristic Path Length</text>
<text x="1574.07" y="862.9" font-size="18.5" textLength="144.37" lengthAdjust="spacingAndGlyphs">Global Efficiency</text>
<path d="M989.8 912.3V1114.9H1184.4" stroke="#404040" stroke-width="1.4" fill="none"/>
<line x1="1038.8" y1="1114.9" x2="1038.8" y2="1120.9" stroke="#404040" stroke-width="1.4"/>
<line x1="1135.3" y1="1114.9" x2="1135.3" y2="1120.9" stroke="#404040" stroke-width="1.4"/>
<line x1="983.8" y1="953.6" x2="989.8" y2="953.6" stroke="#404040" stroke-width="1.4"/>
<text x="942.34" y="958.8" font-size="14.8" fill="#262626">0.040</text>
<line x1="983.8" y1="995" x2="989.8" y2="995" stroke="#404040" stroke-width="1.4"/>
<text x="942.39" y="1000.2" font-size="14.8" fill="#262626">0.035</text>
<line x1="983.8" y1="1035.8" x2="989.8" y2="1035.8" stroke="#404040" stroke-width="1.4"/>
<text x="942.34" y="1041" font-size="14.8" fill="#262626">0.030</text>
<line x1="983.8" y1="1077.1" x2="989.8" y2="1077.1" stroke="#404040" stroke-width="1.4"/>
<text x="942.39" y="1082.3" font-size="14.8" fill="#262626">0.025</text>
<line x1="1021.5" y1="921.7" x2="1021.5" y2="933.8" stroke="#404040" stroke-width="1.5"/>
<line x1="1021.5" y1="974.3" x2="1021.5" y2="1029.4" stroke="#404040" stroke-width="1.5"/>
<line x1="1013.1" y1="921.7" x2="1029.9" y2="921.7" stroke="#404040" stroke-width="1.5"/>
<line x1="1013.1" y1="1029.4" x2="1029.9" y2="1029.4" stroke="#404040" stroke-width="1.5"/>
<rect x="1004.7" y="933.8" width="33.6" height="40.5" fill="#5572cf" stroke="#404040" stroke-width="1.5"/>
<line x1="1004.7" y1="961.1" x2="1038.3" y2="961.1" stroke="#404040" stroke-width="1.5"/>
<line x1="1055.5" y1="938.2" x2="1055.5" y2="973" stroke="#404040" stroke-width="1.5"/>
<line x1="1055.5" y1="1012.9" x2="1055.5" y2="1042.7" stroke="#404040" stroke-width="1.5"/>
<line x1="1047.15" y1="938.2" x2="1063.85" y2="938.2" stroke="#404040" stroke-width="1.5"/>
<line x1="1047.15" y1="1042.7" x2="1063.85" y2="1042.7" stroke="#404040" stroke-width="1.5"/>
<rect x="1038.8" y="973" width="33.4" height="39.9" fill="#c42a4a" stroke="#404040" stroke-width="1.5"/>
<line x1="1038.8" y1="993.6" x2="1072.2" y2="993.6" stroke="#404040" stroke-width="1.5"/>
<circle cx="1055.5" cy="1096.4" r="1.9" fill="#404040"/>
<line x1="1118.5" y1="938.2" x2="1118.5" y2="950.3" stroke="#404040" stroke-width="1.5"/>
<line x1="1118.5" y1="983.4" x2="1118.5" y2="1003.3" stroke="#404040" stroke-width="1.5"/>
<line x1="1110.1" y1="938.2" x2="1126.9" y2="938.2" stroke="#404040" stroke-width="1.5"/>
<line x1="1110.1" y1="1003.3" x2="1126.9" y2="1003.3" stroke="#404040" stroke-width="1.5"/>
<rect x="1101.7" y="950.3" width="33.6" height="33.1" fill="#5572cf" stroke="#404040" stroke-width="1.5"/>
<line x1="1101.7" y1="956.4" x2="1135.3" y2="956.4" stroke="#404040" stroke-width="1.5"/>
<circle cx="1118.5" cy="1106.1" r="1.9" fill="#404040"/>
<line x1="1152.65" y1="930.2" x2="1152.65" y2="978.5" stroke="#404040" stroke-width="1.5"/>
<line x1="1152.65" y1="1026.7" x2="1152.65" y2="1090.6" stroke="#404040" stroke-width="1.5"/>
<line x1="1144.38" y1="930.2" x2="1160.93" y2="930.2" stroke="#404040" stroke-width="1.5"/>
<line x1="1144.38" y1="1090.6" x2="1160.93" y2="1090.6" stroke="#404040" stroke-width="1.5"/>
<rect x="1136.1" y="978.5" width="33.1" height="48.2" fill="#c42a4a" stroke="#404040" stroke-width="1.5"/>
<line x1="1136.1" y1="1003.3" x2="1169.2" y2="1003.3" stroke="#404040" stroke-width="1.5"/>
<line x1="1010.5" y1="905.7" x2="1063.6" y2="905.7" stroke="#262626" stroke-width="1.3"/>
<text x="1029.46" y="909.1" font-size="19.5" textLength="15.18" lengthAdjust="spacingAndGlyphs" fill="#1a1a1a">**</text>
<line x1="1107.7" y1="912.6" x2="1158.7" y2="912.6" stroke="#262626" stroke-width="1.3"/>
<text x="1129.4" y="916" font-size="19.5" textLength="7.59" lengthAdjust="spacingAndGlyphs" fill="#1a1a1a">*</text>
<path d="M1273.4 912.5V1115H1467.3" stroke="#404040" stroke-width="1.4" fill="none"/>
<line x1="1322.8" y1="1115" x2="1322.8" y2="1121" stroke="#404040" stroke-width="1.4"/>
<line x1="1419.7" y1="1115" x2="1419.7" y2="1121" stroke="#404040" stroke-width="1.4"/>
<line x1="1267.4" y1="922.6" x2="1273.4" y2="922.6" stroke="#404040" stroke-width="1.4"/>
<text x="1225.99" y="927.8" font-size="14.8" fill="#262626">0.125</text>
<line x1="1267.4" y1="959.4" x2="1273.4" y2="959.4" stroke="#404040" stroke-width="1.4"/>
<text x="1225.94" y="964.6" font-size="14.8" fill="#262626">0.100</text>
<line x1="1267.4" y1="995.8" x2="1273.4" y2="995.8" stroke="#404040" stroke-width="1.4"/>
<text x="1225.99" y="1001" font-size="14.8" fill="#262626">0.075</text>
<line x1="1267.4" y1="1032.6" x2="1273.4" y2="1032.6" stroke="#404040" stroke-width="1.4"/>
<text x="1225.94" y="1037.8" font-size="14.8" fill="#262626">0.050</text>
<line x1="1267.4" y1="1069" x2="1273.4" y2="1069" stroke="#404040" stroke-width="1.4"/>
<text x="1225.99" y="1074.2" font-size="14.8" fill="#262626">0.025</text>
<line x1="1267.4" y1="1105.5" x2="1273.4" y2="1105.5" stroke="#404040" stroke-width="1.4"/>
<text x="1225.94" y="1110.7" font-size="14.8" fill="#262626">0.000</text>
<line x1="1305.15" y1="1032.6" x2="1305.15" y2="1061.7" stroke="#404040" stroke-width="1.5"/>
<line x1="1305.15" y1="1084.9" x2="1305.15" y2="1099.6" stroke="#404040" stroke-width="1.5"/>
<line x1="1296.73" y1="1032.6" x2="1313.58" y2="1032.6" stroke="#404040" stroke-width="1.5"/>
<line x1="1296.73" y1="1099.6" x2="1313.58" y2="1099.6" stroke="#404040" stroke-width="1.5"/>
<rect x="1288.3" y="1061.7" width="33.7" height="23.2" fill="#5572cf" stroke="#404040" stroke-width="1.5"/>
<line x1="1288.3" y1="1075.2" x2="1322" y2="1075.2" stroke="#404040" stroke-width="1.5"/>
<circle cx="1305.15" cy="999.7" r="1.9" fill="#404040"/>
<line x1="1339.45" y1="1069.8" x2="1339.45" y2="1073.3" stroke="#404040" stroke-width="1.5"/>
<line x1="1339.45" y1="1093" x2="1339.45" y2="1098.5" stroke="#404040" stroke-width="1.5"/>
<line x1="1331.12" y1="1069.8" x2="1347.77" y2="1069.8" stroke="#404040" stroke-width="1.5"/>
<line x1="1331.12" y1="1098.5" x2="1347.77" y2="1098.5" stroke="#404040" stroke-width="1.5"/>
<rect x="1322.8" y="1073.3" width="33.3" height="19.7" fill="#c42a4a" stroke="#404040" stroke-width="1.5"/>
<line x1="1322.8" y1="1085.3" x2="1356.1" y2="1085.3" stroke="#404040" stroke-width="1.5"/>
<circle cx="1339.45" cy="921.8" r="1.9" fill="#404040"/>
<circle cx="1339.45" cy="973.7" r="1.9" fill="#404040"/>
<line x1="1402.65" y1="1034.6" x2="1402.65" y2="1060.9" stroke="#404040" stroke-width="1.5"/>
<line x1="1402.65" y1="1093" x2="1402.65" y2="1106.2" stroke="#404040" stroke-width="1.5"/>
<line x1="1394.33" y1="1034.6" x2="1410.98" y2="1034.6" stroke="#404040" stroke-width="1.5"/>
<line x1="1394.33" y1="1106.2" x2="1410.98" y2="1106.2" stroke="#404040" stroke-width="1.5"/>
<rect x="1386" y="1060.9" width="33.3" height="32.1" fill="#5572cf" stroke="#404040" stroke-width="1.5"/>
<line x1="1386" y1="1078.3" x2="1419.3" y2="1078.3" stroke="#404040" stroke-width="1.5"/>
<circle cx="1402.65" cy="958.2" r="1.9" fill="#404040"/>
<circle cx="1402.65" cy="988.1" r="1.9" fill="#404040"/>
<line x1="1436.5" y1="1050.8" x2="1436.5" y2="1074.1" stroke="#404040" stroke-width="1.5"/>
<line x1="1436.5" y1="1097.7" x2="1436.5" y2="1102.7" stroke="#404040" stroke-width="1.5"/>
<line x1="1428.25" y1="1050.8" x2="1444.75" y2="1050.8" stroke="#404040" stroke-width="1.5"/>
<line x1="1428.25" y1="1102.7" x2="1444.75" y2="1102.7" stroke="#404040" stroke-width="1.5"/>
<rect x="1420" y="1074.1" width="33" height="23.6" fill="#c42a4a" stroke="#404040" stroke-width="1.5"/>
<line x1="1420" y1="1093" x2="1453" y2="1093" stroke="#404040" stroke-width="1.5"/>
<path d="M1557.2 912.5V1115H1751" stroke="#404040" stroke-width="1.4" fill="none"/>
<line x1="1606" y1="1115" x2="1606" y2="1121" stroke="#404040" stroke-width="1.4"/>
<line x1="1702.9" y1="1115" x2="1702.9" y2="1121" stroke="#404040" stroke-width="1.4"/>
<line x1="1551.2" y1="943.9" x2="1557.2" y2="943.9" stroke="#404040" stroke-width="1.4"/>
<text x="1484.64" y="949.1" font-size="14.8" fill="#262626">−0.00050</text>
<line x1="1551.2" y1="979.1" x2="1557.2" y2="979.1" stroke="#404040" stroke-width="1.4"/>
<text x="1484.68" y="984.3" font-size="14.8" fill="#262626">−0.00075</text>
<line x1="1551.2" y1="1014.4" x2="1557.2" y2="1014.4" stroke="#404040" stroke-width="1.4"/>
<text x="1484.64" y="1019.6" font-size="14.8" fill="#262626">−0.00100</text>
<line x1="1551.2" y1="1049.7" x2="1557.2" y2="1049.7" stroke="#404040" stroke-width="1.4"/>
<text x="1484.68" y="1054.9" font-size="14.8" fill="#262626">−0.00125</text>
<line x1="1551.2" y1="1084.9" x2="1557.2" y2="1084.9" stroke="#404040" stroke-width="1.4"/>
<text x="1484.64" y="1090.1" font-size="14.8" fill="#262626">−0.00150</text>
<line x1="1589.2" y1="971.8" x2="1589.2" y2="986.9" stroke="#404040" stroke-width="1.5"/>
<line x1="1589.2" y1="1016.3" x2="1589.2" y2="1043.1" stroke="#404040" stroke-width="1.5"/>
<line x1="1580.95" y1="971.8" x2="1597.45" y2="971.8" stroke="#404040" stroke-width="1.5"/>
<line x1="1580.95" y1="1043.1" x2="1597.45" y2="1043.1" stroke="#404040" stroke-width="1.5"/>
<rect x="1572.7" y="986.9" width="33" height="29.4" fill="#5572cf" stroke="#404040" stroke-width="1.5"/>
<line x1="1572.7" y1="1002.8" x2="1605.7" y2="1002.8" stroke="#404040" stroke-width="1.5"/>
<line x1="1623.1" y1="929.6" x2="1623.1" y2="948.5" stroke="#404040" stroke-width="1.5"/>
<line x1="1623.1" y1="966.7" x2="1623.1" y2="993.1" stroke="#404040" stroke-width="1.5"/>
<line x1="1614.75" y1="929.6" x2="1631.45" y2="929.6" stroke="#404040" stroke-width="1.5"/>
<line x1="1614.75" y1="993.1" x2="1631.45" y2="993.1" stroke="#404040" stroke-width="1.5"/>
<rect x="1606.4" y="948.5" width="33.4" height="18.2" fill="#c42a4a" stroke="#404040" stroke-width="1.5"/>
<line x1="1606.4" y1="958.2" x2="1639.8" y2="958.2" stroke="#404040" stroke-width="1.5"/>
<circle cx="1623.1" cy="995" r="1.9" fill="#404040"/>
<circle cx="1623.1" cy="1015.2" r="1.9" fill="#404040"/>
<line x1="1686.25" y1="948.5" x2="1686.25" y2="980.3" stroke="#404040" stroke-width="1.5"/>
<line x1="1686.25" y1="1009" x2="1686.25" y2="1026.8" stroke="#404040" stroke-width="1.5"/>
<line x1="1677.92" y1="948.5" x2="1694.58" y2="948.5" stroke="#404040" stroke-width="1.5"/>
<line x1="1677.92" y1="1026.8" x2="1694.58" y2="1026.8" stroke="#404040" stroke-width="1.5"/>
<rect x="1669.6" y="980.3" width="33.3" height="28.7" fill="#5572cf" stroke="#404040" stroke-width="1.5"/>
<line x1="1669.6" y1="993.1" x2="1702.9" y2="993.1" stroke="#404040" stroke-width="1.5"/>
<circle cx="1686.25" cy="1053.2" r="1.9" fill="#404040"/>
<circle cx="1686.25" cy="1055.1" r="1.9" fill="#404040"/>
<circle cx="1686.25" cy="1106.2" r="1.9" fill="#404040"/>
<line x1="1720.35" y1="921.8" x2="1720.35" y2="942" stroke="#404040" stroke-width="1.5"/>
<line x1="1720.35" y1="971" x2="1720.35" y2="991.2" stroke="#404040" stroke-width="1.5"/>
<line x1="1712.02" y1="921.8" x2="1728.67" y2="921.8" stroke="#404040" stroke-width="1.5"/>
<line x1="1712.02" y1="991.2" x2="1728.67" y2="991.2" stroke="#404040" stroke-width="1.5"/>
<rect x="1703.7" y="942" width="33.3" height="29" fill="#c42a4a" stroke="#404040" stroke-width="1.5"/>
<line x1="1703.7" y1="958.2" x2="1737" y2="958.2" stroke="#404040" stroke-width="1.5"/>
<circle cx="1720.35" cy="1019" r="1.9" fill="#404040"/>
<circle cx="1720.35" cy="1020.2" r="1.9" fill="#404040"/>
<line x1="1580.5" y1="911.7" x2="1633.2" y2="911.7" stroke="#262626" stroke-width="1.3"/>
<text x="1591.67" y="915.1" font-size="19.5" textLength="30.35" lengthAdjust="spacingAndGlyphs" fill="#1a1a1a">****</text>
<line x1="1677.7" y1="905.9" x2="1729.2" y2="905.9" stroke="#262626" stroke-width="1.3"/>
<text x="1692.06" y="909.3" font-size="19.5" textLength="22.77" lengthAdjust="spacingAndGlyphs" fill="#1a1a1a">***</text>
<rect x="1788.6" y="923.6" width="30.9" height="10.7" fill="#5b6fba" stroke="#222" stroke-width="1.2"/>
<rect x="1788.6" y="946.6" width="30.9" height="10.7" fill="#c0284a" stroke="#222" stroke-width="1.2"/>
<text x="1834.71" y="934.9" font-size="17" textLength="34.72" lengthAdjust="spacingAndGlyphs" fill="#111">Rest</text>
<text x="1834.71" y="957.9" font-size="17" textLength="78.6" lengthAdjust="spacingAndGlyphs" fill="#111">Meditation</text>
<path d="M989.8 1155.5V1357.5H1184.4" stroke="#404040" stroke-width="1.4" fill="none"/>
<line x1="1038.8" y1="1357.5" x2="1038.8" y2="1363.5" stroke="#404040" stroke-width="1.4"/>
<line x1="1135.3" y1="1357.5" x2="1135.3" y2="1363.5" stroke="#404040" stroke-width="1.4"/>
<line x1="983.8" y1="1165.1" x2="989.8" y2="1165.1" stroke="#404040" stroke-width="1.4"/>
<text x="942.39" y="1170.3" font-size="14.8" fill="#262626">0.045</text>
<line x1="983.8" y1="1203.7" x2="989.8" y2="1203.7" stroke="#404040" stroke-width="1.4"/>
<text x="942.34" y="1208.9" font-size="14.8" fill="#262626">0.040</text>
<line x1="983.8" y1="1242.3" x2="989.8" y2="1242.3" stroke="#404040" stroke-width="1.4"/>
<text x="942.39" y="1247.5" font-size="14.8" fill="#262626">0.035</text>
<line x1="983.8" y1="1280.3" x2="989.8" y2="1280.3" stroke="#404040" stroke-width="1.4"/>
<text x="942.34" y="1285.5" font-size="14.8" fill="#262626">0.030</text>
<line x1="983.8" y1="1318.7" x2="989.8" y2="1318.7" stroke="#404040" stroke-width="1.4"/>
<text x="942.39" y="1323.9" font-size="14.8" fill="#262626">0.025</text>
<line x1="983.8" y1="1357.2" x2="989.8" y2="1357.2" stroke="#404040" stroke-width="1.4"/>
<text x="942.34" y="1362.4" font-size="14.8" fill="#262626">0.020</text>
<line x1="1021.75" y1="1164.6" x2="1021.75" y2="1190.5" stroke="#404040" stroke-width="1.5"/>
<line x1="1021.75" y1="1234" x2="1021.75" y2="1287" stroke="#404040" stroke-width="1.5"/>
<line x1="1013.23" y1="1164.6" x2="1030.28" y2="1164.6" stroke="#404040" stroke-width="1.5"/>
<line x1="1013.23" y1="1287" x2="1030.28" y2="1287" stroke="#404040" stroke-width="1.5"/>
<rect x="1004.7" y="1190.5" width="34.1" height="43.5" fill="#5572cf" stroke="#404040" stroke-width="1.5"/>
<line x1="1004.7" y1="1210.6" x2="1038.8" y2="1210.6" stroke="#404040" stroke-width="1.5"/>
<line x1="1055.65" y1="1182.5" x2="1055.65" y2="1243.4" stroke="#404040" stroke-width="1.5"/>
<line x1="1055.65" y1="1306.5" x2="1055.65" y2="1348.7" stroke="#404040" stroke-width="1.5"/>
<line x1="1047.23" y1="1182.5" x2="1064.08" y2="1182.5" stroke="#404040" stroke-width="1.5"/>
<line x1="1047.23" y1="1348.7" x2="1064.08" y2="1348.7" stroke="#404040" stroke-width="1.5"/>
<rect x="1038.8" y="1243.4" width="33.7" height="63.1" fill="#c42a4a" stroke="#404040" stroke-width="1.5"/>
<line x1="1038.8" y1="1280.9" x2="1072.5" y2="1280.9" stroke="#404040" stroke-width="1.5"/>
<line x1="1118.65" y1="1182.8" x2="1118.65" y2="1195.4" stroke="#404040" stroke-width="1.5"/>
<line x1="1118.65" y1="1236.8" x2="1118.65" y2="1249.7" stroke="#404040" stroke-width="1.5"/>
<line x1="1110.18" y1="1182.8" x2="1127.12" y2="1182.8" stroke="#404040" stroke-width="1.5"/>
<line x1="1110.18" y1="1249.7" x2="1127.12" y2="1249.7" stroke="#404040" stroke-width="1.5"/>
<rect x="1101.7" y="1195.4" width="33.9" height="41.4" fill="#5572cf" stroke="#404040" stroke-width="1.5"/>
<line x1="1101.7" y1="1231.3" x2="1135.6" y2="1231.3" stroke="#404040" stroke-width="1.5"/>
<line x1="1152.95" y1="1253.9" x2="1152.95" y2="1270.7" stroke="#404040" stroke-width="1.5"/>
<line x1="1152.95" y1="1312" x2="1152.95" y2="1348.7" stroke="#404040" stroke-width="1.5"/>
<line x1="1144.52" y1="1253.9" x2="1161.37" y2="1253.9" stroke="#404040" stroke-width="1.5"/>
<line x1="1144.52" y1="1348.7" x2="1161.37" y2="1348.7" stroke="#404040" stroke-width="1.5"/>
<rect x="1136.1" y="1270.7" width="33.7" height="41.3" fill="#c42a4a" stroke="#404040" stroke-width="1.5"/>
<line x1="1136.1" y1="1291.4" x2="1169.8" y2="1291.4" stroke="#404040" stroke-width="1.5"/>
<line x1="1010.2" y1="1147.2" x2="1063.6" y2="1147.2" stroke="#262626" stroke-width="1.3"/>
<text x="1025.51" y="1150.6" font-size="19.5" textLength="22.77" lengthAdjust="spacingAndGlyphs" fill="#1a1a1a">***</text>
<line x1="1107.7" y1="1164.3" x2="1159.6" y2="1164.3" stroke="#262626" stroke-width="1.3"/>
<text x="1118.47" y="1167.7" font-size="19.5" textLength="30.35" lengthAdjust="spacingAndGlyphs" fill="#1a1a1a">****</text>
<path d="M1273.4 1155.5V1357.5H1467.3" stroke="#404040" stroke-width="1.4" fill="none"/>
<line x1="1322.8" y1="1357.5" x2="1322.8" y2="1363.5" stroke="#404040" stroke-width="1.4"/>
<line x1="1419.7" y1="1357.5" x2="1419.7" y2="1363.5" stroke="#404040" stroke-width="1.4"/>
<line x1="1267.4" y1="1171.2" x2="1273.4" y2="1171.2" stroke="#404040" stroke-width="1.4"/>
<text x="1242.45" y="1176.4" font-size="14.8" fill="#262626">0.5</text>
<line x1="1267.4" y1="1208.4" x2="1273.4" y2="1208.4" stroke="#404040" stroke-width="1.4"/>
<text x="1242.26" y="1213.6" font-size="14.8" fill="#262626">0.4</text>
<line x1="1267.4" y1="1245.9" x2="1273.4" y2="1245.9" stroke="#404040" stroke-width="1.4"/>
<text x="1242.48" y="1251.1" font-size="14.8" fill="#262626">0.3</text>
<line x1="1267.4" y1="1283.4" x2="1273.4" y2="1283.4" stroke="#404040" stroke-width="1.4"/>
<text x="1242.57" y="1288.6" font-size="14.8" fill="#262626">0.2</text>
<line x1="1267.4" y1="1320.6" x2="1273.4" y2="1320.6" stroke="#404040" stroke-width="1.4"/>
<text x="1242.55" y="1325.8" font-size="14.8" fill="#262626">0.1</text>
<line x1="1267.4" y1="1357.8" x2="1273.4" y2="1357.8" stroke="#404040" stroke-width="1.4"/>
<text x="1242.4" y="1363" font-size="14.8" fill="#262626">0.0</text>
<line x1="1305.5" y1="1309" x2="1305.5" y2="1320.6" stroke="#404040" stroke-width="1.5"/>
<line x1="1305.5" y1="1338.5" x2="1305.5" y2="1344.8" stroke="#404040" stroke-width="1.5"/>
<line x1="1297.15" y1="1309" x2="1313.85" y2="1309" stroke="#404040" stroke-width="1.5"/>
<line x1="1297.15" y1="1344.8" x2="1313.85" y2="1344.8" stroke="#404040" stroke-width="1.5"/>
<rect x="1288.8" y="1320.6" width="33.4" height="17.9" fill="#5572cf" stroke="#404040" stroke-width="1.5"/>
<line x1="1288.8" y1="1329.7" x2="1322.2" y2="1329.7" stroke="#404040" stroke-width="1.5"/>
<circle cx="1305.5" cy="1247" r="1.9" fill="#404040"/>
<line x1="1339.55" y1="1330.5" x2="1339.55" y2="1333.5" stroke="#404040" stroke-width="1.5"/>
<line x1="1339.55" y1="1341" x2="1339.55" y2="1348.4" stroke="#404040" stroke-width="1.5"/>
<line x1="1331.13" y1="1330.5" x2="1347.98" y2="1330.5" stroke="#404040" stroke-width="1.5"/>
<line x1="1331.13" y1="1348.4" x2="1347.98" y2="1348.4" stroke="#404040" stroke-width="1.5"/>
<rect x="1322.7" y="1333.5" width="33.7" height="7.5" fill="#c42a4a" stroke="#404040" stroke-width="1.5"/>
<line x1="1322.7" y1="1337.7" x2="1356.4" y2="1337.7" stroke="#404040" stroke-width="1.5"/>
<circle cx="1339.55" cy="1164.6" r="1.9" fill="#404040"/>
<circle cx="1339.55" cy="1316.7" r="1.9" fill="#404040"/>
<line x1="1402.65" y1="1290.9" x2="1402.65" y2="1312.6" stroke="#404040" stroke-width="1.5"/>
<line x1="1402.65" y1="1333.6" x2="1402.65" y2="1348.7" stroke="#404040" stroke-width="1.5"/>
<line x1="1394.33" y1="1290.9" x2="1410.98" y2="1290.9" stroke="#404040" stroke-width="1.5"/>
<line x1="1394.33" y1="1348.7" x2="1410.98" y2="1348.7" stroke="#404040" stroke-width="1.5"/>
<rect x="1386" y="1312.6" width="33.3" height="21" fill="#5572cf" stroke="#404040" stroke-width="1.5"/>
<line x1="1386" y1="1325.8" x2="1419.3" y2="1325.8" stroke="#404040" stroke-width="1.5"/>
<circle cx="1402.65" cy="1263.8" r="1.9" fill="#404040"/>
<line x1="1436.5" y1="1323.1" x2="1436.5" y2="1332.8" stroke="#404040" stroke-width="1.5"/>
<line x1="1436.5" y1="1340.9" x2="1436.5" y2="1347.5" stroke="#404040" stroke-width="1.5"/>
<line x1="1428.25" y1="1323.1" x2="1444.75" y2="1323.1" stroke="#404040" stroke-width="1.5"/>
<line x1="1428.25" y1="1347.5" x2="1444.75" y2="1347.5" stroke="#404040" stroke-width="1.5"/>
<rect x="1420" y="1332.8" width="33" height="8.1" fill="#c42a4a" stroke="#404040" stroke-width="1.5"/>
<line x1="1420" y1="1337.4" x2="1453" y2="1337.4" stroke="#404040" stroke-width="1.5"/>
<line x1="1405.3" y1="1239.8" x2="1456.5" y2="1239.8" stroke="#262626" stroke-width="1.3"/>
<text x="1419.51" y="1243.2" font-size="19.5" textLength="22.77" lengthAdjust="spacingAndGlyphs" fill="#1a1a1a">***</text>
<path d="M1557.2 1155.7V1357.5H1751" stroke="#404040" stroke-width="1.4" fill="none"/>
<line x1="1606" y1="1357.5" x2="1606" y2="1363.5" stroke="#404040" stroke-width="1.4"/>
<line x1="1702.9" y1="1357.5" x2="1702.9" y2="1363.5" stroke="#404040" stroke-width="1.4"/>
<line x1="1551.2" y1="1198.3" x2="1557.2" y2="1198.3" stroke="#404040" stroke-width="1.4"/>
<text x="1484.68" y="1203.5" font-size="14.8" fill="#262626">−0.00005</text>
<line x1="1551.2" y1="1241.7" x2="1557.2" y2="1241.7" stroke="#404040" stroke-width="1.4"/>
<text x="1484.64" y="1246.9" font-size="14.8" fill="#262626">−0.00010</text>
<line x1="1551.2" y1="1284.7" x2="1557.2" y2="1284.7" stroke="#404040" stroke-width="1.4"/>
<text x="1484.68" y="1289.9" font-size="14.8" fill="#262626">−0.00015</text>
<line x1="1551.2" y1="1328.1" x2="1557.2" y2="1328.1" stroke="#404040" stroke-width="1.4"/>
<text x="1484.64" y="1333.3" font-size="14.8" fill="#262626">−0.00020</text>
<line x1="1589.35" y1="1173.2" x2="1589.35" y2="1179.7" stroke="#404040" stroke-width="1.5"/>
<line x1="1589.35" y1="1190.6" x2="1589.35" y2="1194.1" stroke="#404040" stroke-width="1.5"/>
<line x1="1581.02" y1="1173.2" x2="1597.67" y2="1173.2" stroke="#404040" stroke-width="1.5"/>
<line x1="1581.02" y1="1194.1" x2="1597.67" y2="1194.1" stroke="#404040" stroke-width="1.5"/>
<rect x="1572.7" y="1179.7" width="33.3" height="10.9" fill="#5572cf" stroke="#404040" stroke-width="1.5"/>
<line x1="1572.7" y1="1185.6" x2="1606" y2="1185.6" stroke="#404040" stroke-width="1.5"/>
<circle cx="1589.35" cy="1210.3" r="1.9" fill="#404040"/>
<line x1="1623.25" y1="1166.2" x2="1623.25" y2="1167" stroke="#404040" stroke-width="1.5"/>
<line x1="1623.25" y1="1170.8" x2="1623.25" y2="1172.8" stroke="#404040" stroke-width="1.5"/>
<line x1="1614.83" y1="1166.2" x2="1631.67" y2="1166.2" stroke="#404040" stroke-width="1.5"/>
<line x1="1614.83" y1="1172.8" x2="1631.67" y2="1172.8" stroke="#404040" stroke-width="1.5"/>
<rect x="1606.4" y="1167" width="33.7" height="3.8" fill="#c42a4a" stroke="#404040" stroke-width="1.5"/>
<line x1="1606.4" y1="1168.9" x2="1640.1" y2="1168.9" stroke="#404040" stroke-width="1.5"/>
<circle cx="1623.25" cy="1180.5" r="1.9" fill="#404040"/>
<circle cx="1623.25" cy="1348.7" r="1.9" fill="#404040"/>
<line x1="1686.25" y1="1170.8" x2="1686.25" y2="1177" stroke="#404040" stroke-width="1.5"/>
<line x1="1686.25" y1="1190.2" x2="1686.25" y2="1198.7" stroke="#404040" stroke-width="1.5"/>
<line x1="1677.92" y1="1170.8" x2="1694.58" y2="1170.8" stroke="#404040" stroke-width="1.5"/>
<line x1="1677.92" y1="1198.7" x2="1694.58" y2="1198.7" stroke="#404040" stroke-width="1.5"/>
<rect x="1669.6" y="1177" width="33.3" height="13.2" fill="#5572cf" stroke="#404040" stroke-width="1.5"/>
<line x1="1669.6" y1="1186.3" x2="1702.9" y2="1186.3" stroke="#404040" stroke-width="1.5"/>
<line x1="1720.55" y1="1164.2" x2="1720.55" y2="1166.2" stroke="#404040" stroke-width="1.5"/>
<line x1="1720.55" y1="1170" x2="1720.55" y2="1173.2" stroke="#404040" stroke-width="1.5"/>
<line x1="1712.13" y1="1164.2" x2="1728.98" y2="1164.2" stroke="#404040" stroke-width="1.5"/>
<line x1="1712.13" y1="1173.2" x2="1728.98" y2="1173.2" stroke="#404040" stroke-width="1.5"/>
<rect x="1703.7" y="1166.2" width="33.7" height="3.8" fill="#c42a4a" stroke="#404040" stroke-width="1.5"/>
<line x1="1703.7" y1="1168.1" x2="1737.4" y2="1168.1" stroke="#404040" stroke-width="1.5"/>
<line x1="1579.7" y1="1154.6" x2="1633.2" y2="1154.6" stroke="#262626" stroke-width="1.3"/>
<text x="1598.86" y="1158" font-size="19.5" textLength="15.18" lengthAdjust="spacingAndGlyphs" fill="#1a1a1a">**</text>
<line x1="1677.3" y1="1154.6" x2="1729.2" y2="1154.6" stroke="#262626" stroke-width="1.3"/>
<text x="1688.07" y="1158" font-size="19.5" textLength="30.35" lengthAdjust="spacingAndGlyphs" fill="#1a1a1a">****</text>
<text x="1022.55" y="1384.3" font-size="17" textLength="26.45" lengthAdjust="spacingAndGlyphs" fill="#1a1a1a">Pre</text>
<text x="1117.06" y="1384.3" font-size="17" textLength="34.02" lengthAdjust="spacingAndGlyphs" fill="#1a1a1a">Post</text>
<text x="1307.95" y="1384.3" font-size="17" textLength="26.45" lengthAdjust="spacingAndGlyphs" fill="#1a1a1a">Pre</text>
<text x="1402.76" y="1384.3" font-size="17" textLength="34.02" lengthAdjust="spacingAndGlyphs" fill="#1a1a1a">Post</text>
<text x="1597.15" y="1384.3" font-size="17" textLength="26.45" lengthAdjust="spacingAndGlyphs" fill="#1a1a1a">Pre</text>
<text x="1691.46" y="1384.3" font-size="17" textLength="34.02" lengthAdjust="spacingAndGlyphs" fill="#1a1a1a">Post</text>
<g transform="translate(920.3 1007.4) rotate(-90)"><text x="-82.58" y="6.02" font-size="17.5" textLength="164.35" lengthAdjust="spacingAndGlyphs" fill="#1a1a1a">Harvard-Oxford Atlas</text></g>
<g transform="translate(918.4 1246) rotate(-90)"><text x="-47.09" y="6.02" font-size="17.5" textLength="93.37" lengthAdjust="spacingAndGlyphs" fill="#1a1a1a">Power Atlas</text></g>
<rect x="987.6" y="1450.9" width="781.9" height="105.5" rx="5" fill="#efeeed"/>
<text x="1007.5" y="1481" font-size="16.5" textLength="83.29" lengthAdjust="spacingAndGlyphs" font-weight="bold" fill="#0d0d0d">Modularity</text>
<text x="1090.39" y="1481" font-size="16.5" textLength="642.11" lengthAdjust="spacingAndGlyphs" fill="#0d0d0d">: The extent to which a network can be divided into distinct, interconnected communities.</text>
<text x="1007.92" y="1507" font-size="16.5" textLength="200.9" lengthAdjust="spacingAndGlyphs" font-weight="bold" fill="#0d0d0d">Characteristic path length</text>
<text x="1208.09" y="1507" font-size="16.5" textLength="542.81" lengthAdjust="spacingAndGlyphs" fill="#0d0d0d">: The average shortest path length between all pairs of nodes in a network.</text>
<text x="1007.92" y="1534.7" font-size="16.5" textLength="129.57" lengthAdjust="spacingAndGlyphs" font-weight="bold" fill="#0d0d0d">Global efficiency</text>
<text x="1137.89" y="1534.7" font-size="16.5" textLength="527.21" lengthAdjust="spacingAndGlyphs" fill="#0d0d0d">: A measure of how well information can travel across the entire network.</text>
<text x="12.09" y="1156.4" font-size="27">E</text>
<text x="275.37" y="1154.9" font-size="23.5" textLength="68.47" lengthAdjust="spacingAndGlyphs">Novice</text>
<text x="349.62" y="1154.9" font-size="23.5" textLength="28.13" lengthAdjust="spacingAndGlyphs">vs.</text>
<text x="381.15" y="1154.9" font-size="23.5" textLength="98.66" lengthAdjust="spacingAndGlyphs">Advanced</text>
<text x="284.3" y="1191.8" font-size="19.8" textLength="83.82" lengthAdjust="spacingAndGlyphs">Structural</text>
<text x="371.48" y="1191.8" font-size="19.8" textLength="99.14" lengthAdjust="spacingAndGlyphs">Differences</text>
<defs>
<radialGradient id="shPL" cx="0.5" cy="0.55" r="0.62"><stop offset="0" stop-color="#000" stop-opacity="0"/><stop offset="0.7" stop-color="#000" stop-opacity="0.05"/><stop offset="0.9" stop-color="#000" stop-opacity="0.35"/><stop offset="1" stop-color="#000" stop-opacity="0.7"/></radialGradient>
<linearGradient id="shPLm" x1="0" x2="1" y1="0" y2="0"><stop offset="0" stop-color="#000" stop-opacity="0"/><stop offset="0.72" stop-color="#000" stop-opacity="0"/><stop offset="0.85" stop-color="#000" stop-opacity="0.45"/><stop offset="1" stop-color="#000" stop-opacity="0.6"/></linearGradient>
<linearGradient id="shPRm" x1="1" x2="0" y1="0" y2="0"><stop offset="0" stop-color="#000" stop-opacity="0"/><stop offset="0.72" stop-color="#000" stop-opacity="0"/><stop offset="0.85" stop-color="#000" stop-opacity="0.45"/><stop offset="1" stop-color="#000" stop-opacity="0.6"/></linearGradient>
<linearGradient id="shS" x1="0" x2="0" y1="0" y2="1"><stop offset="0" stop-color="#000" stop-opacity="0.72"/><stop offset="0.3" stop-color="#000" stop-opacity="0.6"/><stop offset="0.5" stop-color="#000" stop-opacity="0.33"/><stop offset="0.65" stop-color="#000" stop-opacity="0.1"/><stop offset="0.8" stop-color="#000" stop-opacity="0"/><stop offset="1" stop-color="#000" stop-opacity="0"/></linearGradient>
<filter id="rimblur" x="-0.1" y="-0.1" width="1.2" height="1.2"><feGaussianBlur stdDeviation="18"/></filter>
<linearGradient id="shSLm" x1="0" x2="1" y1="0" y2="0"><stop offset="0" stop-color="#000" stop-opacity="0.25"/><stop offset="0.15" stop-color="#000" stop-opacity="0"/><stop offset="0.75" stop-color="#000" stop-opacity="0"/><stop offset="0.92" stop-color="#000" stop-opacity="0.5"/><stop offset="1" stop-color="#000" stop-opacity="0.6"/></linearGradient>
<linearGradient id="shSRm" x1="1" x2="0" y1="0" y2="0"><stop offset="0" stop-color="#000" stop-opacity="0.25"/><stop offset="0.15" stop-color="#000" stop-opacity="0"/><stop offset="0.75" stop-color="#000" stop-opacity="0"/><stop offset="0.92" stop-color="#000" stop-opacity="0.5"/><stop offset="1" stop-color="#000" stop-opacity="0.6"/></linearGradient>
</defs>
<defs>
<filter id="tb1" x="-0.2" y="-0.2" width="1.4" height="1.4" filterUnits="objectBoundingBox" color-interpolation-filters="sRGB">
<feTurbulence type="fractalNoise" baseFrequency="0.0115 0.0055" numOctaves="3" seed="4" result="n"/>
<feColorMatrix in="n" type="matrix" values="0 0 0 0 0.355  0 0 0 0 0.355  0 0 0 0 0.34435  28 0 0 0 -14.0"/>
</filter></defs>
<defs>
<filter id="tb2" x="-0.2" y="-0.2" width="1.4" height="1.4" filterUnits="objectBoundingBox" color-interpolation-filters="sRGB">
<feTurbulence type="fractalNoise" baseFrequency="0.0115 0.0055" numOctaves="3" seed="9" result="n"/>
<feColorMatrix in="n" type="matrix" values="0 0 0 0 0.355  0 0 0 0 0.355  0 0 0 0 0.34435  28 0 0 0 -14.0"/>
</filter></defs>
<defs>
<filter id="tb3" x="-0.2" y="-0.2" width="1.4" height="1.4" filterUnits="objectBoundingBox" color-interpolation-filters="sRGB">
<feTurbulence type="fractalNoise" baseFrequency="0.0095 0.0080" numOctaves="3" seed="17" result="n"/>
<feColorMatrix in="n" type="matrix" values="0 0 0 0 0.355  0 0 0 0 0.355  0 0 0 0 0.34435  28 0 0 0 -14.0"/>
</filter></defs>
<defs>
<filter id="tb4" x="-0.2" y="-0.2" width="1.4" height="1.4" filterUnits="objectBoundingBox" color-interpolation-filters="sRGB">
<feTurbulence type="fractalNoise" baseFrequency="0.0095 0.0080" numOctaves="3" seed="21" result="n"/>
<feColorMatrix in="n" type="matrix" values="0 0 0 0 0.355  0 0 0 0 0.355  0 0 0 0 0.34435  28 0 0 0 -14.0"/>
</filter></defs>
<g transform="translate(145 1265) scale(0.11071)">
<clipPath id="cpl"><path d="M80 1200 C78 1000 80 800 88 700 C95 620 120 560 170 480 C230 400 330 300 450 220 C540 160 640 110 720 92 C770 85 810 100 830 160 C850 250 855 400 880 500 C905 580 930 680 935 800 C938 900 920 980 870 1060 C830 1110 780 1140 760 1160 C745 1230 740 1290 700 1350 C650 1420 560 1475 450 1482 C330 1480 200 1400 120 1310 C95 1270 82 1240 80 1200 Z"/></clipPath>
<path d="M80 1200 C78 1000 80 800 88 700 C95 620 120 560 170 480 C230 400 330 300 450 220 C540 160 640 110 720 92 C770 85 810 100 830 160 C850 250 855 400 880 500 C905 580 930 680 935 800 C938 900 920 980 870 1060 C830 1110 780 1140 760 1160 C745 1230 740 1290 700 1350 C650 1420 560 1475 450 1482 C330 1480 200 1400 120 1310 C95 1270 82 1240 80 1200 Z" fill="#9b9993"/>
<g clip-path="url(#cpl)">
<g transform="rotate(-15 507.5 786.0)"><rect x="-220" y="-210" width="1455" height="1992" fill="#000" filter="url(#tb1)"/></g>
<path d="M80 1200 C78 1000 80 800 88 700 C95 620 120 560 170 480 C230 400 330 300 450 220 C540 160 640 110 720 92 C770 85 810 100 830 160 C850 250 855 400 880 500 C905 580 930 680 935 800 C938 900 920 980 870 1060 C830 1110 780 1140 760 1160 C745 1230 740 1290 700 1350 C650 1420 560 1475 450 1482 C330 1480 200 1400 120 1310 C95 1270 82 1240 80 1200 Z" fill="url(#shPL)"/>
<path d="M80 1200 C78 1000 80 800 88 700 C95 620 120 560 170 480 C230 400 330 300 450 220 C540 160 640 110 720 92 C770 85 810 100 830 160 C850 250 855 400 880 500 C905 580 930 680 935 800 C938 900 920 980 870 1060 C830 1110 780 1140 760 1160 C745 1230 740 1290 700 1350 C650 1420 560 1475 450 1482 C330 1480 200 1400 120 1310 C95 1270 82 1240 80 1200 Z" fill="url(#shPLm)"/>
<path d="M80 1200 C78 1000 80 800 88 700 C95 620 120 560 170 480 C230 400 330 300 450 220 C540 160 640 110 720 92 C770 85 810 100 830 160 C850 250 855 400 880 500 C905 580 930 680 935 800 C938 900 920 980 870 1060 C830 1110 780 1140 760 1160 C745 1230 740 1290 700 1350 C650 1420 560 1475 450 1482 C330 1480 200 1400 120 1310 C95 1270 82 1240 80 1200 Z" fill="none" stroke="#000" stroke-opacity="0.45" stroke-width="55" filter="url(#rimblur)"/>
</g></g>
<g transform="translate(145 1265) scale(0.11071)">
<clipPath id="cpr"><path d="M1185 1170 C1120 1120 1060 1040 1030 950 C1010 870 1015 780 1030 690 C1050 590 1090 480 1110 400 C1130 300 1130 200 1150 140 C1170 105 1210 95 1280 105 C1350 125 1450 190 1550 290 C1650 380 1760 470 1810 550 C1840 620 1850 700 1850 800 C1848 900 1830 1000 1822 1100 C1825 1180 1835 1260 1810 1350 C1770 1430 1680 1470 1560 1490 C1450 1495 1340 1465 1270 1410 C1210 1360 1190 1280 1185 1170 Z"/></clipPath>
<path d="M1185 1170 C1120 1120 1060 1040 1030 950 C1010 870 1015 780 1030 690 C1050 590 1090 480 1110 400 C1130 300 1130 200 1150 140 C1170 105 1210 95 1280 105 C1350 125 1450 190 1550 290 C1650 380 1760 470 1810 550 C1840 620 1850 700 1850 800 C1848 900 1830 1000 1822 1100 C1825 1180 1835 1260 1810 1350 C1770 1430 1680 1470 1560 1490 C1450 1495 1340 1465 1270 1410 C1210 1360 1190 1280 1185 1170 Z" fill="#9b9993"/>
<g clip-path="url(#cpr)">
<g transform="rotate(15 1432.5 795.0)"><rect x="715" y="-205" width="1435" height="2000" fill="#000" filter="url(#tb2)"/></g>
<path d="M1185 1170 C1120 1120 1060 1040 1030 950 C1010 870 1015 780 1030 690 C1050 590 1090 480 1110 400 C1130 300 1130 200 1150 140 C1170 105 1210 95 1280 105 C1350 125 1450 190 1550 290 C1650 380 1760 470 1810 550 C1840 620 1850 700 1850 800 C1848 900 1830 1000 1822 1100 C1825 1180 1835 1260 1810 1350 C1770 1430 1680 1470 1560 1490 C1450 1495 1340 1465 1270 1410 C1210 1360 1190 1280 1185 1170 Z" fill="url(#shPL)"/>
<path d="M1185 1170 C1120 1120 1060 1040 1030 950 C1010 870 1015 780 1030 690 C1050 590 1090 480 1110 400 C1130 300 1130 200 1150 140 C1170 105 1210 95 1280 105 C1350 125 1450 190 1550 290 C1650 380 1760 470 1810 550 C1840 620 1850 700 1850 800 C1848 900 1830 1000 1822 1100 C1825 1180 1835 1260 1810 1350 C1770 1430 1680 1470 1560 1490 C1450 1495 1340 1465 1270 1410 C1210 1360 1190 1280 1185 1170 Z" fill="url(#shPRm)"/>
<path d="M1185 1170 C1120 1120 1060 1040 1030 950 C1010 870 1015 780 1030 690 C1050 590 1090 480 1110 400 C1130 300 1130 200 1150 140 C1170 105 1210 95 1280 105 C1350 125 1450 190 1550 290 C1650 380 1760 470 1810 550 C1840 620 1850 700 1850 800 C1848 900 1830 1000 1822 1100 C1825 1180 1835 1260 1810 1350 C1770 1430 1680 1470 1560 1490 C1450 1495 1340 1465 1270 1410 C1210 1360 1190 1280 1185 1170 Z" fill="none" stroke="#000" stroke-opacity="0.45" stroke-width="55" filter="url(#rimblur)"/>
<path d="M1295 495 Q1330 470 1360 490 Q1385 520 1380 560 Q1400 600 1370 615 Q1340 600 1310 600 Q1290 570 1300 540 Q1280 515 1295 495 Z" fill="#f5ec00"/>
</g></g>
<g transform="translate(395 1240) scale(0.14233)">
<clipPath id="csl"><path d="M510 75 C550 80 585 120 600 200 C620 300 640 450 650 600 C655 750 640 900 600 1050 C575 1150 550 1230 545 1300 C542 1380 545 1440 505 1488 C470 1505 420 1495 350 1450 C270 1380 200 1280 160 1180 C120 1080 85 980 80 880 C75 780 85 680 110 600 C140 520 185 440 240 300 C280 210 330 150 420 100 C450 85 480 75 510 75 Z"/></clipPath>
<path d="M510 75 C550 80 585 120 600 200 C620 300 640 450 650 600 C655 750 640 900 600 1050 C575 1150 550 1230 545 1300 C542 1380 545 1440 505 1488 C470 1505 420 1495 350 1450 C270 1380 200 1280 160 1180 C120 1080 85 980 80 880 C75 780 85 680 110 600 C140 520 185 440 240 300 C280 210 330 150 420 100 C450 85 480 75 510 75 Z" fill="#9b9993"/>
<g clip-path="url(#csl)">
<g transform="rotate(-5 365.0 790.0)"><rect x="-225" y="-225" width="1180" height="2030" fill="#000" filter="url(#tb3)"/></g>
<path d="M510 75 C550 80 585 120 600 200 C620 300 640 450 650 600 C655 750 640 900 600 1050 C575 1150 550 1230 545 1300 C542 1380 545 1440 505 1488 C470 1505 420 1495 350 1450 C270 1380 200 1280 160 1180 C120 1080 85 980 80 880 C75 780 85 680 110 600 C140 520 185 440 240 300 C280 210 330 150 420 100 C450 85 480 75 510 75 Z" fill="url(#shS)"/>
<path d="M510 75 C550 80 585 120 600 200 C620 300 640 450 650 600 C655 750 640 900 600 1050 C575 1150 550 1230 545 1300 C542 1380 545 1440 505 1488 C470 1505 420 1495 350 1450 C270 1380 200 1280 160 1180 C120 1080 85 980 80 880 C75 780 85 680 110 600 C140 520 185 440 240 300 C280 210 330 150 420 100 C450 85 480 75 510 75 Z" fill="url(#shSLm)"/>
<path d="M510 75 C550 80 585 120 600 200 C620 300 640 450 650 600 C655 750 640 900 600 1050 C575 1150 550 1230 545 1300 C542 1380 545 1440 505 1488 C470 1505 420 1495 350 1450 C270 1380 200 1280 160 1180 C120 1080 85 980 80 880 C75 780 85 680 110 600 C140 520 185 440 240 300 C280 210 330 150 420 100 C450 85 480 75 510 75 Z" fill="none" stroke="#000" stroke-opacity="0.45" stroke-width="55" filter="url(#rimblur)"/>
</g></g>
<g transform="translate(395 1240) scale(0.14233)">
<clipPath id="csr"><path d="M860 85 C900 82 950 95 1050 170 C1120 230 1150 320 1170 400 C1190 480 1240 560 1275 660 C1290 740 1290 860 1270 1000 C1250 1100 1210 1180 1150 1280 C1090 1370 1020 1440 950 1485 C900 1510 860 1515 830 1490 C810 1450 800 1350 790 1200 C780 1100 750 1000 735 850 C720 700 720 550 740 400 C755 280 780 160 810 110 C825 92 840 86 860 85 Z"/></clipPath>
<path d="M860 85 C900 82 950 95 1050 170 C1120 230 1150 320 1170 400 C1190 480 1240 560 1275 660 C1290 740 1290 860 1270 1000 C1250 1100 1210 1180 1150 1280 C1090 1370 1020 1440 950 1485 C900 1510 860 1515 830 1490 C810 1450 800 1350 790 1200 C780 1100 750 1000 735 850 C720 700 720 550 740 400 C755 280 780 160 810 110 C825 92 840 86 860 85 Z" fill="#9b9993"/>
<g clip-path="url(#csr)">
<g transform="rotate(5 1005.0 798.5)"><rect x="420" y="-218" width="1170" height="2033" fill="#000" filter="url(#tb4)"/></g>
<path d="M860 85 C900 82 950 95 1050 170 C1120 230 1150 320 1170 400 C1190 480 1240 560 1275 660 C1290 740 1290 860 1270 1000 C1250 1100 1210 1180 1150 1280 C1090 1370 1020 1440 950 1485 C900 1510 860 1515 830 1490 C810 1450 800 1350 790 1200 C780 1100 750 1000 735 850 C720 700 720 550 740 400 C755 280 780 160 810 110 C825 92 840 86 860 85 Z" fill="url(#shS)"/>
<path d="M860 85 C900 82 950 95 1050 170 C1120 230 1150 320 1170 400 C1190 480 1240 560 1275 660 C1290 740 1290 860 1270 1000 C1250 1100 1210 1180 1150 1280 C1090 1370 1020 1440 950 1485 C900 1510 860 1515 830 1490 C810 1450 800 1350 790 1200 C780 1100 750 1000 735 850 C720 700 720 550 740 400 C755 280 780 160 810 110 C825 92 840 86 860 85 Z" fill="url(#shSRm)"/>
<path d="M860 85 C900 82 950 95 1050 170 C1120 230 1150 320 1170 400 C1190 480 1240 560 1275 660 C1290 740 1290 860 1270 1000 C1250 1100 1210 1180 1150 1280 C1090 1370 1020 1440 950 1485 C900 1510 860 1515 830 1490 C810 1450 800 1350 790 1200 C780 1100 750 1000 735 850 C720 700 720 550 740 400 C755 280 780 160 810 110 C825 92 840 86 860 85 Z" fill="none" stroke="#000" stroke-opacity="0.45" stroke-width="55" filter="url(#rimblur)"/>
<path d="M885 1245 Q910 1230 935 1240 Q950 1265 935 1290 Q915 1305 890 1300 Q875 1275 885 1245 Z" fill="#f5ec00"/>
</g></g>
<text x="164.65" y="1273.9" font-size="15.7" textLength="8.73" lengthAdjust="spacingAndGlyphs">L</text>
<text x="326.75" y="1274" font-size="15.7" textLength="11.34" lengthAdjust="spacingAndGlyphs">R</text>
<text x="412.55" y="1241" font-size="15.7" textLength="8.73" lengthAdjust="spacingAndGlyphs">L</text>
<text x="487.86" y="1239" font-size="15.7" textLength="10.47" lengthAdjust="spacingAndGlyphs">A</text>
<text x="564.85" y="1241" font-size="15.7" textLength="11.34" lengthAdjust="spacingAndGlyphs">R</text>
<text x="487.93" y="1462" font-size="15.7" textLength="10.47" lengthAdjust="spacingAndGlyphs">P</text>
<text x="67.55" y="1507.6" font-size="15.2" textLength="60.53" lengthAdjust="spacingAndGlyphs" fill="#111">Location</text>
<text x="189.53" y="1507.6" font-size="15.2" textLength="80.81" lengthAdjust="spacingAndGlyphs" fill="#111">Vertices (#)</text>
<text x="291.63" y="1507.6" font-size="15.2" textLength="73.41" lengthAdjust="spacingAndGlyphs" fill="#111">Cluster (p)</text>
<text x="389.65" y="1507.6" font-size="15.2" textLength="125.39" lengthAdjust="spacingAndGlyphs" fill="#111">Peak MNI (x, y, z)</text>
<text x="553.04" y="1507.6" font-size="15.2" textLength="73.55" lengthAdjust="spacingAndGlyphs" fill="#111">Group diff.</text>
<text x="663.63" y="1507.6" font-size="15.2" textLength="104.85" lengthAdjust="spacingAndGlyphs" fill="#111">Cluster surface</text>
<text x="552.86" y="1525.9" font-size="15.2" textLength="58.29" lengthAdjust="spacingAndGlyphs" fill="#111">(peak p)</text>
<text x="663.2" y="1531.6" font-size="15.2" fill="#111" textLength="44" lengthAdjust="spacingAndGlyphs">(mm<tspan font-size="10.5" dy="-5.5">2</tspan><tspan dy="5.5">)</tspan></text>
<line x1="59.8" y1="1537.9" x2="788.2" y2="1537.9" stroke="#222" stroke-width="1.2"/>
<line x1="59.8" y1="1577.3" x2="788.2" y2="1577.3" stroke="#222" stroke-width="1.2"/>
<text x="68.11" y="1552.6" font-size="15.2" textLength="59.84" lengthAdjust="spacingAndGlyphs" fill="#111">Superior</text>
<text x="188.44" y="1552.6" font-size="15.2" textLength="26.78" lengthAdjust="spacingAndGlyphs" fill="#111">269</text>
<text x="291.81" y="1552.6" font-size="15.2" textLength="38.81" lengthAdjust="spacingAndGlyphs" fill="#111">0.049</text>
<text x="390.44" y="1552.6" font-size="15.2" textLength="113.35" lengthAdjust="spacingAndGlyphs" fill="#111">19.8, -66.3, 51.0</text>
<text x="553.21" y="1552.6" font-size="15.2" textLength="56.46" lengthAdjust="spacingAndGlyphs" fill="#111">0.00027</text>
<text x="663.24" y="1552.6" font-size="15.2" textLength="47.83" lengthAdjust="spacingAndGlyphs" fill="#111">166.33</text>
<text x="67.82" y="1570.5" font-size="15.2" textLength="97.86" lengthAdjust="spacingAndGlyphs" fill="#111">parietal lobule</text>
</svg>
</body></html>
